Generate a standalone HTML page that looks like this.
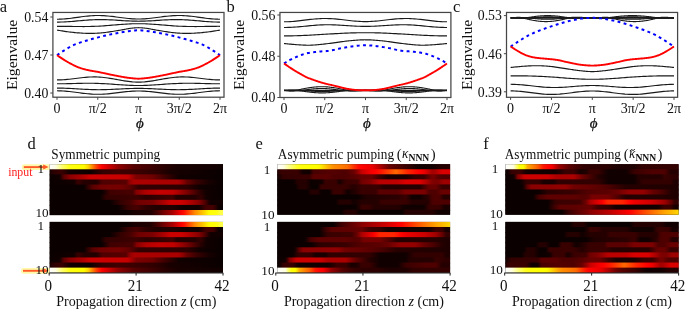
<!DOCTYPE html>
<html>
<head>
<meta charset="utf-8">
<title>Figure</title>
<style>
html,body{margin:0;padding:0;background:#ffffff;}
body{width:685px;height:309px;overflow:hidden;font-family:"Liberation Serif",serif;}
svg{display:block;will-change:transform;}
</style>
</head>
<body>
<svg width="685" height="309" viewBox="0 0 685 309" font-family="'Liberation Serif', serif" fill="#111">
<defs>
<linearGradient id="g1"><stop offset="0.0000" stop-color="#ffffff"/><stop offset="0.0116" stop-color="#fffff5"/><stop offset="0.0233" stop-color="#ffffeb"/><stop offset="0.0349" stop-color="#ffffe1"/><stop offset="0.0465" stop-color="#ffffbc"/><stop offset="0.0581" stop-color="#ffff97"/><stop offset="0.0698" stop-color="#ffff72"/><stop offset="0.0814" stop-color="#ffff5b"/><stop offset="0.0930" stop-color="#ffff43"/><stop offset="0.1047" stop-color="#ffff2b"/><stop offset="0.1163" stop-color="#ffff13"/><stop offset="0.1279" stop-color="#ffff0f"/><stop offset="0.1395" stop-color="#ffff0c"/><stop offset="0.1512" stop-color="#ffff08"/><stop offset="0.1628" stop-color="#ffff05"/><stop offset="0.1744" stop-color="#ffff01"/><stop offset="0.1860" stop-color="#fffd00"/><stop offset="0.1977" stop-color="#fffb00"/><stop offset="0.2093" stop-color="#ffe900"/><stop offset="0.2209" stop-color="#ffd600"/><stop offset="0.2326" stop-color="#ffb300"/><stop offset="0.2442" stop-color="#ff8b00"/><stop offset="0.2558" stop-color="#ff6800"/><stop offset="0.2674" stop-color="#ff4600"/><stop offset="0.2791" stop-color="#ff2900"/><stop offset="0.2907" stop-color="#ff1300"/><stop offset="0.3023" stop-color="#fc0000"/><stop offset="0.3140" stop-color="#ee0000"/><stop offset="0.3256" stop-color="#e10000"/><stop offset="0.3372" stop-color="#d30000"/><stop offset="0.3488" stop-color="#c60000"/><stop offset="0.3605" stop-color="#b90000"/><stop offset="0.3721" stop-color="#ab0000"/><stop offset="0.3837" stop-color="#9e0000"/><stop offset="0.3953" stop-color="#900000"/><stop offset="0.4070" stop-color="#890000"/><stop offset="0.4186" stop-color="#810000"/><stop offset="0.4302" stop-color="#7a0000"/><stop offset="0.4419" stop-color="#720000"/><stop offset="0.4535" stop-color="#6b0000"/><stop offset="0.4651" stop-color="#630000"/><stop offset="0.4767" stop-color="#5c0000"/><stop offset="0.4884" stop-color="#540000"/><stop offset="0.5000" stop-color="#520000"/><stop offset="0.5116" stop-color="#4f0000"/><stop offset="0.5233" stop-color="#4d0000"/><stop offset="0.5349" stop-color="#4a0000"/><stop offset="0.5465" stop-color="#480000"/><stop offset="0.5581" stop-color="#450000"/><stop offset="0.5698" stop-color="#430000"/><stop offset="0.5814" stop-color="#400000"/><stop offset="0.5930" stop-color="#3d0000"/><stop offset="0.6047" stop-color="#390000"/><stop offset="0.6163" stop-color="#360000"/><stop offset="0.6279" stop-color="#330000"/><stop offset="0.6395" stop-color="#2f0000"/><stop offset="0.6512" stop-color="#2c0000"/><stop offset="0.6628" stop-color="#290000"/><stop offset="0.6744" stop-color="#250000"/><stop offset="0.6860" stop-color="#230000"/><stop offset="0.6977" stop-color="#210000"/><stop offset="0.7093" stop-color="#1f0000"/><stop offset="0.7209" stop-color="#1c0000"/><stop offset="0.7326" stop-color="#1a0000"/><stop offset="0.7442" stop-color="#180000"/><stop offset="0.7558" stop-color="#180000"/><stop offset="0.7674" stop-color="#170000"/><stop offset="0.7907" stop-color="#170000"/><stop offset="0.8023" stop-color="#160000"/><stop offset="0.8256" stop-color="#160000"/><stop offset="0.8372" stop-color="#150000"/><stop offset="0.8605" stop-color="#150000"/><stop offset="0.8721" stop-color="#140000"/><stop offset="0.8953" stop-color="#140000"/><stop offset="0.9070" stop-color="#130000"/><stop offset="0.9302" stop-color="#130000"/><stop offset="0.9419" stop-color="#120000"/><stop offset="0.9651" stop-color="#120000"/><stop offset="0.9767" stop-color="#110000"/><stop offset="1.0000" stop-color="#110000"/></linearGradient>
<linearGradient id="g2"><stop offset="0.0000" stop-color="#180000"/><stop offset="0.0116" stop-color="#220000"/><stop offset="0.0233" stop-color="#2c0000"/><stop offset="0.0349" stop-color="#2f0000"/><stop offset="0.0465" stop-color="#330000"/><stop offset="0.0581" stop-color="#360000"/><stop offset="0.0698" stop-color="#390000"/><stop offset="0.0814" stop-color="#2f0000"/><stop offset="0.0930" stop-color="#250000"/><stop offset="0.1047" stop-color="#1b0000"/><stop offset="0.1163" stop-color="#110000"/><stop offset="0.1279" stop-color="#110000"/><stop offset="0.1395" stop-color="#100000"/><stop offset="0.1512" stop-color="#0f0000"/><stop offset="0.1628" stop-color="#0f0000"/><stop offset="0.1744" stop-color="#0e0000"/><stop offset="0.1860" stop-color="#0d0000"/><stop offset="0.1977" stop-color="#0d0000"/><stop offset="0.2093" stop-color="#0c0000"/><stop offset="0.2209" stop-color="#0b0000"/><stop offset="0.2326" stop-color="#0b0000"/><stop offset="0.2442" stop-color="#110000"/><stop offset="0.2558" stop-color="#180000"/><stop offset="0.2674" stop-color="#1f0000"/><stop offset="0.2791" stop-color="#250000"/><stop offset="0.2907" stop-color="#2c0000"/><stop offset="0.3023" stop-color="#330000"/><stop offset="0.3140" stop-color="#340000"/><stop offset="0.3256" stop-color="#360000"/><stop offset="0.3372" stop-color="#380000"/><stop offset="0.3488" stop-color="#390000"/><stop offset="0.3605" stop-color="#3b0000"/><stop offset="0.3721" stop-color="#3d0000"/><stop offset="0.3837" stop-color="#3e0000"/><stop offset="0.3953" stop-color="#400000"/><stop offset="0.4070" stop-color="#3f0000"/><stop offset="0.4186" stop-color="#3f0000"/><stop offset="0.4302" stop-color="#3e0000"/><stop offset="0.4419" stop-color="#3d0000"/><stop offset="0.4535" stop-color="#3d0000"/><stop offset="0.4651" stop-color="#3c0000"/><stop offset="0.4767" stop-color="#3b0000"/><stop offset="0.4884" stop-color="#3b0000"/><stop offset="0.5000" stop-color="#3a0000"/><stop offset="0.5116" stop-color="#390000"/><stop offset="0.5233" stop-color="#380000"/><stop offset="0.5349" stop-color="#370000"/><stop offset="0.5465" stop-color="#350000"/><stop offset="0.5581" stop-color="#340000"/><stop offset="0.5698" stop-color="#330000"/><stop offset="0.5814" stop-color="#310000"/><stop offset="0.5930" stop-color="#300000"/><stop offset="0.6047" stop-color="#2f0000"/><stop offset="0.6163" stop-color="#2d0000"/><stop offset="0.6279" stop-color="#2c0000"/><stop offset="0.6395" stop-color="#290000"/><stop offset="0.6512" stop-color="#250000"/><stop offset="0.6628" stop-color="#220000"/><stop offset="0.6744" stop-color="#1f0000"/><stop offset="0.6860" stop-color="#1b0000"/><stop offset="0.6977" stop-color="#180000"/><stop offset="0.7093" stop-color="#170000"/><stop offset="0.7209" stop-color="#170000"/><stop offset="0.7326" stop-color="#160000"/><stop offset="0.7442" stop-color="#160000"/><stop offset="0.7558" stop-color="#150000"/><stop offset="0.7674" stop-color="#150000"/><stop offset="0.7791" stop-color="#140000"/><stop offset="0.7907" stop-color="#140000"/><stop offset="0.8023" stop-color="#130000"/><stop offset="0.8140" stop-color="#120000"/><stop offset="0.8256" stop-color="#120000"/><stop offset="0.8372" stop-color="#110000"/><stop offset="0.8488" stop-color="#110000"/><stop offset="0.8605" stop-color="#100000"/><stop offset="0.8721" stop-color="#100000"/><stop offset="0.8837" stop-color="#0f0000"/><stop offset="0.8953" stop-color="#0f0000"/><stop offset="0.9070" stop-color="#0e0000"/><stop offset="0.9186" stop-color="#0d0000"/><stop offset="0.9302" stop-color="#0d0000"/><stop offset="0.9419" stop-color="#0c0000"/><stop offset="0.9535" stop-color="#0c0000"/><stop offset="0.9651" stop-color="#0b0000"/><stop offset="1.0000" stop-color="#0b0000"/></linearGradient>
<linearGradient id="g3"><stop offset="0.0000" stop-color="#0b0000"/><stop offset="0.0116" stop-color="#0c0000"/><stop offset="0.0233" stop-color="#0d0000"/><stop offset="0.0349" stop-color="#0f0000"/><stop offset="0.0465" stop-color="#100000"/><stop offset="0.0581" stop-color="#110000"/><stop offset="0.0698" stop-color="#360000"/><stop offset="0.0814" stop-color="#5b0000"/><stop offset="0.0930" stop-color="#6b0000"/><stop offset="0.1047" stop-color="#7a0000"/><stop offset="0.1163" stop-color="#8a0000"/><stop offset="0.1279" stop-color="#8f0000"/><stop offset="0.1395" stop-color="#950000"/><stop offset="0.1512" stop-color="#9b0000"/><stop offset="0.1628" stop-color="#a00000"/><stop offset="0.1744" stop-color="#a60000"/><stop offset="0.1860" stop-color="#ab0000"/><stop offset="0.1977" stop-color="#b30000"/><stop offset="0.2093" stop-color="#ba0000"/><stop offset="0.2209" stop-color="#c20000"/><stop offset="0.2326" stop-color="#ca0000"/><stop offset="0.2442" stop-color="#cd0000"/><stop offset="0.2558" stop-color="#cc0000"/><stop offset="0.2674" stop-color="#cc0000"/><stop offset="0.2791" stop-color="#cb0000"/><stop offset="0.3023" stop-color="#cb0000"/><stop offset="0.3140" stop-color="#ca0000"/><stop offset="0.3372" stop-color="#ca0000"/><stop offset="0.3488" stop-color="#c90000"/><stop offset="0.3721" stop-color="#c90000"/><stop offset="0.3837" stop-color="#c80000"/><stop offset="0.3953" stop-color="#c80000"/><stop offset="0.4070" stop-color="#c70000"/><stop offset="0.4302" stop-color="#c70000"/><stop offset="0.4419" stop-color="#c60000"/><stop offset="0.4535" stop-color="#c20000"/><stop offset="0.4651" stop-color="#b00000"/><stop offset="0.4767" stop-color="#9e0000"/><stop offset="0.4884" stop-color="#8d0000"/><stop offset="0.5000" stop-color="#7c0000"/><stop offset="0.5116" stop-color="#7b0000"/><stop offset="0.5233" stop-color="#790000"/><stop offset="0.5349" stop-color="#770000"/><stop offset="0.5465" stop-color="#760000"/><stop offset="0.5581" stop-color="#740000"/><stop offset="0.5698" stop-color="#720000"/><stop offset="0.5814" stop-color="#700000"/><stop offset="0.5930" stop-color="#6d0000"/><stop offset="0.6047" stop-color="#660000"/><stop offset="0.6163" stop-color="#5e0000"/><stop offset="0.6279" stop-color="#560000"/><stop offset="0.6395" stop-color="#4f0000"/><stop offset="0.6512" stop-color="#470000"/><stop offset="0.6628" stop-color="#400000"/><stop offset="0.6744" stop-color="#390000"/><stop offset="0.6860" stop-color="#330000"/><stop offset="0.6977" stop-color="#2c0000"/><stop offset="0.7093" stop-color="#250000"/><stop offset="0.7209" stop-color="#1f0000"/><stop offset="0.7326" stop-color="#180000"/><stop offset="0.7442" stop-color="#110000"/><stop offset="0.7674" stop-color="#110000"/><stop offset="0.7791" stop-color="#100000"/><stop offset="0.8023" stop-color="#100000"/><stop offset="0.8140" stop-color="#0f0000"/><stop offset="0.8372" stop-color="#0f0000"/><stop offset="0.8488" stop-color="#0e0000"/><stop offset="0.8721" stop-color="#0e0000"/><stop offset="0.8837" stop-color="#0d0000"/><stop offset="0.9070" stop-color="#0d0000"/><stop offset="0.9186" stop-color="#0c0000"/><stop offset="0.9419" stop-color="#0c0000"/><stop offset="0.9535" stop-color="#0b0000"/><stop offset="1.0000" stop-color="#0b0000"/></linearGradient>
<linearGradient id="g4"><stop offset="0.0000" stop-color="#0b0000"/><stop offset="0.0116" stop-color="#0b0000"/><stop offset="0.0233" stop-color="#0c0000"/><stop offset="0.0349" stop-color="#0c0000"/><stop offset="0.0465" stop-color="#0d0000"/><stop offset="0.0581" stop-color="#0d0000"/><stop offset="0.0698" stop-color="#0e0000"/><stop offset="0.0814" stop-color="#0f0000"/><stop offset="0.0930" stop-color="#0f0000"/><stop offset="0.1047" stop-color="#100000"/><stop offset="0.1163" stop-color="#100000"/><stop offset="0.1279" stop-color="#110000"/><stop offset="0.1395" stop-color="#110000"/><stop offset="0.1512" stop-color="#250000"/><stop offset="0.1628" stop-color="#390000"/><stop offset="0.1744" stop-color="#330000"/><stop offset="0.1860" stop-color="#2c0000"/><stop offset="0.1977" stop-color="#250000"/><stop offset="0.2093" stop-color="#250000"/><stop offset="0.2209" stop-color="#240000"/><stop offset="0.2326" stop-color="#240000"/><stop offset="0.2442" stop-color="#230000"/><stop offset="0.2558" stop-color="#230000"/><stop offset="0.2674" stop-color="#220000"/><stop offset="0.2791" stop-color="#2b0000"/><stop offset="0.2907" stop-color="#400000"/><stop offset="0.3023" stop-color="#4e0000"/><stop offset="0.3140" stop-color="#4f0000"/><stop offset="0.3256" stop-color="#4f0000"/><stop offset="0.3372" stop-color="#500000"/><stop offset="0.3488" stop-color="#510000"/><stop offset="0.3605" stop-color="#520000"/><stop offset="0.3721" stop-color="#530000"/><stop offset="0.3837" stop-color="#540000"/><stop offset="0.3953" stop-color="#540000"/><stop offset="0.4070" stop-color="#550000"/><stop offset="0.4186" stop-color="#560000"/><stop offset="0.4302" stop-color="#570000"/><stop offset="0.4419" stop-color="#580000"/><stop offset="0.4535" stop-color="#7b0000"/><stop offset="0.4651" stop-color="#950000"/><stop offset="0.4767" stop-color="#a00000"/><stop offset="0.4884" stop-color="#ab0000"/><stop offset="0.7326" stop-color="#ab0000"/><stop offset="0.7442" stop-color="#a70000"/><stop offset="0.7558" stop-color="#9c0000"/><stop offset="0.7674" stop-color="#900000"/><stop offset="0.7791" stop-color="#7c0000"/><stop offset="0.7907" stop-color="#680000"/><stop offset="0.8023" stop-color="#5f0000"/><stop offset="0.8140" stop-color="#560000"/><stop offset="0.8256" stop-color="#4c0000"/><stop offset="0.8372" stop-color="#430000"/><stop offset="0.8488" stop-color="#390000"/><stop offset="0.8605" stop-color="#340000"/><stop offset="0.8721" stop-color="#2e0000"/><stop offset="0.8837" stop-color="#290000"/><stop offset="0.8953" stop-color="#230000"/><stop offset="0.9070" stop-color="#1e0000"/><stop offset="0.9186" stop-color="#180000"/><stop offset="0.9302" stop-color="#150000"/><stop offset="0.9419" stop-color="#130000"/><stop offset="0.9535" stop-color="#100000"/><stop offset="0.9651" stop-color="#0d0000"/><stop offset="0.9767" stop-color="#0b0000"/><stop offset="1.0000" stop-color="#0b0000"/></linearGradient>
<linearGradient id="g5"><stop offset="0.0000" stop-color="#0b0000"/><stop offset="0.1977" stop-color="#0b0000"/><stop offset="0.2093" stop-color="#1d0000"/><stop offset="0.2209" stop-color="#2f0000"/><stop offset="0.2326" stop-color="#410000"/><stop offset="0.2442" stop-color="#540000"/><stop offset="0.2558" stop-color="#5e0000"/><stop offset="0.2674" stop-color="#640000"/><stop offset="0.2791" stop-color="#690000"/><stop offset="0.2907" stop-color="#6f0000"/><stop offset="0.3023" stop-color="#730000"/><stop offset="0.3256" stop-color="#730000"/><stop offset="0.3372" stop-color="#740000"/><stop offset="0.3605" stop-color="#740000"/><stop offset="0.3721" stop-color="#750000"/><stop offset="0.3837" stop-color="#750000"/><stop offset="0.3953" stop-color="#760000"/><stop offset="0.4070" stop-color="#730000"/><stop offset="0.4186" stop-color="#700000"/><stop offset="0.4302" stop-color="#6c0000"/><stop offset="0.4419" stop-color="#680000"/><stop offset="0.4535" stop-color="#630000"/><stop offset="0.4651" stop-color="#5a0000"/><stop offset="0.4767" stop-color="#500000"/><stop offset="0.4884" stop-color="#470000"/><stop offset="0.5000" stop-color="#3d0000"/><stop offset="0.5116" stop-color="#330000"/><stop offset="0.5581" stop-color="#330000"/><stop offset="0.5698" stop-color="#320000"/><stop offset="0.5930" stop-color="#320000"/><stop offset="0.6047" stop-color="#310000"/><stop offset="0.6279" stop-color="#310000"/><stop offset="0.6395" stop-color="#300000"/><stop offset="0.6628" stop-color="#300000"/><stop offset="0.6744" stop-color="#2f0000"/><stop offset="0.6977" stop-color="#2f0000"/><stop offset="0.7093" stop-color="#2e0000"/><stop offset="0.7326" stop-color="#2e0000"/><stop offset="0.7442" stop-color="#2d0000"/><stop offset="0.7674" stop-color="#2d0000"/><stop offset="0.7791" stop-color="#2c0000"/><stop offset="0.7907" stop-color="#2c0000"/><stop offset="0.8023" stop-color="#280000"/><stop offset="0.8140" stop-color="#230000"/><stop offset="0.8256" stop-color="#1f0000"/><stop offset="0.8372" stop-color="#1a0000"/><stop offset="0.8488" stop-color="#160000"/><stop offset="0.8605" stop-color="#110000"/><stop offset="0.8721" stop-color="#110000"/><stop offset="0.8837" stop-color="#100000"/><stop offset="0.8953" stop-color="#0f0000"/><stop offset="0.9070" stop-color="#0f0000"/><stop offset="0.9186" stop-color="#0e0000"/><stop offset="0.9302" stop-color="#0d0000"/><stop offset="0.9419" stop-color="#0d0000"/><stop offset="0.9535" stop-color="#0c0000"/><stop offset="0.9651" stop-color="#0b0000"/><stop offset="1.0000" stop-color="#0b0000"/></linearGradient>
<linearGradient id="g6"><stop offset="0.0000" stop-color="#0b0000"/><stop offset="0.3023" stop-color="#0b0000"/><stop offset="0.3140" stop-color="#180000"/><stop offset="0.3256" stop-color="#250000"/><stop offset="0.3372" stop-color="#330000"/><stop offset="0.3488" stop-color="#400000"/><stop offset="0.3605" stop-color="#410000"/><stop offset="0.3721" stop-color="#410000"/><stop offset="0.3837" stop-color="#420000"/><stop offset="0.3953" stop-color="#430000"/><stop offset="0.4070" stop-color="#430000"/><stop offset="0.4186" stop-color="#440000"/><stop offset="0.4302" stop-color="#440000"/><stop offset="0.4419" stop-color="#450000"/><stop offset="0.4535" stop-color="#450000"/><stop offset="0.4651" stop-color="#460000"/><stop offset="0.4767" stop-color="#470000"/><stop offset="0.4884" stop-color="#5d0000"/><stop offset="0.5000" stop-color="#830000"/><stop offset="0.5116" stop-color="#8c0000"/><stop offset="0.5233" stop-color="#960000"/><stop offset="0.5349" stop-color="#9f0000"/><stop offset="0.5465" stop-color="#a90000"/><stop offset="0.5581" stop-color="#b20000"/><stop offset="0.5698" stop-color="#b50000"/><stop offset="0.5814" stop-color="#b80000"/><stop offset="0.5930" stop-color="#bb0000"/><stop offset="0.6047" stop-color="#be0000"/><stop offset="0.6163" stop-color="#c10000"/><stop offset="0.6279" stop-color="#c40000"/><stop offset="0.6395" stop-color="#c60000"/><stop offset="0.6512" stop-color="#c50000"/><stop offset="0.6628" stop-color="#c40000"/><stop offset="0.6744" stop-color="#c30000"/><stop offset="0.6860" stop-color="#c20000"/><stop offset="0.6977" stop-color="#c10000"/><stop offset="0.7093" stop-color="#c00000"/><stop offset="0.7209" stop-color="#ba0000"/><stop offset="0.7326" stop-color="#b00000"/><stop offset="0.7442" stop-color="#a70000"/><stop offset="0.7558" stop-color="#9e0000"/><stop offset="0.7674" stop-color="#930000"/><stop offset="0.7791" stop-color="#880000"/><stop offset="0.7907" stop-color="#7d0000"/><stop offset="0.8023" stop-color="#710000"/><stop offset="0.8140" stop-color="#660000"/><stop offset="0.8256" stop-color="#590000"/><stop offset="0.8372" stop-color="#4d0000"/><stop offset="0.8488" stop-color="#400000"/><stop offset="0.8605" stop-color="#330000"/><stop offset="0.8721" stop-color="#290000"/><stop offset="0.8837" stop-color="#200000"/><stop offset="0.8953" stop-color="#170000"/><stop offset="0.9070" stop-color="#110000"/><stop offset="0.9186" stop-color="#100000"/><stop offset="0.9302" stop-color="#0f0000"/><stop offset="0.9419" stop-color="#0e0000"/><stop offset="0.9535" stop-color="#0d0000"/><stop offset="0.9651" stop-color="#0c0000"/><stop offset="0.9767" stop-color="#0b0000"/><stop offset="1.0000" stop-color="#0b0000"/></linearGradient>
<linearGradient id="g7"><stop offset="0.0000" stop-color="#0b0000"/><stop offset="0.2907" stop-color="#0b0000"/><stop offset="0.3023" stop-color="#180000"/><stop offset="0.3140" stop-color="#250000"/><stop offset="0.3256" stop-color="#330000"/><stop offset="0.3372" stop-color="#330000"/><stop offset="0.3488" stop-color="#340000"/><stop offset="0.3605" stop-color="#350000"/><stop offset="0.3721" stop-color="#350000"/><stop offset="0.3837" stop-color="#360000"/><stop offset="0.3953" stop-color="#370000"/><stop offset="0.4070" stop-color="#370000"/><stop offset="0.4186" stop-color="#380000"/><stop offset="0.4302" stop-color="#390000"/><stop offset="0.4419" stop-color="#390000"/><stop offset="0.4535" stop-color="#3a0000"/><stop offset="0.4651" stop-color="#3b0000"/><stop offset="0.4767" stop-color="#3b0000"/><stop offset="0.4884" stop-color="#3c0000"/><stop offset="0.5000" stop-color="#3d0000"/><stop offset="0.5116" stop-color="#390000"/><stop offset="0.5233" stop-color="#360000"/><stop offset="0.5349" stop-color="#330000"/><stop offset="0.5465" stop-color="#2f0000"/><stop offset="0.5581" stop-color="#2c0000"/><stop offset="0.5698" stop-color="#2e0000"/><stop offset="0.5814" stop-color="#2f0000"/><stop offset="0.5930" stop-color="#310000"/><stop offset="0.6047" stop-color="#320000"/><stop offset="0.6163" stop-color="#340000"/><stop offset="0.6279" stop-color="#350000"/><stop offset="0.6395" stop-color="#370000"/><stop offset="0.6512" stop-color="#380000"/><stop offset="0.6628" stop-color="#3a0000"/><stop offset="0.6744" stop-color="#3c0000"/><stop offset="0.6860" stop-color="#3d0000"/><stop offset="0.6977" stop-color="#3f0000"/><stop offset="0.7093" stop-color="#400000"/><stop offset="0.7209" stop-color="#310000"/><stop offset="0.7326" stop-color="#220000"/><stop offset="0.8372" stop-color="#220000"/><stop offset="0.8488" stop-color="#280000"/><stop offset="0.8605" stop-color="#2d0000"/><stop offset="0.8721" stop-color="#330000"/><stop offset="0.8837" stop-color="#280000"/><stop offset="0.8953" stop-color="#1c0000"/><stop offset="0.9070" stop-color="#110000"/><stop offset="0.9186" stop-color="#100000"/><stop offset="0.9302" stop-color="#0f0000"/><stop offset="0.9419" stop-color="#0e0000"/><stop offset="0.9535" stop-color="#0d0000"/><stop offset="0.9651" stop-color="#0c0000"/><stop offset="0.9767" stop-color="#0b0000"/><stop offset="1.0000" stop-color="#0b0000"/></linearGradient>
<linearGradient id="g8"><stop offset="0.0000" stop-color="#0b0000"/><stop offset="0.3488" stop-color="#0b0000"/><stop offset="0.3605" stop-color="#130000"/><stop offset="0.3721" stop-color="#1b0000"/><stop offset="0.3837" stop-color="#230000"/><stop offset="0.3953" stop-color="#2b0000"/><stop offset="0.4070" stop-color="#330000"/><stop offset="0.4186" stop-color="#370000"/><stop offset="0.4302" stop-color="#3b0000"/><stop offset="0.4419" stop-color="#3f0000"/><stop offset="0.4535" stop-color="#430000"/><stop offset="0.4651" stop-color="#470000"/><stop offset="0.4767" stop-color="#510000"/><stop offset="0.4884" stop-color="#5b0000"/><stop offset="0.5000" stop-color="#650000"/><stop offset="0.5116" stop-color="#6f0000"/><stop offset="0.5233" stop-color="#710000"/><stop offset="0.5349" stop-color="#730000"/><stop offset="0.5465" stop-color="#750000"/><stop offset="0.5581" stop-color="#770000"/><stop offset="0.5698" stop-color="#790000"/><stop offset="0.5814" stop-color="#7a0000"/><stop offset="0.5930" stop-color="#7c0000"/><stop offset="0.6047" stop-color="#840000"/><stop offset="0.6163" stop-color="#8d0000"/><stop offset="0.6279" stop-color="#950000"/><stop offset="0.6395" stop-color="#9d0000"/><stop offset="0.6512" stop-color="#a50000"/><stop offset="0.6628" stop-color="#ad0000"/><stop offset="0.6744" stop-color="#b80000"/><stop offset="0.6860" stop-color="#c20000"/><stop offset="0.6977" stop-color="#cd0000"/><stop offset="0.7558" stop-color="#cd0000"/><stop offset="0.7674" stop-color="#c80000"/><stop offset="0.7791" stop-color="#c10000"/><stop offset="0.7907" stop-color="#ba0000"/><stop offset="0.8023" stop-color="#b30000"/><stop offset="0.8140" stop-color="#ab0000"/><stop offset="0.8256" stop-color="#a20000"/><stop offset="0.8372" stop-color="#9a0000"/><stop offset="0.8488" stop-color="#910000"/><stop offset="0.8605" stop-color="#880000"/><stop offset="0.8721" stop-color="#750000"/><stop offset="0.8837" stop-color="#620000"/><stop offset="0.8953" stop-color="#4f0000"/><stop offset="0.9070" stop-color="#390000"/><stop offset="0.9186" stop-color="#1d0000"/><stop offset="0.9302" stop-color="#110000"/><stop offset="1.0000" stop-color="#110000"/></linearGradient>
<linearGradient id="g9"><stop offset="0.0000" stop-color="#0b0000"/><stop offset="0.3953" stop-color="#0b0000"/><stop offset="0.4070" stop-color="#140000"/><stop offset="0.4186" stop-color="#1d0000"/><stop offset="0.4302" stop-color="#270000"/><stop offset="0.4419" stop-color="#300000"/><stop offset="0.4535" stop-color="#390000"/><stop offset="0.4651" stop-color="#3d0000"/><stop offset="0.4767" stop-color="#400000"/><stop offset="0.4884" stop-color="#440000"/><stop offset="0.5000" stop-color="#470000"/><stop offset="0.5116" stop-color="#420000"/><stop offset="0.5233" stop-color="#3c0000"/><stop offset="0.5349" stop-color="#370000"/><stop offset="0.5465" stop-color="#310000"/><stop offset="0.5581" stop-color="#2c0000"/><stop offset="0.5698" stop-color="#2a0000"/><stop offset="0.5814" stop-color="#280000"/><stop offset="0.5930" stop-color="#250000"/><stop offset="0.6047" stop-color="#230000"/><stop offset="0.6163" stop-color="#210000"/><stop offset="0.6279" stop-color="#1f0000"/><stop offset="0.6395" stop-color="#1f0000"/><stop offset="0.6512" stop-color="#200000"/><stop offset="0.6628" stop-color="#200000"/><stop offset="0.6744" stop-color="#210000"/><stop offset="0.6977" stop-color="#210000"/><stop offset="0.7093" stop-color="#220000"/><stop offset="0.7209" stop-color="#1f0000"/><stop offset="0.7326" stop-color="#1c0000"/><stop offset="0.7442" stop-color="#180000"/><stop offset="0.7558" stop-color="#150000"/><stop offset="0.7674" stop-color="#110000"/><stop offset="0.8605" stop-color="#110000"/><stop offset="0.8721" stop-color="#1f0000"/><stop offset="0.8837" stop-color="#2e0000"/><stop offset="0.8953" stop-color="#3c0000"/><stop offset="0.9070" stop-color="#440000"/><stop offset="0.9419" stop-color="#440000"/><stop offset="0.9535" stop-color="#320000"/><stop offset="0.9651" stop-color="#1c0000"/><stop offset="0.9767" stop-color="#0b0000"/><stop offset="1.0000" stop-color="#0b0000"/></linearGradient>
<linearGradient id="g10"><stop offset="0.0000" stop-color="#0b0000"/><stop offset="0.4419" stop-color="#0b0000"/><stop offset="0.4535" stop-color="#0e0000"/><stop offset="0.4651" stop-color="#110000"/><stop offset="0.4767" stop-color="#150000"/><stop offset="0.4884" stop-color="#180000"/><stop offset="0.5000" stop-color="#190000"/><stop offset="0.5116" stop-color="#1a0000"/><stop offset="0.5233" stop-color="#1b0000"/><stop offset="0.5349" stop-color="#1b0000"/><stop offset="0.5465" stop-color="#1c0000"/><stop offset="0.5581" stop-color="#1d0000"/><stop offset="0.5698" stop-color="#1e0000"/><stop offset="0.5814" stop-color="#1f0000"/><stop offset="0.5930" stop-color="#2a0000"/><stop offset="0.6047" stop-color="#350000"/><stop offset="0.6163" stop-color="#400000"/><stop offset="0.6279" stop-color="#4e0000"/><stop offset="0.6395" stop-color="#5c0000"/><stop offset="0.6512" stop-color="#6a0000"/><stop offset="0.6628" stop-color="#780000"/><stop offset="0.6744" stop-color="#840000"/><stop offset="0.6860" stop-color="#900000"/><stop offset="0.6977" stop-color="#9d0000"/><stop offset="0.7093" stop-color="#a90000"/><stop offset="0.7209" stop-color="#bb0000"/><stop offset="0.7326" stop-color="#cf0000"/><stop offset="0.7442" stop-color="#e20000"/><stop offset="0.7558" stop-color="#f40000"/><stop offset="0.7674" stop-color="#ff0500"/><stop offset="0.7791" stop-color="#ff1500"/><stop offset="0.7907" stop-color="#ff2c00"/><stop offset="0.8023" stop-color="#ff4400"/><stop offset="0.8140" stop-color="#ff5b00"/><stop offset="0.8256" stop-color="#ff7200"/><stop offset="0.8372" stop-color="#ff8900"/><stop offset="0.8488" stop-color="#ff9800"/><stop offset="0.8605" stop-color="#ffa800"/><stop offset="0.8721" stop-color="#ffb700"/><stop offset="0.8837" stop-color="#ffc600"/><stop offset="0.8953" stop-color="#ffd700"/><stop offset="0.9070" stop-color="#ffe900"/><stop offset="0.9186" stop-color="#fffb00"/><stop offset="0.9302" stop-color="#ffff06"/><stop offset="0.9419" stop-color="#ffff09"/><stop offset="0.9535" stop-color="#ffff0c"/><stop offset="0.9651" stop-color="#ffff14"/><stop offset="0.9767" stop-color="#ffff2f"/><stop offset="0.9884" stop-color="#ffff4a"/><stop offset="1.0000" stop-color="#ffff4a"/></linearGradient>
<linearGradient id="g11"><stop offset="0.0000" stop-color="#0b0000"/><stop offset="0.4419" stop-color="#0b0000"/><stop offset="0.4535" stop-color="#0e0000"/><stop offset="0.4651" stop-color="#110000"/><stop offset="0.4767" stop-color="#150000"/><stop offset="0.4884" stop-color="#180000"/><stop offset="0.5000" stop-color="#190000"/><stop offset="0.5116" stop-color="#1a0000"/><stop offset="0.5233" stop-color="#1b0000"/><stop offset="0.5349" stop-color="#1b0000"/><stop offset="0.5465" stop-color="#1c0000"/><stop offset="0.5581" stop-color="#1d0000"/><stop offset="0.5698" stop-color="#1e0000"/><stop offset="0.5814" stop-color="#1f0000"/><stop offset="0.5930" stop-color="#2a0000"/><stop offset="0.6047" stop-color="#350000"/><stop offset="0.6163" stop-color="#400000"/><stop offset="0.6279" stop-color="#4e0000"/><stop offset="0.6395" stop-color="#5c0000"/><stop offset="0.6512" stop-color="#6a0000"/><stop offset="0.6628" stop-color="#780000"/><stop offset="0.6744" stop-color="#840000"/><stop offset="0.6860" stop-color="#900000"/><stop offset="0.6977" stop-color="#9d0000"/><stop offset="0.7093" stop-color="#a90000"/><stop offset="0.7209" stop-color="#bb0000"/><stop offset="0.7326" stop-color="#cf0000"/><stop offset="0.7442" stop-color="#e20000"/><stop offset="0.7558" stop-color="#f40000"/><stop offset="0.7674" stop-color="#ff0500"/><stop offset="0.7791" stop-color="#ff1500"/><stop offset="0.7907" stop-color="#ff2c00"/><stop offset="0.8023" stop-color="#ff4400"/><stop offset="0.8140" stop-color="#ff5b00"/><stop offset="0.8256" stop-color="#ff7200"/><stop offset="0.8372" stop-color="#ff8900"/><stop offset="0.8488" stop-color="#ff9800"/><stop offset="0.8605" stop-color="#ffa800"/><stop offset="0.8721" stop-color="#ffb700"/><stop offset="0.8837" stop-color="#ffc600"/><stop offset="0.8953" stop-color="#ffd700"/><stop offset="0.9070" stop-color="#ffe900"/><stop offset="0.9186" stop-color="#fffb00"/><stop offset="0.9302" stop-color="#ffff06"/><stop offset="0.9419" stop-color="#ffff09"/><stop offset="0.9535" stop-color="#ffff0c"/><stop offset="0.9651" stop-color="#ffff14"/><stop offset="0.9767" stop-color="#ffff2f"/><stop offset="0.9884" stop-color="#ffff4a"/><stop offset="1.0000" stop-color="#ffff4a"/></linearGradient>
<linearGradient id="g12"><stop offset="0.0000" stop-color="#0b0000"/><stop offset="0.3953" stop-color="#0b0000"/><stop offset="0.4070" stop-color="#140000"/><stop offset="0.4186" stop-color="#1d0000"/><stop offset="0.4302" stop-color="#270000"/><stop offset="0.4419" stop-color="#300000"/><stop offset="0.4535" stop-color="#390000"/><stop offset="0.4651" stop-color="#3d0000"/><stop offset="0.4767" stop-color="#400000"/><stop offset="0.4884" stop-color="#440000"/><stop offset="0.5000" stop-color="#470000"/><stop offset="0.5116" stop-color="#420000"/><stop offset="0.5233" stop-color="#3c0000"/><stop offset="0.5349" stop-color="#370000"/><stop offset="0.5465" stop-color="#310000"/><stop offset="0.5581" stop-color="#2c0000"/><stop offset="0.5698" stop-color="#2a0000"/><stop offset="0.5814" stop-color="#280000"/><stop offset="0.5930" stop-color="#250000"/><stop offset="0.6047" stop-color="#230000"/><stop offset="0.6163" stop-color="#210000"/><stop offset="0.6279" stop-color="#1f0000"/><stop offset="0.6395" stop-color="#1f0000"/><stop offset="0.6512" stop-color="#200000"/><stop offset="0.6628" stop-color="#200000"/><stop offset="0.6744" stop-color="#210000"/><stop offset="0.6977" stop-color="#210000"/><stop offset="0.7093" stop-color="#220000"/><stop offset="0.7209" stop-color="#1f0000"/><stop offset="0.7326" stop-color="#1c0000"/><stop offset="0.7442" stop-color="#180000"/><stop offset="0.7558" stop-color="#150000"/><stop offset="0.7674" stop-color="#110000"/><stop offset="0.8605" stop-color="#110000"/><stop offset="0.8721" stop-color="#1f0000"/><stop offset="0.8837" stop-color="#2e0000"/><stop offset="0.8953" stop-color="#3c0000"/><stop offset="0.9070" stop-color="#440000"/><stop offset="0.9419" stop-color="#440000"/><stop offset="0.9535" stop-color="#320000"/><stop offset="0.9651" stop-color="#1c0000"/><stop offset="0.9767" stop-color="#0b0000"/><stop offset="1.0000" stop-color="#0b0000"/></linearGradient>
<linearGradient id="g13"><stop offset="0.0000" stop-color="#0b0000"/><stop offset="0.3488" stop-color="#0b0000"/><stop offset="0.3605" stop-color="#130000"/><stop offset="0.3721" stop-color="#1b0000"/><stop offset="0.3837" stop-color="#230000"/><stop offset="0.3953" stop-color="#2b0000"/><stop offset="0.4070" stop-color="#330000"/><stop offset="0.4186" stop-color="#370000"/><stop offset="0.4302" stop-color="#3b0000"/><stop offset="0.4419" stop-color="#3f0000"/><stop offset="0.4535" stop-color="#430000"/><stop offset="0.4651" stop-color="#470000"/><stop offset="0.4767" stop-color="#510000"/><stop offset="0.4884" stop-color="#5b0000"/><stop offset="0.5000" stop-color="#650000"/><stop offset="0.5116" stop-color="#6f0000"/><stop offset="0.5233" stop-color="#710000"/><stop offset="0.5349" stop-color="#730000"/><stop offset="0.5465" stop-color="#750000"/><stop offset="0.5581" stop-color="#770000"/><stop offset="0.5698" stop-color="#790000"/><stop offset="0.5814" stop-color="#7a0000"/><stop offset="0.5930" stop-color="#7c0000"/><stop offset="0.6047" stop-color="#840000"/><stop offset="0.6163" stop-color="#8d0000"/><stop offset="0.6279" stop-color="#950000"/><stop offset="0.6395" stop-color="#9d0000"/><stop offset="0.6512" stop-color="#a50000"/><stop offset="0.6628" stop-color="#ad0000"/><stop offset="0.6744" stop-color="#b80000"/><stop offset="0.6860" stop-color="#c20000"/><stop offset="0.6977" stop-color="#cd0000"/><stop offset="0.7558" stop-color="#cd0000"/><stop offset="0.7674" stop-color="#c80000"/><stop offset="0.7791" stop-color="#c10000"/><stop offset="0.7907" stop-color="#ba0000"/><stop offset="0.8023" stop-color="#b30000"/><stop offset="0.8140" stop-color="#ab0000"/><stop offset="0.8256" stop-color="#a20000"/><stop offset="0.8372" stop-color="#9a0000"/><stop offset="0.8488" stop-color="#910000"/><stop offset="0.8605" stop-color="#880000"/><stop offset="0.8721" stop-color="#750000"/><stop offset="0.8837" stop-color="#620000"/><stop offset="0.8953" stop-color="#4f0000"/><stop offset="0.9070" stop-color="#390000"/><stop offset="0.9186" stop-color="#1d0000"/><stop offset="0.9302" stop-color="#110000"/><stop offset="1.0000" stop-color="#110000"/></linearGradient>
<linearGradient id="g14"><stop offset="0.0000" stop-color="#0b0000"/><stop offset="0.2907" stop-color="#0b0000"/><stop offset="0.3023" stop-color="#180000"/><stop offset="0.3140" stop-color="#250000"/><stop offset="0.3256" stop-color="#330000"/><stop offset="0.3372" stop-color="#330000"/><stop offset="0.3488" stop-color="#340000"/><stop offset="0.3605" stop-color="#350000"/><stop offset="0.3721" stop-color="#350000"/><stop offset="0.3837" stop-color="#360000"/><stop offset="0.3953" stop-color="#370000"/><stop offset="0.4070" stop-color="#370000"/><stop offset="0.4186" stop-color="#380000"/><stop offset="0.4302" stop-color="#390000"/><stop offset="0.4419" stop-color="#390000"/><stop offset="0.4535" stop-color="#3a0000"/><stop offset="0.4651" stop-color="#3b0000"/><stop offset="0.4767" stop-color="#3b0000"/><stop offset="0.4884" stop-color="#3c0000"/><stop offset="0.5000" stop-color="#3d0000"/><stop offset="0.5116" stop-color="#390000"/><stop offset="0.5233" stop-color="#360000"/><stop offset="0.5349" stop-color="#330000"/><stop offset="0.5465" stop-color="#2f0000"/><stop offset="0.5581" stop-color="#2c0000"/><stop offset="0.5698" stop-color="#2e0000"/><stop offset="0.5814" stop-color="#2f0000"/><stop offset="0.5930" stop-color="#310000"/><stop offset="0.6047" stop-color="#320000"/><stop offset="0.6163" stop-color="#340000"/><stop offset="0.6279" stop-color="#350000"/><stop offset="0.6395" stop-color="#370000"/><stop offset="0.6512" stop-color="#380000"/><stop offset="0.6628" stop-color="#3a0000"/><stop offset="0.6744" stop-color="#3c0000"/><stop offset="0.6860" stop-color="#3d0000"/><stop offset="0.6977" stop-color="#3f0000"/><stop offset="0.7093" stop-color="#400000"/><stop offset="0.7209" stop-color="#310000"/><stop offset="0.7326" stop-color="#220000"/><stop offset="0.8372" stop-color="#220000"/><stop offset="0.8488" stop-color="#280000"/><stop offset="0.8605" stop-color="#2d0000"/><stop offset="0.8721" stop-color="#330000"/><stop offset="0.8837" stop-color="#280000"/><stop offset="0.8953" stop-color="#1c0000"/><stop offset="0.9070" stop-color="#110000"/><stop offset="0.9186" stop-color="#100000"/><stop offset="0.9302" stop-color="#0f0000"/><stop offset="0.9419" stop-color="#0e0000"/><stop offset="0.9535" stop-color="#0d0000"/><stop offset="0.9651" stop-color="#0c0000"/><stop offset="0.9767" stop-color="#0b0000"/><stop offset="1.0000" stop-color="#0b0000"/></linearGradient>
<linearGradient id="g15"><stop offset="0.0000" stop-color="#0b0000"/><stop offset="0.3023" stop-color="#0b0000"/><stop offset="0.3140" stop-color="#180000"/><stop offset="0.3256" stop-color="#250000"/><stop offset="0.3372" stop-color="#330000"/><stop offset="0.3488" stop-color="#400000"/><stop offset="0.3605" stop-color="#410000"/><stop offset="0.3721" stop-color="#410000"/><stop offset="0.3837" stop-color="#420000"/><stop offset="0.3953" stop-color="#430000"/><stop offset="0.4070" stop-color="#430000"/><stop offset="0.4186" stop-color="#440000"/><stop offset="0.4302" stop-color="#440000"/><stop offset="0.4419" stop-color="#450000"/><stop offset="0.4535" stop-color="#450000"/><stop offset="0.4651" stop-color="#460000"/><stop offset="0.4767" stop-color="#470000"/><stop offset="0.4884" stop-color="#5d0000"/><stop offset="0.5000" stop-color="#830000"/><stop offset="0.5116" stop-color="#8c0000"/><stop offset="0.5233" stop-color="#960000"/><stop offset="0.5349" stop-color="#9f0000"/><stop offset="0.5465" stop-color="#a90000"/><stop offset="0.5581" stop-color="#b20000"/><stop offset="0.5698" stop-color="#b50000"/><stop offset="0.5814" stop-color="#b80000"/><stop offset="0.5930" stop-color="#bb0000"/><stop offset="0.6047" stop-color="#be0000"/><stop offset="0.6163" stop-color="#c10000"/><stop offset="0.6279" stop-color="#c40000"/><stop offset="0.6395" stop-color="#c60000"/><stop offset="0.6512" stop-color="#c50000"/><stop offset="0.6628" stop-color="#c40000"/><stop offset="0.6744" stop-color="#c30000"/><stop offset="0.6860" stop-color="#c20000"/><stop offset="0.6977" stop-color="#c10000"/><stop offset="0.7093" stop-color="#c00000"/><stop offset="0.7209" stop-color="#ba0000"/><stop offset="0.7326" stop-color="#b00000"/><stop offset="0.7442" stop-color="#a70000"/><stop offset="0.7558" stop-color="#9e0000"/><stop offset="0.7674" stop-color="#930000"/><stop offset="0.7791" stop-color="#880000"/><stop offset="0.7907" stop-color="#7d0000"/><stop offset="0.8023" stop-color="#710000"/><stop offset="0.8140" stop-color="#660000"/><stop offset="0.8256" stop-color="#590000"/><stop offset="0.8372" stop-color="#4d0000"/><stop offset="0.8488" stop-color="#400000"/><stop offset="0.8605" stop-color="#330000"/><stop offset="0.8721" stop-color="#290000"/><stop offset="0.8837" stop-color="#200000"/><stop offset="0.8953" stop-color="#170000"/><stop offset="0.9070" stop-color="#110000"/><stop offset="0.9186" stop-color="#100000"/><stop offset="0.9302" stop-color="#0f0000"/><stop offset="0.9419" stop-color="#0e0000"/><stop offset="0.9535" stop-color="#0d0000"/><stop offset="0.9651" stop-color="#0c0000"/><stop offset="0.9767" stop-color="#0b0000"/><stop offset="1.0000" stop-color="#0b0000"/></linearGradient>
<linearGradient id="g16"><stop offset="0.0000" stop-color="#0b0000"/><stop offset="0.1977" stop-color="#0b0000"/><stop offset="0.2093" stop-color="#1d0000"/><stop offset="0.2209" stop-color="#2f0000"/><stop offset="0.2326" stop-color="#410000"/><stop offset="0.2442" stop-color="#540000"/><stop offset="0.2558" stop-color="#5e0000"/><stop offset="0.2674" stop-color="#640000"/><stop offset="0.2791" stop-color="#690000"/><stop offset="0.2907" stop-color="#6f0000"/><stop offset="0.3023" stop-color="#730000"/><stop offset="0.3256" stop-color="#730000"/><stop offset="0.3372" stop-color="#740000"/><stop offset="0.3605" stop-color="#740000"/><stop offset="0.3721" stop-color="#750000"/><stop offset="0.3837" stop-color="#750000"/><stop offset="0.3953" stop-color="#760000"/><stop offset="0.4070" stop-color="#730000"/><stop offset="0.4186" stop-color="#700000"/><stop offset="0.4302" stop-color="#6c0000"/><stop offset="0.4419" stop-color="#680000"/><stop offset="0.4535" stop-color="#630000"/><stop offset="0.4651" stop-color="#5a0000"/><stop offset="0.4767" stop-color="#500000"/><stop offset="0.4884" stop-color="#470000"/><stop offset="0.5000" stop-color="#3d0000"/><stop offset="0.5116" stop-color="#330000"/><stop offset="0.5581" stop-color="#330000"/><stop offset="0.5698" stop-color="#320000"/><stop offset="0.5930" stop-color="#320000"/><stop offset="0.6047" stop-color="#310000"/><stop offset="0.6279" stop-color="#310000"/><stop offset="0.6395" stop-color="#300000"/><stop offset="0.6628" stop-color="#300000"/><stop offset="0.6744" stop-color="#2f0000"/><stop offset="0.6977" stop-color="#2f0000"/><stop offset="0.7093" stop-color="#2e0000"/><stop offset="0.7326" stop-color="#2e0000"/><stop offset="0.7442" stop-color="#2d0000"/><stop offset="0.7674" stop-color="#2d0000"/><stop offset="0.7791" stop-color="#2c0000"/><stop offset="0.7907" stop-color="#2c0000"/><stop offset="0.8023" stop-color="#280000"/><stop offset="0.8140" stop-color="#230000"/><stop offset="0.8256" stop-color="#1f0000"/><stop offset="0.8372" stop-color="#1a0000"/><stop offset="0.8488" stop-color="#160000"/><stop offset="0.8605" stop-color="#110000"/><stop offset="0.8721" stop-color="#110000"/><stop offset="0.8837" stop-color="#100000"/><stop offset="0.8953" stop-color="#0f0000"/><stop offset="0.9070" stop-color="#0f0000"/><stop offset="0.9186" stop-color="#0e0000"/><stop offset="0.9302" stop-color="#0d0000"/><stop offset="0.9419" stop-color="#0d0000"/><stop offset="0.9535" stop-color="#0c0000"/><stop offset="0.9651" stop-color="#0b0000"/><stop offset="1.0000" stop-color="#0b0000"/></linearGradient>
<linearGradient id="g17"><stop offset="0.0000" stop-color="#0b0000"/><stop offset="0.0116" stop-color="#0b0000"/><stop offset="0.0233" stop-color="#0c0000"/><stop offset="0.0349" stop-color="#0c0000"/><stop offset="0.0465" stop-color="#0d0000"/><stop offset="0.0581" stop-color="#0d0000"/><stop offset="0.0698" stop-color="#0e0000"/><stop offset="0.0814" stop-color="#0f0000"/><stop offset="0.0930" stop-color="#0f0000"/><stop offset="0.1047" stop-color="#100000"/><stop offset="0.1163" stop-color="#100000"/><stop offset="0.1279" stop-color="#110000"/><stop offset="0.1395" stop-color="#110000"/><stop offset="0.1512" stop-color="#250000"/><stop offset="0.1628" stop-color="#390000"/><stop offset="0.1744" stop-color="#330000"/><stop offset="0.1860" stop-color="#2c0000"/><stop offset="0.1977" stop-color="#250000"/><stop offset="0.2093" stop-color="#250000"/><stop offset="0.2209" stop-color="#240000"/><stop offset="0.2326" stop-color="#240000"/><stop offset="0.2442" stop-color="#230000"/><stop offset="0.2558" stop-color="#230000"/><stop offset="0.2674" stop-color="#220000"/><stop offset="0.2791" stop-color="#2b0000"/><stop offset="0.2907" stop-color="#400000"/><stop offset="0.3023" stop-color="#4e0000"/><stop offset="0.3140" stop-color="#4f0000"/><stop offset="0.3256" stop-color="#4f0000"/><stop offset="0.3372" stop-color="#500000"/><stop offset="0.3488" stop-color="#510000"/><stop offset="0.3605" stop-color="#520000"/><stop offset="0.3721" stop-color="#530000"/><stop offset="0.3837" stop-color="#540000"/><stop offset="0.3953" stop-color="#540000"/><stop offset="0.4070" stop-color="#550000"/><stop offset="0.4186" stop-color="#560000"/><stop offset="0.4302" stop-color="#570000"/><stop offset="0.4419" stop-color="#580000"/><stop offset="0.4535" stop-color="#7b0000"/><stop offset="0.4651" stop-color="#950000"/><stop offset="0.4767" stop-color="#a00000"/><stop offset="0.4884" stop-color="#ab0000"/><stop offset="0.7326" stop-color="#ab0000"/><stop offset="0.7442" stop-color="#a70000"/><stop offset="0.7558" stop-color="#9c0000"/><stop offset="0.7674" stop-color="#900000"/><stop offset="0.7791" stop-color="#7c0000"/><stop offset="0.7907" stop-color="#680000"/><stop offset="0.8023" stop-color="#5f0000"/><stop offset="0.8140" stop-color="#560000"/><stop offset="0.8256" stop-color="#4c0000"/><stop offset="0.8372" stop-color="#430000"/><stop offset="0.8488" stop-color="#390000"/><stop offset="0.8605" stop-color="#340000"/><stop offset="0.8721" stop-color="#2e0000"/><stop offset="0.8837" stop-color="#290000"/><stop offset="0.8953" stop-color="#230000"/><stop offset="0.9070" stop-color="#1e0000"/><stop offset="0.9186" stop-color="#180000"/><stop offset="0.9302" stop-color="#150000"/><stop offset="0.9419" stop-color="#130000"/><stop offset="0.9535" stop-color="#100000"/><stop offset="0.9651" stop-color="#0d0000"/><stop offset="0.9767" stop-color="#0b0000"/><stop offset="1.0000" stop-color="#0b0000"/></linearGradient>
<linearGradient id="g18"><stop offset="0.0000" stop-color="#0b0000"/><stop offset="0.0116" stop-color="#0c0000"/><stop offset="0.0233" stop-color="#0d0000"/><stop offset="0.0349" stop-color="#0f0000"/><stop offset="0.0465" stop-color="#100000"/><stop offset="0.0581" stop-color="#110000"/><stop offset="0.0698" stop-color="#360000"/><stop offset="0.0814" stop-color="#5b0000"/><stop offset="0.0930" stop-color="#6b0000"/><stop offset="0.1047" stop-color="#7a0000"/><stop offset="0.1163" stop-color="#8a0000"/><stop offset="0.1279" stop-color="#8f0000"/><stop offset="0.1395" stop-color="#950000"/><stop offset="0.1512" stop-color="#9b0000"/><stop offset="0.1628" stop-color="#a00000"/><stop offset="0.1744" stop-color="#a60000"/><stop offset="0.1860" stop-color="#ab0000"/><stop offset="0.1977" stop-color="#b30000"/><stop offset="0.2093" stop-color="#ba0000"/><stop offset="0.2209" stop-color="#c20000"/><stop offset="0.2326" stop-color="#ca0000"/><stop offset="0.2442" stop-color="#cd0000"/><stop offset="0.2558" stop-color="#cc0000"/><stop offset="0.2674" stop-color="#cc0000"/><stop offset="0.2791" stop-color="#cb0000"/><stop offset="0.3023" stop-color="#cb0000"/><stop offset="0.3140" stop-color="#ca0000"/><stop offset="0.3372" stop-color="#ca0000"/><stop offset="0.3488" stop-color="#c90000"/><stop offset="0.3721" stop-color="#c90000"/><stop offset="0.3837" stop-color="#c80000"/><stop offset="0.3953" stop-color="#c80000"/><stop offset="0.4070" stop-color="#c70000"/><stop offset="0.4302" stop-color="#c70000"/><stop offset="0.4419" stop-color="#c60000"/><stop offset="0.4535" stop-color="#c20000"/><stop offset="0.4651" stop-color="#b00000"/><stop offset="0.4767" stop-color="#9e0000"/><stop offset="0.4884" stop-color="#8d0000"/><stop offset="0.5000" stop-color="#7c0000"/><stop offset="0.5116" stop-color="#7b0000"/><stop offset="0.5233" stop-color="#790000"/><stop offset="0.5349" stop-color="#770000"/><stop offset="0.5465" stop-color="#760000"/><stop offset="0.5581" stop-color="#740000"/><stop offset="0.5698" stop-color="#720000"/><stop offset="0.5814" stop-color="#700000"/><stop offset="0.5930" stop-color="#6d0000"/><stop offset="0.6047" stop-color="#660000"/><stop offset="0.6163" stop-color="#5e0000"/><stop offset="0.6279" stop-color="#560000"/><stop offset="0.6395" stop-color="#4f0000"/><stop offset="0.6512" stop-color="#470000"/><stop offset="0.6628" stop-color="#400000"/><stop offset="0.6744" stop-color="#390000"/><stop offset="0.6860" stop-color="#330000"/><stop offset="0.6977" stop-color="#2c0000"/><stop offset="0.7093" stop-color="#250000"/><stop offset="0.7209" stop-color="#1f0000"/><stop offset="0.7326" stop-color="#180000"/><stop offset="0.7442" stop-color="#110000"/><stop offset="0.7674" stop-color="#110000"/><stop offset="0.7791" stop-color="#100000"/><stop offset="0.8023" stop-color="#100000"/><stop offset="0.8140" stop-color="#0f0000"/><stop offset="0.8372" stop-color="#0f0000"/><stop offset="0.8488" stop-color="#0e0000"/><stop offset="0.8721" stop-color="#0e0000"/><stop offset="0.8837" stop-color="#0d0000"/><stop offset="0.9070" stop-color="#0d0000"/><stop offset="0.9186" stop-color="#0c0000"/><stop offset="0.9419" stop-color="#0c0000"/><stop offset="0.9535" stop-color="#0b0000"/><stop offset="1.0000" stop-color="#0b0000"/></linearGradient>
<linearGradient id="g19"><stop offset="0.0000" stop-color="#180000"/><stop offset="0.0116" stop-color="#220000"/><stop offset="0.0233" stop-color="#2c0000"/><stop offset="0.0349" stop-color="#2f0000"/><stop offset="0.0465" stop-color="#330000"/><stop offset="0.0581" stop-color="#360000"/><stop offset="0.0698" stop-color="#390000"/><stop offset="0.0814" stop-color="#2f0000"/><stop offset="0.0930" stop-color="#250000"/><stop offset="0.1047" stop-color="#1b0000"/><stop offset="0.1163" stop-color="#110000"/><stop offset="0.1279" stop-color="#110000"/><stop offset="0.1395" stop-color="#100000"/><stop offset="0.1512" stop-color="#0f0000"/><stop offset="0.1628" stop-color="#0f0000"/><stop offset="0.1744" stop-color="#0e0000"/><stop offset="0.1860" stop-color="#0d0000"/><stop offset="0.1977" stop-color="#0d0000"/><stop offset="0.2093" stop-color="#0c0000"/><stop offset="0.2209" stop-color="#0b0000"/><stop offset="0.2326" stop-color="#0b0000"/><stop offset="0.2442" stop-color="#110000"/><stop offset="0.2558" stop-color="#180000"/><stop offset="0.2674" stop-color="#1f0000"/><stop offset="0.2791" stop-color="#250000"/><stop offset="0.2907" stop-color="#2c0000"/><stop offset="0.3023" stop-color="#330000"/><stop offset="0.3140" stop-color="#340000"/><stop offset="0.3256" stop-color="#360000"/><stop offset="0.3372" stop-color="#380000"/><stop offset="0.3488" stop-color="#390000"/><stop offset="0.3605" stop-color="#3b0000"/><stop offset="0.3721" stop-color="#3d0000"/><stop offset="0.3837" stop-color="#3e0000"/><stop offset="0.3953" stop-color="#400000"/><stop offset="0.4070" stop-color="#3f0000"/><stop offset="0.4186" stop-color="#3f0000"/><stop offset="0.4302" stop-color="#3e0000"/><stop offset="0.4419" stop-color="#3d0000"/><stop offset="0.4535" stop-color="#3d0000"/><stop offset="0.4651" stop-color="#3c0000"/><stop offset="0.4767" stop-color="#3b0000"/><stop offset="0.4884" stop-color="#3b0000"/><stop offset="0.5000" stop-color="#3a0000"/><stop offset="0.5116" stop-color="#390000"/><stop offset="0.5233" stop-color="#380000"/><stop offset="0.5349" stop-color="#370000"/><stop offset="0.5465" stop-color="#350000"/><stop offset="0.5581" stop-color="#340000"/><stop offset="0.5698" stop-color="#330000"/><stop offset="0.5814" stop-color="#310000"/><stop offset="0.5930" stop-color="#300000"/><stop offset="0.6047" stop-color="#2f0000"/><stop offset="0.6163" stop-color="#2d0000"/><stop offset="0.6279" stop-color="#2c0000"/><stop offset="0.6395" stop-color="#290000"/><stop offset="0.6512" stop-color="#250000"/><stop offset="0.6628" stop-color="#220000"/><stop offset="0.6744" stop-color="#1f0000"/><stop offset="0.6860" stop-color="#1b0000"/><stop offset="0.6977" stop-color="#180000"/><stop offset="0.7093" stop-color="#170000"/><stop offset="0.7209" stop-color="#170000"/><stop offset="0.7326" stop-color="#160000"/><stop offset="0.7442" stop-color="#160000"/><stop offset="0.7558" stop-color="#150000"/><stop offset="0.7674" stop-color="#150000"/><stop offset="0.7791" stop-color="#140000"/><stop offset="0.7907" stop-color="#140000"/><stop offset="0.8023" stop-color="#130000"/><stop offset="0.8140" stop-color="#120000"/><stop offset="0.8256" stop-color="#120000"/><stop offset="0.8372" stop-color="#110000"/><stop offset="0.8488" stop-color="#110000"/><stop offset="0.8605" stop-color="#100000"/><stop offset="0.8721" stop-color="#100000"/><stop offset="0.8837" stop-color="#0f0000"/><stop offset="0.8953" stop-color="#0f0000"/><stop offset="0.9070" stop-color="#0e0000"/><stop offset="0.9186" stop-color="#0d0000"/><stop offset="0.9302" stop-color="#0d0000"/><stop offset="0.9419" stop-color="#0c0000"/><stop offset="0.9535" stop-color="#0c0000"/><stop offset="0.9651" stop-color="#0b0000"/><stop offset="1.0000" stop-color="#0b0000"/></linearGradient>
<linearGradient id="g20"><stop offset="0.0000" stop-color="#ffffff"/><stop offset="0.0116" stop-color="#fffff5"/><stop offset="0.0233" stop-color="#ffffeb"/><stop offset="0.0349" stop-color="#ffffe1"/><stop offset="0.0465" stop-color="#ffffbc"/><stop offset="0.0581" stop-color="#ffff97"/><stop offset="0.0698" stop-color="#ffff72"/><stop offset="0.0814" stop-color="#ffff5b"/><stop offset="0.0930" stop-color="#ffff43"/><stop offset="0.1047" stop-color="#ffff2b"/><stop offset="0.1163" stop-color="#ffff13"/><stop offset="0.1279" stop-color="#ffff0f"/><stop offset="0.1395" stop-color="#ffff0c"/><stop offset="0.1512" stop-color="#ffff08"/><stop offset="0.1628" stop-color="#ffff05"/><stop offset="0.1744" stop-color="#ffff01"/><stop offset="0.1860" stop-color="#fffd00"/><stop offset="0.1977" stop-color="#fffb00"/><stop offset="0.2093" stop-color="#ffe900"/><stop offset="0.2209" stop-color="#ffd600"/><stop offset="0.2326" stop-color="#ffb300"/><stop offset="0.2442" stop-color="#ff8b00"/><stop offset="0.2558" stop-color="#ff6800"/><stop offset="0.2674" stop-color="#ff4600"/><stop offset="0.2791" stop-color="#ff2900"/><stop offset="0.2907" stop-color="#ff1300"/><stop offset="0.3023" stop-color="#fc0000"/><stop offset="0.3140" stop-color="#ee0000"/><stop offset="0.3256" stop-color="#e10000"/><stop offset="0.3372" stop-color="#d30000"/><stop offset="0.3488" stop-color="#c60000"/><stop offset="0.3605" stop-color="#b90000"/><stop offset="0.3721" stop-color="#ab0000"/><stop offset="0.3837" stop-color="#9e0000"/><stop offset="0.3953" stop-color="#900000"/><stop offset="0.4070" stop-color="#890000"/><stop offset="0.4186" stop-color="#810000"/><stop offset="0.4302" stop-color="#7a0000"/><stop offset="0.4419" stop-color="#720000"/><stop offset="0.4535" stop-color="#6b0000"/><stop offset="0.4651" stop-color="#630000"/><stop offset="0.4767" stop-color="#5c0000"/><stop offset="0.4884" stop-color="#540000"/><stop offset="0.5000" stop-color="#520000"/><stop offset="0.5116" stop-color="#4f0000"/><stop offset="0.5233" stop-color="#4d0000"/><stop offset="0.5349" stop-color="#4a0000"/><stop offset="0.5465" stop-color="#480000"/><stop offset="0.5581" stop-color="#450000"/><stop offset="0.5698" stop-color="#430000"/><stop offset="0.5814" stop-color="#400000"/><stop offset="0.5930" stop-color="#3d0000"/><stop offset="0.6047" stop-color="#390000"/><stop offset="0.6163" stop-color="#360000"/><stop offset="0.6279" stop-color="#330000"/><stop offset="0.6395" stop-color="#2f0000"/><stop offset="0.6512" stop-color="#2c0000"/><stop offset="0.6628" stop-color="#290000"/><stop offset="0.6744" stop-color="#250000"/><stop offset="0.6860" stop-color="#230000"/><stop offset="0.6977" stop-color="#210000"/><stop offset="0.7093" stop-color="#1f0000"/><stop offset="0.7209" stop-color="#1c0000"/><stop offset="0.7326" stop-color="#1a0000"/><stop offset="0.7442" stop-color="#180000"/><stop offset="0.7558" stop-color="#180000"/><stop offset="0.7674" stop-color="#170000"/><stop offset="0.7907" stop-color="#170000"/><stop offset="0.8023" stop-color="#160000"/><stop offset="0.8256" stop-color="#160000"/><stop offset="0.8372" stop-color="#150000"/><stop offset="0.8605" stop-color="#150000"/><stop offset="0.8721" stop-color="#140000"/><stop offset="0.8953" stop-color="#140000"/><stop offset="0.9070" stop-color="#130000"/><stop offset="0.9302" stop-color="#130000"/><stop offset="0.9419" stop-color="#120000"/><stop offset="0.9651" stop-color="#120000"/><stop offset="0.9767" stop-color="#110000"/><stop offset="1.0000" stop-color="#110000"/></linearGradient>
<linearGradient id="g21"><stop offset="0.0000" stop-color="#ffffff"/><stop offset="0.0116" stop-color="#fffff6"/><stop offset="0.0233" stop-color="#ffffec"/><stop offset="0.0349" stop-color="#ffffe3"/><stop offset="0.0465" stop-color="#ffffc7"/><stop offset="0.0581" stop-color="#ffffa7"/><stop offset="0.0698" stop-color="#ffff87"/><stop offset="0.0814" stop-color="#ffff6d"/><stop offset="0.0930" stop-color="#ffff54"/><stop offset="0.1047" stop-color="#ffff3b"/><stop offset="0.1163" stop-color="#ffff22"/><stop offset="0.1279" stop-color="#ffff18"/><stop offset="0.1395" stop-color="#ffff0e"/><stop offset="0.1512" stop-color="#ffff0c"/><stop offset="0.1628" stop-color="#ffff09"/><stop offset="0.1744" stop-color="#ffff07"/><stop offset="0.1860" stop-color="#ffff05"/><stop offset="0.1977" stop-color="#ffff02"/><stop offset="0.2093" stop-color="#ffff00"/><stop offset="0.2209" stop-color="#fffd00"/><stop offset="0.2326" stop-color="#fffc00"/><stop offset="0.2442" stop-color="#fff500"/><stop offset="0.2558" stop-color="#ffe500"/><stop offset="0.2674" stop-color="#ffd600"/><stop offset="0.2791" stop-color="#ffc700"/><stop offset="0.2907" stop-color="#ffb700"/><stop offset="0.3023" stop-color="#ffa800"/><stop offset="0.3140" stop-color="#ff9900"/><stop offset="0.3256" stop-color="#ff8e00"/><stop offset="0.3372" stop-color="#ff8900"/><stop offset="0.3488" stop-color="#ff8500"/><stop offset="0.3605" stop-color="#ff8000"/><stop offset="0.3721" stop-color="#ff7c00"/><stop offset="0.3837" stop-color="#ff7600"/><stop offset="0.3953" stop-color="#ff7000"/><stop offset="0.4070" stop-color="#ff6a00"/><stop offset="0.4186" stop-color="#ff5b00"/><stop offset="0.4302" stop-color="#ff4700"/><stop offset="0.4419" stop-color="#ff3200"/><stop offset="0.4535" stop-color="#ff2300"/><stop offset="0.4651" stop-color="#ff1300"/><stop offset="0.4767" stop-color="#ff0800"/><stop offset="0.4884" stop-color="#ff0300"/><stop offset="0.5000" stop-color="#fe0000"/><stop offset="0.5116" stop-color="#f90000"/><stop offset="0.5233" stop-color="#f40000"/><stop offset="0.5349" stop-color="#ef0000"/><stop offset="0.5465" stop-color="#ea0000"/><stop offset="0.5581" stop-color="#e10000"/><stop offset="0.5698" stop-color="#d10000"/><stop offset="0.5814" stop-color="#c20000"/><stop offset="0.5930" stop-color="#b20000"/><stop offset="0.6047" stop-color="#a10000"/><stop offset="0.6163" stop-color="#900000"/><stop offset="0.6279" stop-color="#800000"/><stop offset="0.6395" stop-color="#6f0000"/><stop offset="0.6512" stop-color="#650000"/><stop offset="0.6628" stop-color="#5f0000"/><stop offset="0.6744" stop-color="#590000"/><stop offset="0.6860" stop-color="#530000"/><stop offset="0.6977" stop-color="#4e0000"/><stop offset="0.7093" stop-color="#490000"/><stop offset="0.7209" stop-color="#440000"/><stop offset="0.7326" stop-color="#3e0000"/><stop offset="0.7442" stop-color="#390000"/><stop offset="0.7558" stop-color="#330000"/><stop offset="0.7674" stop-color="#2c0000"/><stop offset="0.7791" stop-color="#250000"/><stop offset="0.7907" stop-color="#1f0000"/><stop offset="0.8023" stop-color="#180000"/><stop offset="0.8140" stop-color="#110000"/><stop offset="0.8953" stop-color="#110000"/><stop offset="0.9070" stop-color="#150000"/><stop offset="0.9186" stop-color="#190000"/><stop offset="0.9302" stop-color="#1d0000"/><stop offset="0.9419" stop-color="#210000"/><stop offset="0.9535" stop-color="#250000"/><stop offset="1.0000" stop-color="#250000"/></linearGradient>
<linearGradient id="g22"><stop offset="0.0000" stop-color="#1f0000"/><stop offset="0.0116" stop-color="#2c0000"/><stop offset="0.0233" stop-color="#390000"/><stop offset="0.1163" stop-color="#390000"/><stop offset="0.1279" stop-color="#2c0000"/><stop offset="0.1395" stop-color="#1f0000"/><stop offset="0.1512" stop-color="#110000"/><stop offset="0.1860" stop-color="#110000"/><stop offset="0.1977" stop-color="#2c0000"/><stop offset="0.2093" stop-color="#470000"/><stop offset="0.2209" stop-color="#490000"/><stop offset="0.2326" stop-color="#4a0000"/><stop offset="0.2442" stop-color="#4c0000"/><stop offset="0.2558" stop-color="#4e0000"/><stop offset="0.2674" stop-color="#4f0000"/><stop offset="0.2791" stop-color="#510000"/><stop offset="0.2907" stop-color="#530000"/><stop offset="0.3023" stop-color="#540000"/><stop offset="0.3140" stop-color="#530000"/><stop offset="0.3256" stop-color="#530000"/><stop offset="0.3372" stop-color="#520000"/><stop offset="0.3488" stop-color="#510000"/><stop offset="0.3605" stop-color="#500000"/><stop offset="0.3721" stop-color="#4f0000"/><stop offset="0.3837" stop-color="#4e0000"/><stop offset="0.3953" stop-color="#4e0000"/><stop offset="0.4070" stop-color="#540000"/><stop offset="0.4186" stop-color="#5b0000"/><stop offset="0.4302" stop-color="#620000"/><stop offset="0.4419" stop-color="#680000"/><stop offset="0.4535" stop-color="#7c0000"/><stop offset="0.4651" stop-color="#900000"/><stop offset="0.4767" stop-color="#ab0000"/><stop offset="0.4884" stop-color="#c60000"/><stop offset="0.5000" stop-color="#d00000"/><stop offset="0.5116" stop-color="#da0000"/><stop offset="0.5233" stop-color="#e40000"/><stop offset="0.5349" stop-color="#ee0000"/><stop offset="0.5465" stop-color="#f50000"/><stop offset="0.5581" stop-color="#fc0000"/><stop offset="0.5698" stop-color="#ff0300"/><stop offset="0.5814" stop-color="#ff0a00"/><stop offset="0.5930" stop-color="#ff1100"/><stop offset="0.6047" stop-color="#ff1b00"/><stop offset="0.6163" stop-color="#ff2500"/><stop offset="0.6279" stop-color="#ff2f00"/><stop offset="0.6395" stop-color="#ff3900"/><stop offset="0.6512" stop-color="#ff4500"/><stop offset="0.6628" stop-color="#ff5000"/><stop offset="0.6744" stop-color="#ff5c00"/><stop offset="0.6860" stop-color="#ff6800"/><stop offset="0.6977" stop-color="#ff5d00"/><stop offset="0.7093" stop-color="#ff5100"/><stop offset="0.7209" stop-color="#ff4600"/><stop offset="0.7326" stop-color="#ff3b00"/><stop offset="0.7442" stop-color="#ff3000"/><stop offset="0.7558" stop-color="#ff2500"/><stop offset="0.7674" stop-color="#ff1e00"/><stop offset="0.7791" stop-color="#ff1700"/><stop offset="0.7907" stop-color="#ff1100"/><stop offset="0.8023" stop-color="#ff0a00"/><stop offset="0.8140" stop-color="#ff0300"/><stop offset="0.8256" stop-color="#fc0000"/><stop offset="0.8372" stop-color="#f50000"/><stop offset="0.8488" stop-color="#ee0000"/><stop offset="0.8605" stop-color="#dc0000"/><stop offset="0.8721" stop-color="#ca0000"/><stop offset="0.8837" stop-color="#b70000"/><stop offset="0.8953" stop-color="#a50000"/><stop offset="0.9070" stop-color="#a60000"/><stop offset="0.9186" stop-color="#b20000"/><stop offset="0.9302" stop-color="#bf0000"/><stop offset="0.9419" stop-color="#cd0000"/><stop offset="0.9535" stop-color="#da0000"/><stop offset="1.0000" stop-color="#da0000"/></linearGradient>
<linearGradient id="g23"><stop offset="0.0000" stop-color="#110000"/><stop offset="0.0116" stop-color="#1c0000"/><stop offset="0.0233" stop-color="#280000"/><stop offset="0.0349" stop-color="#330000"/><stop offset="0.0465" stop-color="#330000"/><stop offset="0.0581" stop-color="#340000"/><stop offset="0.0698" stop-color="#340000"/><stop offset="0.0814" stop-color="#350000"/><stop offset="0.0930" stop-color="#350000"/><stop offset="0.1047" stop-color="#360000"/><stop offset="0.1163" stop-color="#360000"/><stop offset="0.1279" stop-color="#370000"/><stop offset="0.1395" stop-color="#370000"/><stop offset="0.1512" stop-color="#380000"/><stop offset="0.1628" stop-color="#380000"/><stop offset="0.1744" stop-color="#390000"/><stop offset="0.1860" stop-color="#390000"/><stop offset="0.1977" stop-color="#4a0000"/><stop offset="0.2093" stop-color="#5b0000"/><stop offset="0.2907" stop-color="#5b0000"/><stop offset="0.3023" stop-color="#560000"/><stop offset="0.3140" stop-color="#520000"/><stop offset="0.3256" stop-color="#4e0000"/><stop offset="0.3953" stop-color="#4e0000"/><stop offset="0.4070" stop-color="#500000"/><stop offset="0.4186" stop-color="#530000"/><stop offset="0.4302" stop-color="#560000"/><stop offset="0.4419" stop-color="#580000"/><stop offset="0.4535" stop-color="#5b0000"/><stop offset="0.4651" stop-color="#5f0000"/><stop offset="0.4767" stop-color="#640000"/><stop offset="0.4884" stop-color="#680000"/><stop offset="0.5465" stop-color="#680000"/><stop offset="0.5581" stop-color="#5d0000"/><stop offset="0.5698" stop-color="#510000"/><stop offset="0.5814" stop-color="#450000"/><stop offset="0.5930" stop-color="#390000"/><stop offset="0.6047" stop-color="#310000"/><stop offset="0.6163" stop-color="#290000"/><stop offset="0.6279" stop-color="#200000"/><stop offset="0.6395" stop-color="#180000"/><stop offset="0.7442" stop-color="#180000"/><stop offset="0.7558" stop-color="#1f0000"/><stop offset="0.7674" stop-color="#250000"/><stop offset="0.7791" stop-color="#2c0000"/><stop offset="0.7907" stop-color="#330000"/><stop offset="0.8023" stop-color="#340000"/><stop offset="0.8140" stop-color="#350000"/><stop offset="0.8256" stop-color="#370000"/><stop offset="0.8372" stop-color="#380000"/><stop offset="0.8488" stop-color="#390000"/><stop offset="0.8605" stop-color="#490000"/><stop offset="0.8721" stop-color="#580000"/><stop offset="0.8837" stop-color="#670000"/><stop offset="0.8953" stop-color="#760000"/><stop offset="0.9070" stop-color="#750000"/><stop offset="0.9186" stop-color="#680000"/><stop offset="0.9302" stop-color="#5b0000"/><stop offset="0.9419" stop-color="#540000"/><stop offset="0.9535" stop-color="#4e0000"/><stop offset="1.0000" stop-color="#4e0000"/></linearGradient>
<linearGradient id="g24"><stop offset="0.0000" stop-color="#0b0000"/><stop offset="0.0930" stop-color="#0b0000"/><stop offset="0.1047" stop-color="#180000"/><stop offset="0.1163" stop-color="#250000"/><stop offset="0.1628" stop-color="#250000"/><stop offset="0.1744" stop-color="#1c0000"/><stop offset="0.1860" stop-color="#140000"/><stop offset="0.1977" stop-color="#0b0000"/><stop offset="0.2093" stop-color="#0c0000"/><stop offset="0.2209" stop-color="#0d0000"/><stop offset="0.2326" stop-color="#0f0000"/><stop offset="0.2442" stop-color="#100000"/><stop offset="0.2558" stop-color="#110000"/><stop offset="0.2674" stop-color="#250000"/><stop offset="0.2791" stop-color="#390000"/><stop offset="0.3372" stop-color="#390000"/><stop offset="0.3488" stop-color="#290000"/><stop offset="0.3605" stop-color="#180000"/><stop offset="0.3721" stop-color="#230000"/><stop offset="0.3837" stop-color="#2e0000"/><stop offset="0.3953" stop-color="#390000"/><stop offset="0.4070" stop-color="#3b0000"/><stop offset="0.4186" stop-color="#3c0000"/><stop offset="0.4302" stop-color="#3d0000"/><stop offset="0.4419" stop-color="#3e0000"/><stop offset="0.4535" stop-color="#3f0000"/><stop offset="0.4651" stop-color="#400000"/><stop offset="0.4767" stop-color="#580000"/><stop offset="0.4884" stop-color="#6f0000"/><stop offset="0.5000" stop-color="#740000"/><stop offset="0.5116" stop-color="#790000"/><stop offset="0.5233" stop-color="#7e0000"/><stop offset="0.5349" stop-color="#830000"/><stop offset="0.5465" stop-color="#8e0000"/><stop offset="0.5581" stop-color="#990000"/><stop offset="0.5698" stop-color="#a30000"/><stop offset="0.5814" stop-color="#ae0000"/><stop offset="0.5930" stop-color="#b90000"/><stop offset="0.6047" stop-color="#b90000"/><stop offset="0.6163" stop-color="#ba0000"/><stop offset="0.6279" stop-color="#bb0000"/><stop offset="0.6395" stop-color="#bc0000"/><stop offset="0.6512" stop-color="#bc0000"/><stop offset="0.6628" stop-color="#bd0000"/><stop offset="0.6744" stop-color="#be0000"/><stop offset="0.6860" stop-color="#bf0000"/><stop offset="0.6977" stop-color="#bf0000"/><stop offset="0.7093" stop-color="#c60000"/><stop offset="0.7209" stop-color="#cd0000"/><stop offset="0.7326" stop-color="#d30000"/><stop offset="0.7442" stop-color="#da0000"/><stop offset="0.8256" stop-color="#da0000"/><stop offset="0.8372" stop-color="#cd0000"/><stop offset="0.8488" stop-color="#c00000"/><stop offset="0.8605" stop-color="#b30000"/><stop offset="0.8721" stop-color="#a50000"/><stop offset="0.8837" stop-color="#940000"/><stop offset="0.8953" stop-color="#830000"/><stop offset="0.9070" stop-color="#7c0000"/><stop offset="0.9302" stop-color="#7c0000"/><stop offset="0.9419" stop-color="#890000"/><stop offset="0.9535" stop-color="#960000"/><stop offset="0.9651" stop-color="#9e0000"/><stop offset="1.0000" stop-color="#9e0000"/></linearGradient>
<linearGradient id="g25"><stop offset="0.0000" stop-color="#0b0000"/><stop offset="0.1047" stop-color="#0b0000"/><stop offset="0.1163" stop-color="#180000"/><stop offset="0.1279" stop-color="#250000"/><stop offset="0.1628" stop-color="#250000"/><stop offset="0.1744" stop-color="#1c0000"/><stop offset="0.1860" stop-color="#140000"/><stop offset="0.1977" stop-color="#0b0000"/><stop offset="0.2326" stop-color="#0b0000"/><stop offset="0.2442" stop-color="#220000"/><stop offset="0.2558" stop-color="#390000"/><stop offset="0.3953" stop-color="#390000"/><stop offset="0.4070" stop-color="#340000"/><stop offset="0.4186" stop-color="#2f0000"/><stop offset="0.4302" stop-color="#2a0000"/><stop offset="0.4419" stop-color="#250000"/><stop offset="0.4535" stop-color="#2a0000"/><stop offset="0.4651" stop-color="#2f0000"/><stop offset="0.4767" stop-color="#340000"/><stop offset="0.4884" stop-color="#390000"/><stop offset="0.5814" stop-color="#390000"/><stop offset="0.5930" stop-color="#330000"/><stop offset="0.6047" stop-color="#2c0000"/><stop offset="0.6163" stop-color="#250000"/><stop offset="0.8256" stop-color="#250000"/><stop offset="0.8372" stop-color="#340000"/><stop offset="0.8488" stop-color="#420000"/><stop offset="0.8605" stop-color="#510000"/><stop offset="0.8721" stop-color="#600000"/><stop offset="0.8837" stop-color="#680000"/><stop offset="0.9186" stop-color="#680000"/><stop offset="0.9302" stop-color="#590000"/><stop offset="0.9419" stop-color="#490000"/><stop offset="0.9535" stop-color="#390000"/><stop offset="1.0000" stop-color="#390000"/></linearGradient>
<linearGradient id="g26"><stop offset="0.0000" stop-color="#0b0000"/><stop offset="0.1744" stop-color="#0b0000"/><stop offset="0.1860" stop-color="#180000"/><stop offset="0.1977" stop-color="#250000"/><stop offset="0.2326" stop-color="#250000"/><stop offset="0.2442" stop-color="#180000"/><stop offset="0.2558" stop-color="#0b0000"/><stop offset="0.3023" stop-color="#0b0000"/><stop offset="0.3140" stop-color="#220000"/><stop offset="0.3256" stop-color="#390000"/><stop offset="0.3721" stop-color="#390000"/><stop offset="0.3837" stop-color="#2c0000"/><stop offset="0.3953" stop-color="#1f0000"/><stop offset="0.4070" stop-color="#110000"/><stop offset="0.4186" stop-color="#160000"/><stop offset="0.4302" stop-color="#1b0000"/><stop offset="0.4419" stop-color="#200000"/><stop offset="0.4535" stop-color="#250000"/><stop offset="0.4651" stop-color="#2c0000"/><stop offset="0.4767" stop-color="#330000"/><stop offset="0.4884" stop-color="#390000"/><stop offset="0.5698" stop-color="#390000"/><stop offset="0.5814" stop-color="#4a0000"/><stop offset="0.5930" stop-color="#5b0000"/><stop offset="0.6977" stop-color="#5b0000"/><stop offset="0.7093" stop-color="#630000"/><stop offset="0.7209" stop-color="#6c0000"/><stop offset="0.7326" stop-color="#740000"/><stop offset="0.7442" stop-color="#7c0000"/><stop offset="0.8488" stop-color="#7c0000"/><stop offset="0.8605" stop-color="#6d0000"/><stop offset="0.8721" stop-color="#5d0000"/><stop offset="0.8837" stop-color="#4e0000"/><stop offset="0.9186" stop-color="#4e0000"/><stop offset="0.9302" stop-color="#560000"/><stop offset="0.9419" stop-color="#5f0000"/><stop offset="0.9535" stop-color="#680000"/><stop offset="1.0000" stop-color="#680000"/></linearGradient>
<linearGradient id="g27"><stop offset="0.0000" stop-color="#0b0000"/><stop offset="0.4651" stop-color="#0b0000"/><stop offset="0.4767" stop-color="#100000"/><stop offset="0.4884" stop-color="#150000"/><stop offset="0.5000" stop-color="#1a0000"/><stop offset="0.5116" stop-color="#1f0000"/><stop offset="0.5233" stop-color="#200000"/><stop offset="0.5349" stop-color="#200000"/><stop offset="0.5465" stop-color="#210000"/><stop offset="0.5581" stop-color="#220000"/><stop offset="0.5698" stop-color="#230000"/><stop offset="0.5814" stop-color="#240000"/><stop offset="0.5930" stop-color="#250000"/><stop offset="0.6047" stop-color="#250000"/><stop offset="0.6163" stop-color="#260000"/><stop offset="0.6279" stop-color="#270000"/><stop offset="0.6395" stop-color="#280000"/><stop offset="0.6512" stop-color="#290000"/><stop offset="0.6628" stop-color="#2a0000"/><stop offset="0.6744" stop-color="#2a0000"/><stop offset="0.6860" stop-color="#2b0000"/><stop offset="0.6977" stop-color="#2c0000"/><stop offset="0.7093" stop-color="#2f0000"/><stop offset="0.7209" stop-color="#330000"/><stop offset="0.7326" stop-color="#360000"/><stop offset="0.7442" stop-color="#390000"/><stop offset="0.7558" stop-color="#2c0000"/><stop offset="0.7674" stop-color="#1f0000"/><stop offset="0.7791" stop-color="#110000"/><stop offset="0.8256" stop-color="#110000"/><stop offset="0.8372" stop-color="#180000"/><stop offset="0.8488" stop-color="#1f0000"/><stop offset="0.8605" stop-color="#250000"/><stop offset="0.8721" stop-color="#2c0000"/><stop offset="0.8837" stop-color="#3a0000"/><stop offset="0.8953" stop-color="#480000"/><stop offset="0.9070" stop-color="#4e0000"/><stop offset="0.9302" stop-color="#4e0000"/><stop offset="0.9419" stop-color="#490000"/><stop offset="0.9535" stop-color="#330000"/><stop offset="0.9651" stop-color="#250000"/><stop offset="1.0000" stop-color="#250000"/></linearGradient>
<linearGradient id="g28"><stop offset="0.0000" stop-color="#0b0000"/><stop offset="0.3372" stop-color="#0b0000"/><stop offset="0.3488" stop-color="#180000"/><stop offset="0.3605" stop-color="#250000"/><stop offset="0.4186" stop-color="#250000"/><stop offset="0.4302" stop-color="#1b0000"/><stop offset="0.4419" stop-color="#110000"/><stop offset="0.4535" stop-color="#160000"/><stop offset="0.4651" stop-color="#1b0000"/><stop offset="0.4767" stop-color="#200000"/><stop offset="0.4884" stop-color="#250000"/><stop offset="0.5814" stop-color="#250000"/><stop offset="0.5930" stop-color="#2f0000"/><stop offset="0.6047" stop-color="#390000"/><stop offset="0.7442" stop-color="#390000"/><stop offset="0.7558" stop-color="#330000"/><stop offset="0.7674" stop-color="#2c0000"/><stop offset="0.7791" stop-color="#250000"/><stop offset="0.8721" stop-color="#250000"/><stop offset="0.8837" stop-color="#360000"/><stop offset="0.8953" stop-color="#470000"/><stop offset="0.9070" stop-color="#4e0000"/><stop offset="1.0000" stop-color="#4e0000"/></linearGradient>
<linearGradient id="g29"><stop offset="0.0000" stop-color="#0b0000"/><stop offset="0.4535" stop-color="#0b0000"/><stop offset="0.4651" stop-color="#170000"/><stop offset="0.4767" stop-color="#230000"/><stop offset="0.4884" stop-color="#390000"/><stop offset="0.5233" stop-color="#390000"/><stop offset="0.5349" stop-color="#360000"/><stop offset="0.5465" stop-color="#2e0000"/><stop offset="0.5581" stop-color="#250000"/><stop offset="0.6977" stop-color="#250000"/><stop offset="0.7093" stop-color="#1f0000"/><stop offset="0.7209" stop-color="#180000"/><stop offset="0.7326" stop-color="#110000"/><stop offset="0.8488" stop-color="#110000"/><stop offset="0.8605" stop-color="#210000"/><stop offset="0.8721" stop-color="#300000"/><stop offset="0.8837" stop-color="#390000"/><stop offset="0.9302" stop-color="#390000"/><stop offset="0.9419" stop-color="#360000"/><stop offset="0.9535" stop-color="#270000"/><stop offset="0.9651" stop-color="#180000"/><stop offset="1.0000" stop-color="#180000"/></linearGradient>
<linearGradient id="g30"><stop offset="0.0000" stop-color="#0b0000"/><stop offset="0.3721" stop-color="#0b0000"/><stop offset="0.3837" stop-color="#180000"/><stop offset="0.3953" stop-color="#250000"/><stop offset="0.4419" stop-color="#250000"/><stop offset="0.4535" stop-color="#210000"/><stop offset="0.4651" stop-color="#160000"/><stop offset="0.4767" stop-color="#0b0000"/><stop offset="0.7209" stop-color="#0b0000"/><stop offset="0.7326" stop-color="#180000"/><stop offset="0.7442" stop-color="#250000"/><stop offset="0.8953" stop-color="#250000"/><stop offset="0.9070" stop-color="#210000"/><stop offset="0.9186" stop-color="#190000"/><stop offset="0.9302" stop-color="#110000"/><stop offset="1.0000" stop-color="#110000"/></linearGradient>
<linearGradient id="g31"><stop offset="0.0000" stop-color="#0b0000"/><stop offset="0.3256" stop-color="#0b0000"/><stop offset="0.3372" stop-color="#180000"/><stop offset="0.3488" stop-color="#250000"/><stop offset="0.3605" stop-color="#320000"/><stop offset="0.3721" stop-color="#3d0000"/><stop offset="0.3837" stop-color="#440000"/><stop offset="0.3953" stop-color="#4c0000"/><stop offset="0.4070" stop-color="#530000"/><stop offset="0.4186" stop-color="#5b0000"/><stop offset="0.4302" stop-color="#610000"/><stop offset="0.4419" stop-color="#680000"/><stop offset="0.4535" stop-color="#6e0000"/><stop offset="0.4651" stop-color="#750000"/><stop offset="0.4767" stop-color="#7b0000"/><stop offset="0.4884" stop-color="#8a0000"/><stop offset="0.5000" stop-color="#8f0000"/><stop offset="0.5116" stop-color="#940000"/><stop offset="0.5233" stop-color="#9a0000"/><stop offset="0.5349" stop-color="#9f0000"/><stop offset="0.5465" stop-color="#a40000"/><stop offset="0.5581" stop-color="#aa0000"/><stop offset="0.5698" stop-color="#af0000"/><stop offset="0.5814" stop-color="#b40000"/><stop offset="0.5930" stop-color="#ba0000"/><stop offset="0.6047" stop-color="#c00000"/><stop offset="0.6163" stop-color="#c70000"/><stop offset="0.6279" stop-color="#cd0000"/><stop offset="0.6395" stop-color="#d40000"/><stop offset="0.6512" stop-color="#db0000"/><stop offset="0.6628" stop-color="#e10000"/><stop offset="0.6744" stop-color="#e80000"/><stop offset="0.6860" stop-color="#ee0000"/><stop offset="0.6977" stop-color="#f50000"/><stop offset="0.7093" stop-color="#fc0000"/><stop offset="0.7209" stop-color="#ff0300"/><stop offset="0.7326" stop-color="#ff0d00"/><stop offset="0.7442" stop-color="#ff1700"/><stop offset="0.7558" stop-color="#ff2100"/><stop offset="0.7674" stop-color="#ff2b00"/><stop offset="0.7791" stop-color="#ff3500"/><stop offset="0.7907" stop-color="#ff3f00"/><stop offset="0.8023" stop-color="#ff4800"/><stop offset="0.8140" stop-color="#ff5200"/><stop offset="0.8256" stop-color="#ff5b00"/><stop offset="0.8372" stop-color="#ff6500"/><stop offset="0.8488" stop-color="#ff6e00"/><stop offset="0.8605" stop-color="#ff7700"/><stop offset="0.8721" stop-color="#ff8000"/><stop offset="0.8837" stop-color="#ff8900"/><stop offset="0.8953" stop-color="#ff9200"/><stop offset="0.9070" stop-color="#ff9b00"/><stop offset="0.9186" stop-color="#ffa400"/><stop offset="0.9302" stop-color="#ffab00"/><stop offset="0.9419" stop-color="#ffb100"/><stop offset="0.9535" stop-color="#ffb800"/><stop offset="0.9651" stop-color="#ffbf00"/><stop offset="0.9767" stop-color="#ffc500"/><stop offset="0.9884" stop-color="#ffcf00"/><stop offset="1.0000" stop-color="#ffd900"/></linearGradient>
<linearGradient id="g32"><stop offset="0.0000" stop-color="#0b0000"/><stop offset="0.2442" stop-color="#0b0000"/><stop offset="0.2558" stop-color="#1a0000"/><stop offset="0.2674" stop-color="#2a0000"/><stop offset="0.2791" stop-color="#390000"/><stop offset="0.2907" stop-color="#450000"/><stop offset="0.3023" stop-color="#500000"/><stop offset="0.3140" stop-color="#5b0000"/><stop offset="0.3256" stop-color="#5c0000"/><stop offset="0.3372" stop-color="#5c0000"/><stop offset="0.3488" stop-color="#5d0000"/><stop offset="0.3605" stop-color="#5d0000"/><stop offset="0.3721" stop-color="#5e0000"/><stop offset="0.3837" stop-color="#5e0000"/><stop offset="0.3953" stop-color="#5f0000"/><stop offset="0.4070" stop-color="#5f0000"/><stop offset="0.4186" stop-color="#600000"/><stop offset="0.4302" stop-color="#610000"/><stop offset="0.4419" stop-color="#610000"/><stop offset="0.4535" stop-color="#620000"/><stop offset="0.4651" stop-color="#640000"/><stop offset="0.4767" stop-color="#660000"/><stop offset="0.4884" stop-color="#680000"/><stop offset="0.5000" stop-color="#5e0000"/><stop offset="0.5116" stop-color="#530000"/><stop offset="0.5233" stop-color="#480000"/><stop offset="0.5349" stop-color="#3e0000"/><stop offset="0.5465" stop-color="#390000"/><stop offset="0.5581" stop-color="#370000"/><stop offset="0.5698" stop-color="#360000"/><stop offset="0.5814" stop-color="#340000"/><stop offset="0.5930" stop-color="#310000"/><stop offset="0.6047" stop-color="#2a0000"/><stop offset="0.6163" stop-color="#220000"/><stop offset="0.6279" stop-color="#1a0000"/><stop offset="0.6395" stop-color="#130000"/><stop offset="0.6512" stop-color="#110000"/><stop offset="0.8721" stop-color="#110000"/><stop offset="0.8837" stop-color="#160000"/><stop offset="0.8953" stop-color="#220000"/><stop offset="0.9070" stop-color="#2e0000"/><stop offset="0.9186" stop-color="#390000"/><stop offset="0.9535" stop-color="#390000"/><stop offset="0.9651" stop-color="#290000"/><stop offset="0.9767" stop-color="#180000"/><stop offset="1.0000" stop-color="#180000"/></linearGradient>
<linearGradient id="g33"><stop offset="0.0000" stop-color="#0b0000"/><stop offset="0.2442" stop-color="#0b0000"/><stop offset="0.2558" stop-color="#150000"/><stop offset="0.2674" stop-color="#200000"/><stop offset="0.2791" stop-color="#2b0000"/><stop offset="0.2907" stop-color="#350000"/><stop offset="0.3023" stop-color="#3a0000"/><stop offset="0.3140" stop-color="#3a0000"/><stop offset="0.3256" stop-color="#3b0000"/><stop offset="0.3372" stop-color="#3c0000"/><stop offset="0.3488" stop-color="#3c0000"/><stop offset="0.3605" stop-color="#3d0000"/><stop offset="0.3721" stop-color="#3d0000"/><stop offset="0.3837" stop-color="#3e0000"/><stop offset="0.3953" stop-color="#3e0000"/><stop offset="0.4070" stop-color="#3f0000"/><stop offset="0.4186" stop-color="#400000"/><stop offset="0.4302" stop-color="#400000"/><stop offset="0.4419" stop-color="#500000"/><stop offset="0.4535" stop-color="#5f0000"/><stop offset="0.4651" stop-color="#6f0000"/><stop offset="0.4767" stop-color="#8d0000"/><stop offset="0.4884" stop-color="#ab0000"/><stop offset="0.5000" stop-color="#b80000"/><stop offset="0.5116" stop-color="#c50000"/><stop offset="0.5233" stop-color="#d20000"/><stop offset="0.5349" stop-color="#df0000"/><stop offset="0.5465" stop-color="#ec0000"/><stop offset="0.5581" stop-color="#fa0000"/><stop offset="0.5698" stop-color="#ff0a00"/><stop offset="0.5814" stop-color="#ff1900"/><stop offset="0.5930" stop-color="#ff2500"/><stop offset="0.6744" stop-color="#ff2500"/><stop offset="0.6860" stop-color="#ff1c00"/><stop offset="0.6977" stop-color="#ff1300"/><stop offset="0.7093" stop-color="#ff0a00"/><stop offset="0.7209" stop-color="#ff0100"/><stop offset="0.7326" stop-color="#f70000"/><stop offset="0.7442" stop-color="#ee0000"/><stop offset="0.7558" stop-color="#ea0000"/><stop offset="0.7674" stop-color="#e70000"/><stop offset="0.7791" stop-color="#e30000"/><stop offset="0.7907" stop-color="#df0000"/><stop offset="0.8023" stop-color="#dc0000"/><stop offset="0.8140" stop-color="#d80000"/><stop offset="0.8256" stop-color="#d40000"/><stop offset="0.8372" stop-color="#d00000"/><stop offset="0.8488" stop-color="#cd0000"/><stop offset="0.8605" stop-color="#c50000"/><stop offset="0.8721" stop-color="#bd0000"/><stop offset="0.8837" stop-color="#b50000"/><stop offset="0.8953" stop-color="#ae0000"/><stop offset="0.9070" stop-color="#a60000"/><stop offset="0.9186" stop-color="#9e0000"/><stop offset="0.9302" stop-color="#8b0000"/><stop offset="0.9419" stop-color="#790000"/><stop offset="0.9535" stop-color="#660000"/><stop offset="0.9651" stop-color="#4f0000"/><stop offset="0.9767" stop-color="#330000"/><stop offset="1.0000" stop-color="#330000"/></linearGradient>
<linearGradient id="g34"><stop offset="0.0000" stop-color="#0b0000"/><stop offset="0.1512" stop-color="#0b0000"/><stop offset="0.1628" stop-color="#0f0000"/><stop offset="0.1744" stop-color="#240000"/><stop offset="0.1860" stop-color="#3a0000"/><stop offset="0.1977" stop-color="#490000"/><stop offset="0.2093" stop-color="#4e0000"/><stop offset="0.2209" stop-color="#540000"/><stop offset="0.2326" stop-color="#590000"/><stop offset="0.2442" stop-color="#5e0000"/><stop offset="0.3953" stop-color="#5e0000"/><stop offset="0.4070" stop-color="#5c0000"/><stop offset="0.4186" stop-color="#5a0000"/><stop offset="0.4302" stop-color="#580000"/><stop offset="0.4419" stop-color="#560000"/><stop offset="0.4535" stop-color="#550000"/><stop offset="0.4651" stop-color="#580000"/><stop offset="0.4767" stop-color="#5b0000"/><stop offset="0.4884" stop-color="#680000"/><stop offset="0.5000" stop-color="#760000"/><stop offset="0.5814" stop-color="#760000"/><stop offset="0.5930" stop-color="#740000"/><stop offset="0.6047" stop-color="#6d0000"/><stop offset="0.6163" stop-color="#650000"/><stop offset="0.6279" stop-color="#5d0000"/><stop offset="0.6395" stop-color="#560000"/><stop offset="0.6512" stop-color="#4c0000"/><stop offset="0.6628" stop-color="#410000"/><stop offset="0.6744" stop-color="#360000"/><stop offset="0.6860" stop-color="#2c0000"/><stop offset="0.6977" stop-color="#250000"/><stop offset="0.9070" stop-color="#250000"/><stop offset="0.9186" stop-color="#240000"/><stop offset="0.9302" stop-color="#230000"/><stop offset="0.9419" stop-color="#220000"/><stop offset="0.9535" stop-color="#210000"/><stop offset="0.9651" stop-color="#200000"/><stop offset="0.9767" stop-color="#1f0000"/><stop offset="1.0000" stop-color="#1f0000"/></linearGradient>
<linearGradient id="g35"><stop offset="0.0000" stop-color="#0b0000"/><stop offset="0.1860" stop-color="#0b0000"/><stop offset="0.1977" stop-color="#0e0000"/><stop offset="0.2093" stop-color="#150000"/><stop offset="0.2209" stop-color="#1d0000"/><stop offset="0.2326" stop-color="#240000"/><stop offset="0.2442" stop-color="#2c0000"/><stop offset="0.2558" stop-color="#2d0000"/><stop offset="0.2674" stop-color="#2e0000"/><stop offset="0.2791" stop-color="#2f0000"/><stop offset="0.2907" stop-color="#300000"/><stop offset="0.3023" stop-color="#310000"/><stop offset="0.3140" stop-color="#320000"/><stop offset="0.3256" stop-color="#330000"/><stop offset="0.3372" stop-color="#340000"/><stop offset="0.3488" stop-color="#350000"/><stop offset="0.3605" stop-color="#360000"/><stop offset="0.3721" stop-color="#370000"/><stop offset="0.3837" stop-color="#380000"/><stop offset="0.3953" stop-color="#390000"/><stop offset="0.4070" stop-color="#3d0000"/><stop offset="0.4186" stop-color="#400000"/><stop offset="0.4302" stop-color="#440000"/><stop offset="0.4419" stop-color="#470000"/><stop offset="0.4535" stop-color="#4a0000"/><stop offset="0.4651" stop-color="#4e0000"/><stop offset="0.4767" stop-color="#510000"/><stop offset="0.4884" stop-color="#540000"/><stop offset="0.5000" stop-color="#550000"/><stop offset="0.5116" stop-color="#560000"/><stop offset="0.5233" stop-color="#570000"/><stop offset="0.5349" stop-color="#570000"/><stop offset="0.5465" stop-color="#580000"/><stop offset="0.5581" stop-color="#590000"/><stop offset="0.5698" stop-color="#5a0000"/><stop offset="0.5814" stop-color="#5a0000"/><stop offset="0.5930" stop-color="#5c0000"/><stop offset="0.6047" stop-color="#5f0000"/><stop offset="0.6163" stop-color="#620000"/><stop offset="0.6279" stop-color="#650000"/><stop offset="0.6395" stop-color="#680000"/><stop offset="0.6512" stop-color="#6e0000"/><stop offset="0.6628" stop-color="#750000"/><stop offset="0.6744" stop-color="#7c0000"/><stop offset="0.6860" stop-color="#830000"/><stop offset="0.6977" stop-color="#8a0000"/><stop offset="0.7093" stop-color="#910000"/><stop offset="0.7209" stop-color="#940000"/><stop offset="0.7907" stop-color="#940000"/><stop offset="0.8023" stop-color="#8e0000"/><stop offset="0.8140" stop-color="#850000"/><stop offset="0.8256" stop-color="#7b0000"/><stop offset="0.8372" stop-color="#720000"/><stop offset="0.8488" stop-color="#680000"/><stop offset="0.8605" stop-color="#620000"/><stop offset="0.8721" stop-color="#5c0000"/><stop offset="0.8837" stop-color="#560000"/><stop offset="0.8953" stop-color="#500000"/><stop offset="0.9070" stop-color="#480000"/><stop offset="0.9186" stop-color="#400000"/><stop offset="0.9302" stop-color="#370000"/><stop offset="0.9419" stop-color="#2e0000"/><stop offset="0.9535" stop-color="#250000"/><stop offset="0.9651" stop-color="#220000"/><stop offset="0.9767" stop-color="#1f0000"/><stop offset="1.0000" stop-color="#1f0000"/></linearGradient>
<linearGradient id="g36"><stop offset="0.0000" stop-color="#0b0000"/><stop offset="0.0930" stop-color="#0b0000"/><stop offset="0.1047" stop-color="#190000"/><stop offset="0.1163" stop-color="#3d0000"/><stop offset="0.1279" stop-color="#610000"/><stop offset="0.1395" stop-color="#770000"/><stop offset="0.1512" stop-color="#8a0000"/><stop offset="0.1628" stop-color="#8a0000"/><stop offset="0.1744" stop-color="#8b0000"/><stop offset="0.1977" stop-color="#8b0000"/><stop offset="0.2093" stop-color="#8c0000"/><stop offset="0.2209" stop-color="#8c0000"/><stop offset="0.2326" stop-color="#8d0000"/><stop offset="0.2558" stop-color="#8d0000"/><stop offset="0.2674" stop-color="#8e0000"/><stop offset="0.2791" stop-color="#8e0000"/><stop offset="0.2907" stop-color="#8f0000"/><stop offset="0.3140" stop-color="#8f0000"/><stop offset="0.3256" stop-color="#900000"/><stop offset="0.3488" stop-color="#900000"/><stop offset="0.3605" stop-color="#880000"/><stop offset="0.3721" stop-color="#800000"/><stop offset="0.3837" stop-color="#770000"/><stop offset="0.3953" stop-color="#6f0000"/><stop offset="0.4070" stop-color="#6e0000"/><stop offset="0.4186" stop-color="#6c0000"/><stop offset="0.4302" stop-color="#6b0000"/><stop offset="0.4419" stop-color="#690000"/><stop offset="0.4535" stop-color="#680000"/><stop offset="0.4651" stop-color="#660000"/><stop offset="0.4767" stop-color="#650000"/><stop offset="0.4884" stop-color="#630000"/><stop offset="0.5000" stop-color="#620000"/><stop offset="0.5116" stop-color="#5f0000"/><stop offset="0.5233" stop-color="#5c0000"/><stop offset="0.5349" stop-color="#5a0000"/><stop offset="0.5465" stop-color="#570000"/><stop offset="0.5581" stop-color="#550000"/><stop offset="0.5698" stop-color="#520000"/><stop offset="0.5814" stop-color="#500000"/><stop offset="0.5930" stop-color="#4d0000"/><stop offset="0.6047" stop-color="#480000"/><stop offset="0.6163" stop-color="#440000"/><stop offset="0.6279" stop-color="#3f0000"/><stop offset="0.6395" stop-color="#3a0000"/><stop offset="0.6512" stop-color="#360000"/><stop offset="0.6628" stop-color="#310000"/><stop offset="0.6744" stop-color="#2d0000"/><stop offset="0.6860" stop-color="#280000"/><stop offset="0.6977" stop-color="#250000"/><stop offset="0.7209" stop-color="#250000"/><stop offset="0.7326" stop-color="#240000"/><stop offset="0.7674" stop-color="#240000"/><stop offset="0.7791" stop-color="#230000"/><stop offset="0.8140" stop-color="#230000"/><stop offset="0.8256" stop-color="#220000"/><stop offset="0.8488" stop-color="#220000"/><stop offset="0.8605" stop-color="#210000"/><stop offset="0.8953" stop-color="#210000"/><stop offset="0.9070" stop-color="#200000"/><stop offset="0.9419" stop-color="#200000"/><stop offset="0.9535" stop-color="#1f0000"/><stop offset="1.0000" stop-color="#1f0000"/></linearGradient>
<linearGradient id="g37"><stop offset="0.0000" stop-color="#0b0000"/><stop offset="0.0814" stop-color="#0b0000"/><stop offset="0.0930" stop-color="#100000"/><stop offset="0.1047" stop-color="#1f0000"/><stop offset="0.1163" stop-color="#2d0000"/><stop offset="0.1279" stop-color="#330000"/><stop offset="0.1860" stop-color="#330000"/><stop offset="0.1977" stop-color="#2e0000"/><stop offset="0.2093" stop-color="#230000"/><stop offset="0.2209" stop-color="#180000"/><stop offset="0.2791" stop-color="#180000"/><stop offset="0.2907" stop-color="#240000"/><stop offset="0.3023" stop-color="#2f0000"/><stop offset="0.3140" stop-color="#300000"/><stop offset="0.3721" stop-color="#300000"/><stop offset="0.3837" stop-color="#310000"/><stop offset="0.4419" stop-color="#310000"/><stop offset="0.4535" stop-color="#320000"/><stop offset="0.5116" stop-color="#320000"/><stop offset="0.5233" stop-color="#330000"/><stop offset="0.5349" stop-color="#330000"/><stop offset="0.5465" stop-color="#2c0000"/><stop offset="0.5581" stop-color="#250000"/><stop offset="0.5698" stop-color="#1e0000"/><stop offset="0.5814" stop-color="#170000"/><stop offset="0.5930" stop-color="#110000"/><stop offset="0.7442" stop-color="#110000"/><stop offset="0.7558" stop-color="#190000"/><stop offset="0.7674" stop-color="#210000"/><stop offset="0.7791" stop-color="#280000"/><stop offset="0.7907" stop-color="#300000"/><stop offset="0.8023" stop-color="#330000"/><stop offset="0.9535" stop-color="#330000"/><stop offset="0.9651" stop-color="#290000"/><stop offset="0.9767" stop-color="#1f0000"/><stop offset="1.0000" stop-color="#1f0000"/></linearGradient>
<linearGradient id="g38"><stop offset="0.0000" stop-color="#0b0000"/><stop offset="0.0116" stop-color="#0c0000"/><stop offset="0.0233" stop-color="#0e0000"/><stop offset="0.0349" stop-color="#0f0000"/><stop offset="0.0465" stop-color="#110000"/><stop offset="0.0581" stop-color="#390000"/><stop offset="0.0698" stop-color="#7c0000"/><stop offset="0.0814" stop-color="#940000"/><stop offset="0.0930" stop-color="#ac0000"/><stop offset="0.1047" stop-color="#c30000"/><stop offset="0.1163" stop-color="#cd0000"/><stop offset="0.2442" stop-color="#cd0000"/><stop offset="0.2558" stop-color="#c50000"/><stop offset="0.2674" stop-color="#be0000"/><stop offset="0.2791" stop-color="#b60000"/><stop offset="0.2907" stop-color="#ae0000"/><stop offset="0.3023" stop-color="#ab0000"/><stop offset="0.3953" stop-color="#ab0000"/><stop offset="0.4070" stop-color="#9d0000"/><stop offset="0.4186" stop-color="#8e0000"/><stop offset="0.4302" stop-color="#800000"/><stop offset="0.4419" stop-color="#710000"/><stop offset="0.4535" stop-color="#650000"/><stop offset="0.4651" stop-color="#5c0000"/><stop offset="0.4767" stop-color="#520000"/><stop offset="0.4884" stop-color="#490000"/><stop offset="0.5000" stop-color="#400000"/><stop offset="0.5116" stop-color="#370000"/><stop offset="0.5233" stop-color="#2e0000"/><stop offset="0.5349" stop-color="#250000"/><stop offset="0.5465" stop-color="#210000"/><stop offset="0.5581" stop-color="#1d0000"/><stop offset="0.5698" stop-color="#190000"/><stop offset="0.5814" stop-color="#150000"/><stop offset="0.5930" stop-color="#110000"/><stop offset="0.7442" stop-color="#110000"/><stop offset="0.7558" stop-color="#1b0000"/><stop offset="0.7674" stop-color="#250000"/><stop offset="0.8953" stop-color="#250000"/><stop offset="0.9070" stop-color="#2d0000"/><stop offset="0.9186" stop-color="#390000"/><stop offset="0.9302" stop-color="#370000"/><stop offset="0.9419" stop-color="#340000"/><stop offset="0.9535" stop-color="#310000"/><stop offset="0.9651" stop-color="#2f0000"/><stop offset="0.9767" stop-color="#2c0000"/><stop offset="1.0000" stop-color="#2c0000"/></linearGradient>
<linearGradient id="g39"><stop offset="0.0000" stop-color="#0b0000"/><stop offset="0.0116" stop-color="#0f0000"/><stop offset="0.0233" stop-color="#1f0000"/><stop offset="0.0349" stop-color="#350000"/><stop offset="0.0465" stop-color="#390000"/><stop offset="0.0814" stop-color="#390000"/><stop offset="0.0930" stop-color="#340000"/><stop offset="0.1047" stop-color="#250000"/><stop offset="0.1163" stop-color="#170000"/><stop offset="0.1279" stop-color="#110000"/><stop offset="0.2907" stop-color="#110000"/><stop offset="0.3023" stop-color="#170000"/><stop offset="0.3140" stop-color="#200000"/><stop offset="0.3256" stop-color="#290000"/><stop offset="0.3372" stop-color="#320000"/><stop offset="0.3488" stop-color="#390000"/><stop offset="0.3953" stop-color="#390000"/><stop offset="0.4070" stop-color="#2e0000"/><stop offset="0.4186" stop-color="#230000"/><stop offset="0.4302" stop-color="#180000"/><stop offset="0.4419" stop-color="#1a0000"/><stop offset="0.4535" stop-color="#1c0000"/><stop offset="0.4651" stop-color="#1f0000"/><stop offset="0.4767" stop-color="#2c0000"/><stop offset="0.4884" stop-color="#390000"/><stop offset="0.5349" stop-color="#390000"/><stop offset="0.5465" stop-color="#310000"/><stop offset="0.5581" stop-color="#290000"/><stop offset="0.5698" stop-color="#200000"/><stop offset="0.5814" stop-color="#180000"/><stop offset="0.5930" stop-color="#110000"/><stop offset="0.6977" stop-color="#110000"/><stop offset="0.7093" stop-color="#1b0000"/><stop offset="0.7209" stop-color="#250000"/><stop offset="0.7326" stop-color="#2f0000"/><stop offset="0.7442" stop-color="#390000"/><stop offset="0.7558" stop-color="#3c0000"/><stop offset="0.7674" stop-color="#3e0000"/><stop offset="0.7791" stop-color="#400000"/><stop offset="0.7907" stop-color="#420000"/><stop offset="0.8023" stop-color="#450000"/><stop offset="0.8140" stop-color="#470000"/><stop offset="0.8256" stop-color="#490000"/><stop offset="0.8372" stop-color="#4b0000"/><stop offset="0.8488" stop-color="#4e0000"/><stop offset="0.9186" stop-color="#4e0000"/><stop offset="0.9302" stop-color="#400000"/><stop offset="0.9419" stop-color="#330000"/><stop offset="0.9535" stop-color="#250000"/><stop offset="1.0000" stop-color="#250000"/></linearGradient>
<linearGradient id="g40"><stop offset="0.0000" stop-color="#ffffff"/><stop offset="0.0116" stop-color="#fffff7"/><stop offset="0.0233" stop-color="#fffff0"/><stop offset="0.0349" stop-color="#ffffe8"/><stop offset="0.0465" stop-color="#ffffe1"/><stop offset="0.0581" stop-color="#ffff96"/><stop offset="0.0698" stop-color="#ffff4f"/><stop offset="0.0814" stop-color="#ffff0e"/><stop offset="0.0930" stop-color="#ffff05"/><stop offset="0.1047" stop-color="#fffc00"/><stop offset="0.1163" stop-color="#ffd700"/><stop offset="0.1279" stop-color="#ffab00"/><stop offset="0.1395" stop-color="#ff9b00"/><stop offset="0.1512" stop-color="#ff8c00"/><stop offset="0.1628" stop-color="#ff7c00"/><stop offset="0.1744" stop-color="#ff6d00"/><stop offset="0.1860" stop-color="#ff5d00"/><stop offset="0.1977" stop-color="#ff4600"/><stop offset="0.2093" stop-color="#ff2c00"/><stop offset="0.2209" stop-color="#ff1600"/><stop offset="0.2326" stop-color="#ff0e00"/><stop offset="0.2442" stop-color="#ff0700"/><stop offset="0.2558" stop-color="#fe0000"/><stop offset="0.2674" stop-color="#f60000"/><stop offset="0.2791" stop-color="#e00000"/><stop offset="0.2907" stop-color="#c60000"/><stop offset="0.3023" stop-color="#ac0000"/><stop offset="0.3140" stop-color="#950000"/><stop offset="0.3256" stop-color="#890000"/><stop offset="0.3372" stop-color="#7d0000"/><stop offset="0.3488" stop-color="#710000"/><stop offset="0.3605" stop-color="#650000"/><stop offset="0.3721" stop-color="#590000"/><stop offset="0.3837" stop-color="#510000"/><stop offset="0.3953" stop-color="#4b0000"/><stop offset="0.4070" stop-color="#460000"/><stop offset="0.4186" stop-color="#400000"/><stop offset="0.4302" stop-color="#3b0000"/><stop offset="0.4419" stop-color="#350000"/><stop offset="0.4535" stop-color="#320000"/><stop offset="0.4651" stop-color="#300000"/><stop offset="0.4767" stop-color="#2f0000"/><stop offset="0.4884" stop-color="#2e0000"/><stop offset="0.5000" stop-color="#2c0000"/><stop offset="0.5814" stop-color="#2c0000"/><stop offset="0.5930" stop-color="#290000"/><stop offset="0.6047" stop-color="#270000"/><stop offset="0.6163" stop-color="#240000"/><stop offset="0.6279" stop-color="#210000"/><stop offset="0.6395" stop-color="#1f0000"/><stop offset="0.7442" stop-color="#1f0000"/><stop offset="0.7558" stop-color="#240000"/><stop offset="0.7674" stop-color="#290000"/><stop offset="0.7791" stop-color="#2e0000"/><stop offset="0.7907" stop-color="#330000"/><stop offset="1.0000" stop-color="#330000"/></linearGradient>
<linearGradient id="g41"><stop offset="0.0000" stop-color="#ffffff"/><stop offset="0.0116" stop-color="#fffff7"/><stop offset="0.0233" stop-color="#fffff0"/><stop offset="0.0349" stop-color="#ffffe8"/><stop offset="0.0465" stop-color="#ffffe1"/><stop offset="0.0581" stop-color="#ffff96"/><stop offset="0.0698" stop-color="#ffff4f"/><stop offset="0.0814" stop-color="#ffff0e"/><stop offset="0.0930" stop-color="#ffff05"/><stop offset="0.1047" stop-color="#fffc00"/><stop offset="0.1163" stop-color="#ffd700"/><stop offset="0.1279" stop-color="#ffab00"/><stop offset="0.1395" stop-color="#ff9b00"/><stop offset="0.1512" stop-color="#ff8c00"/><stop offset="0.1628" stop-color="#ff7c00"/><stop offset="0.1744" stop-color="#ff6d00"/><stop offset="0.1860" stop-color="#ff5d00"/><stop offset="0.1977" stop-color="#ff4600"/><stop offset="0.2093" stop-color="#ff2c00"/><stop offset="0.2209" stop-color="#ff1600"/><stop offset="0.2326" stop-color="#ff0e00"/><stop offset="0.2442" stop-color="#ff0700"/><stop offset="0.2558" stop-color="#fe0000"/><stop offset="0.2674" stop-color="#f60000"/><stop offset="0.2791" stop-color="#e00000"/><stop offset="0.2907" stop-color="#c60000"/><stop offset="0.3023" stop-color="#ac0000"/><stop offset="0.3140" stop-color="#950000"/><stop offset="0.3256" stop-color="#890000"/><stop offset="0.3372" stop-color="#7d0000"/><stop offset="0.3488" stop-color="#710000"/><stop offset="0.3605" stop-color="#650000"/><stop offset="0.3721" stop-color="#590000"/><stop offset="0.3837" stop-color="#510000"/><stop offset="0.3953" stop-color="#4b0000"/><stop offset="0.4070" stop-color="#460000"/><stop offset="0.4186" stop-color="#400000"/><stop offset="0.4302" stop-color="#3b0000"/><stop offset="0.4419" stop-color="#350000"/><stop offset="0.4535" stop-color="#320000"/><stop offset="0.4651" stop-color="#300000"/><stop offset="0.4767" stop-color="#2f0000"/><stop offset="0.4884" stop-color="#2e0000"/><stop offset="0.5000" stop-color="#2c0000"/><stop offset="0.5814" stop-color="#2c0000"/><stop offset="0.5930" stop-color="#290000"/><stop offset="0.6047" stop-color="#270000"/><stop offset="0.6163" stop-color="#240000"/><stop offset="0.6279" stop-color="#210000"/><stop offset="0.6395" stop-color="#1f0000"/><stop offset="0.7442" stop-color="#1f0000"/><stop offset="0.7558" stop-color="#240000"/><stop offset="0.7674" stop-color="#290000"/><stop offset="0.7791" stop-color="#2e0000"/><stop offset="0.7907" stop-color="#330000"/><stop offset="1.0000" stop-color="#330000"/></linearGradient>
<linearGradient id="g42"><stop offset="0.0000" stop-color="#0b0000"/><stop offset="0.0116" stop-color="#0f0000"/><stop offset="0.0233" stop-color="#1f0000"/><stop offset="0.0349" stop-color="#350000"/><stop offset="0.0465" stop-color="#390000"/><stop offset="0.0814" stop-color="#390000"/><stop offset="0.0930" stop-color="#340000"/><stop offset="0.1047" stop-color="#250000"/><stop offset="0.1163" stop-color="#170000"/><stop offset="0.1279" stop-color="#110000"/><stop offset="0.2907" stop-color="#110000"/><stop offset="0.3023" stop-color="#170000"/><stop offset="0.3140" stop-color="#200000"/><stop offset="0.3256" stop-color="#290000"/><stop offset="0.3372" stop-color="#320000"/><stop offset="0.3488" stop-color="#390000"/><stop offset="0.3953" stop-color="#390000"/><stop offset="0.4070" stop-color="#2e0000"/><stop offset="0.4186" stop-color="#230000"/><stop offset="0.4302" stop-color="#180000"/><stop offset="0.4419" stop-color="#1a0000"/><stop offset="0.4535" stop-color="#1c0000"/><stop offset="0.4651" stop-color="#1f0000"/><stop offset="0.4767" stop-color="#2c0000"/><stop offset="0.4884" stop-color="#390000"/><stop offset="0.5349" stop-color="#390000"/><stop offset="0.5465" stop-color="#310000"/><stop offset="0.5581" stop-color="#290000"/><stop offset="0.5698" stop-color="#200000"/><stop offset="0.5814" stop-color="#180000"/><stop offset="0.5930" stop-color="#110000"/><stop offset="0.6977" stop-color="#110000"/><stop offset="0.7093" stop-color="#1b0000"/><stop offset="0.7209" stop-color="#250000"/><stop offset="0.7326" stop-color="#2f0000"/><stop offset="0.7442" stop-color="#390000"/><stop offset="0.7558" stop-color="#3c0000"/><stop offset="0.7674" stop-color="#3e0000"/><stop offset="0.7791" stop-color="#400000"/><stop offset="0.7907" stop-color="#420000"/><stop offset="0.8023" stop-color="#450000"/><stop offset="0.8140" stop-color="#470000"/><stop offset="0.8256" stop-color="#490000"/><stop offset="0.8372" stop-color="#4b0000"/><stop offset="0.8488" stop-color="#4e0000"/><stop offset="0.9186" stop-color="#4e0000"/><stop offset="0.9302" stop-color="#400000"/><stop offset="0.9419" stop-color="#330000"/><stop offset="0.9535" stop-color="#250000"/><stop offset="1.0000" stop-color="#250000"/></linearGradient>
<linearGradient id="g43"><stop offset="0.0000" stop-color="#0b0000"/><stop offset="0.0116" stop-color="#0c0000"/><stop offset="0.0233" stop-color="#0e0000"/><stop offset="0.0349" stop-color="#0f0000"/><stop offset="0.0465" stop-color="#110000"/><stop offset="0.0581" stop-color="#390000"/><stop offset="0.0698" stop-color="#7c0000"/><stop offset="0.0814" stop-color="#940000"/><stop offset="0.0930" stop-color="#ac0000"/><stop offset="0.1047" stop-color="#c30000"/><stop offset="0.1163" stop-color="#cd0000"/><stop offset="0.2442" stop-color="#cd0000"/><stop offset="0.2558" stop-color="#c50000"/><stop offset="0.2674" stop-color="#be0000"/><stop offset="0.2791" stop-color="#b60000"/><stop offset="0.2907" stop-color="#ae0000"/><stop offset="0.3023" stop-color="#ab0000"/><stop offset="0.3953" stop-color="#ab0000"/><stop offset="0.4070" stop-color="#9d0000"/><stop offset="0.4186" stop-color="#8e0000"/><stop offset="0.4302" stop-color="#800000"/><stop offset="0.4419" stop-color="#710000"/><stop offset="0.4535" stop-color="#650000"/><stop offset="0.4651" stop-color="#5c0000"/><stop offset="0.4767" stop-color="#520000"/><stop offset="0.4884" stop-color="#490000"/><stop offset="0.5000" stop-color="#400000"/><stop offset="0.5116" stop-color="#370000"/><stop offset="0.5233" stop-color="#2e0000"/><stop offset="0.5349" stop-color="#250000"/><stop offset="0.5465" stop-color="#210000"/><stop offset="0.5581" stop-color="#1d0000"/><stop offset="0.5698" stop-color="#190000"/><stop offset="0.5814" stop-color="#150000"/><stop offset="0.5930" stop-color="#110000"/><stop offset="0.7442" stop-color="#110000"/><stop offset="0.7558" stop-color="#1b0000"/><stop offset="0.7674" stop-color="#250000"/><stop offset="0.8953" stop-color="#250000"/><stop offset="0.9070" stop-color="#2d0000"/><stop offset="0.9186" stop-color="#390000"/><stop offset="0.9302" stop-color="#370000"/><stop offset="0.9419" stop-color="#340000"/><stop offset="0.9535" stop-color="#310000"/><stop offset="0.9651" stop-color="#2f0000"/><stop offset="0.9767" stop-color="#2c0000"/><stop offset="1.0000" stop-color="#2c0000"/></linearGradient>
<linearGradient id="g44"><stop offset="0.0000" stop-color="#0b0000"/><stop offset="0.0814" stop-color="#0b0000"/><stop offset="0.0930" stop-color="#100000"/><stop offset="0.1047" stop-color="#1f0000"/><stop offset="0.1163" stop-color="#2d0000"/><stop offset="0.1279" stop-color="#330000"/><stop offset="0.1860" stop-color="#330000"/><stop offset="0.1977" stop-color="#2e0000"/><stop offset="0.2093" stop-color="#230000"/><stop offset="0.2209" stop-color="#180000"/><stop offset="0.2791" stop-color="#180000"/><stop offset="0.2907" stop-color="#240000"/><stop offset="0.3023" stop-color="#2f0000"/><stop offset="0.3140" stop-color="#300000"/><stop offset="0.3721" stop-color="#300000"/><stop offset="0.3837" stop-color="#310000"/><stop offset="0.4419" stop-color="#310000"/><stop offset="0.4535" stop-color="#320000"/><stop offset="0.5116" stop-color="#320000"/><stop offset="0.5233" stop-color="#330000"/><stop offset="0.5349" stop-color="#330000"/><stop offset="0.5465" stop-color="#2c0000"/><stop offset="0.5581" stop-color="#250000"/><stop offset="0.5698" stop-color="#1e0000"/><stop offset="0.5814" stop-color="#170000"/><stop offset="0.5930" stop-color="#110000"/><stop offset="0.7442" stop-color="#110000"/><stop offset="0.7558" stop-color="#190000"/><stop offset="0.7674" stop-color="#210000"/><stop offset="0.7791" stop-color="#280000"/><stop offset="0.7907" stop-color="#300000"/><stop offset="0.8023" stop-color="#330000"/><stop offset="0.9535" stop-color="#330000"/><stop offset="0.9651" stop-color="#290000"/><stop offset="0.9767" stop-color="#1f0000"/><stop offset="1.0000" stop-color="#1f0000"/></linearGradient>
<linearGradient id="g45"><stop offset="0.0000" stop-color="#0b0000"/><stop offset="0.0930" stop-color="#0b0000"/><stop offset="0.1047" stop-color="#190000"/><stop offset="0.1163" stop-color="#3d0000"/><stop offset="0.1279" stop-color="#610000"/><stop offset="0.1395" stop-color="#770000"/><stop offset="0.1512" stop-color="#8a0000"/><stop offset="0.1628" stop-color="#8a0000"/><stop offset="0.1744" stop-color="#8b0000"/><stop offset="0.1977" stop-color="#8b0000"/><stop offset="0.2093" stop-color="#8c0000"/><stop offset="0.2209" stop-color="#8c0000"/><stop offset="0.2326" stop-color="#8d0000"/><stop offset="0.2558" stop-color="#8d0000"/><stop offset="0.2674" stop-color="#8e0000"/><stop offset="0.2791" stop-color="#8e0000"/><stop offset="0.2907" stop-color="#8f0000"/><stop offset="0.3140" stop-color="#8f0000"/><stop offset="0.3256" stop-color="#900000"/><stop offset="0.3488" stop-color="#900000"/><stop offset="0.3605" stop-color="#880000"/><stop offset="0.3721" stop-color="#800000"/><stop offset="0.3837" stop-color="#770000"/><stop offset="0.3953" stop-color="#6f0000"/><stop offset="0.4070" stop-color="#6e0000"/><stop offset="0.4186" stop-color="#6c0000"/><stop offset="0.4302" stop-color="#6b0000"/><stop offset="0.4419" stop-color="#690000"/><stop offset="0.4535" stop-color="#680000"/><stop offset="0.4651" stop-color="#660000"/><stop offset="0.4767" stop-color="#650000"/><stop offset="0.4884" stop-color="#630000"/><stop offset="0.5000" stop-color="#620000"/><stop offset="0.5116" stop-color="#5f0000"/><stop offset="0.5233" stop-color="#5c0000"/><stop offset="0.5349" stop-color="#5a0000"/><stop offset="0.5465" stop-color="#570000"/><stop offset="0.5581" stop-color="#550000"/><stop offset="0.5698" stop-color="#520000"/><stop offset="0.5814" stop-color="#500000"/><stop offset="0.5930" stop-color="#4d0000"/><stop offset="0.6047" stop-color="#480000"/><stop offset="0.6163" stop-color="#440000"/><stop offset="0.6279" stop-color="#3f0000"/><stop offset="0.6395" stop-color="#3a0000"/><stop offset="0.6512" stop-color="#360000"/><stop offset="0.6628" stop-color="#310000"/><stop offset="0.6744" stop-color="#2d0000"/><stop offset="0.6860" stop-color="#280000"/><stop offset="0.6977" stop-color="#250000"/><stop offset="0.7209" stop-color="#250000"/><stop offset="0.7326" stop-color="#240000"/><stop offset="0.7674" stop-color="#240000"/><stop offset="0.7791" stop-color="#230000"/><stop offset="0.8140" stop-color="#230000"/><stop offset="0.8256" stop-color="#220000"/><stop offset="0.8488" stop-color="#220000"/><stop offset="0.8605" stop-color="#210000"/><stop offset="0.8953" stop-color="#210000"/><stop offset="0.9070" stop-color="#200000"/><stop offset="0.9419" stop-color="#200000"/><stop offset="0.9535" stop-color="#1f0000"/><stop offset="1.0000" stop-color="#1f0000"/></linearGradient>
<linearGradient id="g46"><stop offset="0.0000" stop-color="#0b0000"/><stop offset="0.1860" stop-color="#0b0000"/><stop offset="0.1977" stop-color="#0e0000"/><stop offset="0.2093" stop-color="#150000"/><stop offset="0.2209" stop-color="#1d0000"/><stop offset="0.2326" stop-color="#240000"/><stop offset="0.2442" stop-color="#2c0000"/><stop offset="0.2558" stop-color="#2d0000"/><stop offset="0.2674" stop-color="#2e0000"/><stop offset="0.2791" stop-color="#2f0000"/><stop offset="0.2907" stop-color="#300000"/><stop offset="0.3023" stop-color="#310000"/><stop offset="0.3140" stop-color="#320000"/><stop offset="0.3256" stop-color="#330000"/><stop offset="0.3372" stop-color="#340000"/><stop offset="0.3488" stop-color="#350000"/><stop offset="0.3605" stop-color="#360000"/><stop offset="0.3721" stop-color="#370000"/><stop offset="0.3837" stop-color="#380000"/><stop offset="0.3953" stop-color="#390000"/><stop offset="0.4070" stop-color="#3d0000"/><stop offset="0.4186" stop-color="#400000"/><stop offset="0.4302" stop-color="#440000"/><stop offset="0.4419" stop-color="#470000"/><stop offset="0.4535" stop-color="#4a0000"/><stop offset="0.4651" stop-color="#4e0000"/><stop offset="0.4767" stop-color="#510000"/><stop offset="0.4884" stop-color="#540000"/><stop offset="0.5000" stop-color="#550000"/><stop offset="0.5116" stop-color="#560000"/><stop offset="0.5233" stop-color="#570000"/><stop offset="0.5349" stop-color="#570000"/><stop offset="0.5465" stop-color="#580000"/><stop offset="0.5581" stop-color="#590000"/><stop offset="0.5698" stop-color="#5a0000"/><stop offset="0.5814" stop-color="#5a0000"/><stop offset="0.5930" stop-color="#5c0000"/><stop offset="0.6047" stop-color="#5f0000"/><stop offset="0.6163" stop-color="#620000"/><stop offset="0.6279" stop-color="#650000"/><stop offset="0.6395" stop-color="#680000"/><stop offset="0.6512" stop-color="#6e0000"/><stop offset="0.6628" stop-color="#750000"/><stop offset="0.6744" stop-color="#7c0000"/><stop offset="0.6860" stop-color="#830000"/><stop offset="0.6977" stop-color="#8a0000"/><stop offset="0.7093" stop-color="#910000"/><stop offset="0.7209" stop-color="#940000"/><stop offset="0.7907" stop-color="#940000"/><stop offset="0.8023" stop-color="#8e0000"/><stop offset="0.8140" stop-color="#850000"/><stop offset="0.8256" stop-color="#7b0000"/><stop offset="0.8372" stop-color="#720000"/><stop offset="0.8488" stop-color="#680000"/><stop offset="0.8605" stop-color="#620000"/><stop offset="0.8721" stop-color="#5c0000"/><stop offset="0.8837" stop-color="#560000"/><stop offset="0.8953" stop-color="#500000"/><stop offset="0.9070" stop-color="#480000"/><stop offset="0.9186" stop-color="#400000"/><stop offset="0.9302" stop-color="#370000"/><stop offset="0.9419" stop-color="#2e0000"/><stop offset="0.9535" stop-color="#250000"/><stop offset="0.9651" stop-color="#220000"/><stop offset="0.9767" stop-color="#1f0000"/><stop offset="1.0000" stop-color="#1f0000"/></linearGradient>
<linearGradient id="g47"><stop offset="0.0000" stop-color="#0b0000"/><stop offset="0.1512" stop-color="#0b0000"/><stop offset="0.1628" stop-color="#0f0000"/><stop offset="0.1744" stop-color="#240000"/><stop offset="0.1860" stop-color="#3a0000"/><stop offset="0.1977" stop-color="#490000"/><stop offset="0.2093" stop-color="#4e0000"/><stop offset="0.2209" stop-color="#540000"/><stop offset="0.2326" stop-color="#590000"/><stop offset="0.2442" stop-color="#5e0000"/><stop offset="0.3953" stop-color="#5e0000"/><stop offset="0.4070" stop-color="#5c0000"/><stop offset="0.4186" stop-color="#5a0000"/><stop offset="0.4302" stop-color="#580000"/><stop offset="0.4419" stop-color="#560000"/><stop offset="0.4535" stop-color="#550000"/><stop offset="0.4651" stop-color="#580000"/><stop offset="0.4767" stop-color="#5b0000"/><stop offset="0.4884" stop-color="#680000"/><stop offset="0.5000" stop-color="#760000"/><stop offset="0.5814" stop-color="#760000"/><stop offset="0.5930" stop-color="#740000"/><stop offset="0.6047" stop-color="#6d0000"/><stop offset="0.6163" stop-color="#650000"/><stop offset="0.6279" stop-color="#5d0000"/><stop offset="0.6395" stop-color="#560000"/><stop offset="0.6512" stop-color="#4c0000"/><stop offset="0.6628" stop-color="#410000"/><stop offset="0.6744" stop-color="#360000"/><stop offset="0.6860" stop-color="#2c0000"/><stop offset="0.6977" stop-color="#250000"/><stop offset="0.9070" stop-color="#250000"/><stop offset="0.9186" stop-color="#240000"/><stop offset="0.9302" stop-color="#230000"/><stop offset="0.9419" stop-color="#220000"/><stop offset="0.9535" stop-color="#210000"/><stop offset="0.9651" stop-color="#200000"/><stop offset="0.9767" stop-color="#1f0000"/><stop offset="1.0000" stop-color="#1f0000"/></linearGradient>
<linearGradient id="g48"><stop offset="0.0000" stop-color="#0b0000"/><stop offset="0.2442" stop-color="#0b0000"/><stop offset="0.2558" stop-color="#150000"/><stop offset="0.2674" stop-color="#200000"/><stop offset="0.2791" stop-color="#2b0000"/><stop offset="0.2907" stop-color="#350000"/><stop offset="0.3023" stop-color="#3a0000"/><stop offset="0.3140" stop-color="#3a0000"/><stop offset="0.3256" stop-color="#3b0000"/><stop offset="0.3372" stop-color="#3c0000"/><stop offset="0.3488" stop-color="#3c0000"/><stop offset="0.3605" stop-color="#3d0000"/><stop offset="0.3721" stop-color="#3d0000"/><stop offset="0.3837" stop-color="#3e0000"/><stop offset="0.3953" stop-color="#3e0000"/><stop offset="0.4070" stop-color="#3f0000"/><stop offset="0.4186" stop-color="#400000"/><stop offset="0.4302" stop-color="#400000"/><stop offset="0.4419" stop-color="#500000"/><stop offset="0.4535" stop-color="#5f0000"/><stop offset="0.4651" stop-color="#6f0000"/><stop offset="0.4767" stop-color="#8d0000"/><stop offset="0.4884" stop-color="#ab0000"/><stop offset="0.5000" stop-color="#b80000"/><stop offset="0.5116" stop-color="#c50000"/><stop offset="0.5233" stop-color="#d20000"/><stop offset="0.5349" stop-color="#df0000"/><stop offset="0.5465" stop-color="#ec0000"/><stop offset="0.5581" stop-color="#fa0000"/><stop offset="0.5698" stop-color="#ff0a00"/><stop offset="0.5814" stop-color="#ff1900"/><stop offset="0.5930" stop-color="#ff2500"/><stop offset="0.6744" stop-color="#ff2500"/><stop offset="0.6860" stop-color="#ff1c00"/><stop offset="0.6977" stop-color="#ff1300"/><stop offset="0.7093" stop-color="#ff0a00"/><stop offset="0.7209" stop-color="#ff0100"/><stop offset="0.7326" stop-color="#f70000"/><stop offset="0.7442" stop-color="#ee0000"/><stop offset="0.7558" stop-color="#ea0000"/><stop offset="0.7674" stop-color="#e70000"/><stop offset="0.7791" stop-color="#e30000"/><stop offset="0.7907" stop-color="#df0000"/><stop offset="0.8023" stop-color="#dc0000"/><stop offset="0.8140" stop-color="#d80000"/><stop offset="0.8256" stop-color="#d40000"/><stop offset="0.8372" stop-color="#d00000"/><stop offset="0.8488" stop-color="#cd0000"/><stop offset="0.8605" stop-color="#c50000"/><stop offset="0.8721" stop-color="#bd0000"/><stop offset="0.8837" stop-color="#b50000"/><stop offset="0.8953" stop-color="#ae0000"/><stop offset="0.9070" stop-color="#a60000"/><stop offset="0.9186" stop-color="#9e0000"/><stop offset="0.9302" stop-color="#8b0000"/><stop offset="0.9419" stop-color="#790000"/><stop offset="0.9535" stop-color="#660000"/><stop offset="0.9651" stop-color="#4f0000"/><stop offset="0.9767" stop-color="#330000"/><stop offset="1.0000" stop-color="#330000"/></linearGradient>
<linearGradient id="g49"><stop offset="0.0000" stop-color="#0b0000"/><stop offset="0.2442" stop-color="#0b0000"/><stop offset="0.2558" stop-color="#1a0000"/><stop offset="0.2674" stop-color="#2a0000"/><stop offset="0.2791" stop-color="#390000"/><stop offset="0.2907" stop-color="#450000"/><stop offset="0.3023" stop-color="#500000"/><stop offset="0.3140" stop-color="#5b0000"/><stop offset="0.3256" stop-color="#5c0000"/><stop offset="0.3372" stop-color="#5c0000"/><stop offset="0.3488" stop-color="#5d0000"/><stop offset="0.3605" stop-color="#5d0000"/><stop offset="0.3721" stop-color="#5e0000"/><stop offset="0.3837" stop-color="#5e0000"/><stop offset="0.3953" stop-color="#5f0000"/><stop offset="0.4070" stop-color="#5f0000"/><stop offset="0.4186" stop-color="#600000"/><stop offset="0.4302" stop-color="#610000"/><stop offset="0.4419" stop-color="#610000"/><stop offset="0.4535" stop-color="#620000"/><stop offset="0.4651" stop-color="#640000"/><stop offset="0.4767" stop-color="#660000"/><stop offset="0.4884" stop-color="#680000"/><stop offset="0.5000" stop-color="#5e0000"/><stop offset="0.5116" stop-color="#530000"/><stop offset="0.5233" stop-color="#480000"/><stop offset="0.5349" stop-color="#3e0000"/><stop offset="0.5465" stop-color="#390000"/><stop offset="0.5581" stop-color="#370000"/><stop offset="0.5698" stop-color="#360000"/><stop offset="0.5814" stop-color="#340000"/><stop offset="0.5930" stop-color="#310000"/><stop offset="0.6047" stop-color="#2a0000"/><stop offset="0.6163" stop-color="#220000"/><stop offset="0.6279" stop-color="#1a0000"/><stop offset="0.6395" stop-color="#130000"/><stop offset="0.6512" stop-color="#110000"/><stop offset="0.8721" stop-color="#110000"/><stop offset="0.8837" stop-color="#160000"/><stop offset="0.8953" stop-color="#220000"/><stop offset="0.9070" stop-color="#2e0000"/><stop offset="0.9186" stop-color="#390000"/><stop offset="0.9535" stop-color="#390000"/><stop offset="0.9651" stop-color="#290000"/><stop offset="0.9767" stop-color="#180000"/><stop offset="1.0000" stop-color="#180000"/></linearGradient>
<linearGradient id="g50"><stop offset="0.0000" stop-color="#0b0000"/><stop offset="0.3256" stop-color="#0b0000"/><stop offset="0.3372" stop-color="#180000"/><stop offset="0.3488" stop-color="#250000"/><stop offset="0.3605" stop-color="#320000"/><stop offset="0.3721" stop-color="#3d0000"/><stop offset="0.3837" stop-color="#440000"/><stop offset="0.3953" stop-color="#4c0000"/><stop offset="0.4070" stop-color="#530000"/><stop offset="0.4186" stop-color="#5b0000"/><stop offset="0.4302" stop-color="#610000"/><stop offset="0.4419" stop-color="#680000"/><stop offset="0.4535" stop-color="#6e0000"/><stop offset="0.4651" stop-color="#750000"/><stop offset="0.4767" stop-color="#7b0000"/><stop offset="0.4884" stop-color="#8a0000"/><stop offset="0.5000" stop-color="#8f0000"/><stop offset="0.5116" stop-color="#940000"/><stop offset="0.5233" stop-color="#9a0000"/><stop offset="0.5349" stop-color="#9f0000"/><stop offset="0.5465" stop-color="#a40000"/><stop offset="0.5581" stop-color="#aa0000"/><stop offset="0.5698" stop-color="#af0000"/><stop offset="0.5814" stop-color="#b40000"/><stop offset="0.5930" stop-color="#ba0000"/><stop offset="0.6047" stop-color="#c00000"/><stop offset="0.6163" stop-color="#c70000"/><stop offset="0.6279" stop-color="#cd0000"/><stop offset="0.6395" stop-color="#d40000"/><stop offset="0.6512" stop-color="#db0000"/><stop offset="0.6628" stop-color="#e10000"/><stop offset="0.6744" stop-color="#e80000"/><stop offset="0.6860" stop-color="#ee0000"/><stop offset="0.6977" stop-color="#f50000"/><stop offset="0.7093" stop-color="#fc0000"/><stop offset="0.7209" stop-color="#ff0300"/><stop offset="0.7326" stop-color="#ff0d00"/><stop offset="0.7442" stop-color="#ff1700"/><stop offset="0.7558" stop-color="#ff2100"/><stop offset="0.7674" stop-color="#ff2b00"/><stop offset="0.7791" stop-color="#ff3500"/><stop offset="0.7907" stop-color="#ff3f00"/><stop offset="0.8023" stop-color="#ff4800"/><stop offset="0.8140" stop-color="#ff5200"/><stop offset="0.8256" stop-color="#ff5b00"/><stop offset="0.8372" stop-color="#ff6500"/><stop offset="0.8488" stop-color="#ff6e00"/><stop offset="0.8605" stop-color="#ff7700"/><stop offset="0.8721" stop-color="#ff8000"/><stop offset="0.8837" stop-color="#ff8900"/><stop offset="0.8953" stop-color="#ff9200"/><stop offset="0.9070" stop-color="#ff9b00"/><stop offset="0.9186" stop-color="#ffa400"/><stop offset="0.9302" stop-color="#ffab00"/><stop offset="0.9419" stop-color="#ffb100"/><stop offset="0.9535" stop-color="#ffb800"/><stop offset="0.9651" stop-color="#ffbf00"/><stop offset="0.9767" stop-color="#ffc500"/><stop offset="0.9884" stop-color="#ffcf00"/><stop offset="1.0000" stop-color="#ffd900"/></linearGradient>
<linearGradient id="g51"><stop offset="0.0000" stop-color="#0b0000"/><stop offset="0.3721" stop-color="#0b0000"/><stop offset="0.3837" stop-color="#180000"/><stop offset="0.3953" stop-color="#250000"/><stop offset="0.4419" stop-color="#250000"/><stop offset="0.4535" stop-color="#210000"/><stop offset="0.4651" stop-color="#160000"/><stop offset="0.4767" stop-color="#0b0000"/><stop offset="0.7209" stop-color="#0b0000"/><stop offset="0.7326" stop-color="#180000"/><stop offset="0.7442" stop-color="#250000"/><stop offset="0.8953" stop-color="#250000"/><stop offset="0.9070" stop-color="#210000"/><stop offset="0.9186" stop-color="#190000"/><stop offset="0.9302" stop-color="#110000"/><stop offset="1.0000" stop-color="#110000"/></linearGradient>
<linearGradient id="g52"><stop offset="0.0000" stop-color="#0b0000"/><stop offset="0.4535" stop-color="#0b0000"/><stop offset="0.4651" stop-color="#170000"/><stop offset="0.4767" stop-color="#230000"/><stop offset="0.4884" stop-color="#390000"/><stop offset="0.5233" stop-color="#390000"/><stop offset="0.5349" stop-color="#360000"/><stop offset="0.5465" stop-color="#2e0000"/><stop offset="0.5581" stop-color="#250000"/><stop offset="0.6977" stop-color="#250000"/><stop offset="0.7093" stop-color="#1f0000"/><stop offset="0.7209" stop-color="#180000"/><stop offset="0.7326" stop-color="#110000"/><stop offset="0.8488" stop-color="#110000"/><stop offset="0.8605" stop-color="#210000"/><stop offset="0.8721" stop-color="#300000"/><stop offset="0.8837" stop-color="#390000"/><stop offset="0.9302" stop-color="#390000"/><stop offset="0.9419" stop-color="#360000"/><stop offset="0.9535" stop-color="#270000"/><stop offset="0.9651" stop-color="#180000"/><stop offset="1.0000" stop-color="#180000"/></linearGradient>
<linearGradient id="g53"><stop offset="0.0000" stop-color="#0b0000"/><stop offset="0.3372" stop-color="#0b0000"/><stop offset="0.3488" stop-color="#180000"/><stop offset="0.3605" stop-color="#250000"/><stop offset="0.4186" stop-color="#250000"/><stop offset="0.4302" stop-color="#1b0000"/><stop offset="0.4419" stop-color="#110000"/><stop offset="0.4535" stop-color="#160000"/><stop offset="0.4651" stop-color="#1b0000"/><stop offset="0.4767" stop-color="#200000"/><stop offset="0.4884" stop-color="#250000"/><stop offset="0.5814" stop-color="#250000"/><stop offset="0.5930" stop-color="#2f0000"/><stop offset="0.6047" stop-color="#390000"/><stop offset="0.7442" stop-color="#390000"/><stop offset="0.7558" stop-color="#330000"/><stop offset="0.7674" stop-color="#2c0000"/><stop offset="0.7791" stop-color="#250000"/><stop offset="0.8721" stop-color="#250000"/><stop offset="0.8837" stop-color="#360000"/><stop offset="0.8953" stop-color="#470000"/><stop offset="0.9070" stop-color="#4e0000"/><stop offset="1.0000" stop-color="#4e0000"/></linearGradient>
<linearGradient id="g54"><stop offset="0.0000" stop-color="#0b0000"/><stop offset="0.4651" stop-color="#0b0000"/><stop offset="0.4767" stop-color="#100000"/><stop offset="0.4884" stop-color="#150000"/><stop offset="0.5000" stop-color="#1a0000"/><stop offset="0.5116" stop-color="#1f0000"/><stop offset="0.5233" stop-color="#200000"/><stop offset="0.5349" stop-color="#200000"/><stop offset="0.5465" stop-color="#210000"/><stop offset="0.5581" stop-color="#220000"/><stop offset="0.5698" stop-color="#230000"/><stop offset="0.5814" stop-color="#240000"/><stop offset="0.5930" stop-color="#250000"/><stop offset="0.6047" stop-color="#250000"/><stop offset="0.6163" stop-color="#260000"/><stop offset="0.6279" stop-color="#270000"/><stop offset="0.6395" stop-color="#280000"/><stop offset="0.6512" stop-color="#290000"/><stop offset="0.6628" stop-color="#2a0000"/><stop offset="0.6744" stop-color="#2a0000"/><stop offset="0.6860" stop-color="#2b0000"/><stop offset="0.6977" stop-color="#2c0000"/><stop offset="0.7093" stop-color="#2f0000"/><stop offset="0.7209" stop-color="#330000"/><stop offset="0.7326" stop-color="#360000"/><stop offset="0.7442" stop-color="#390000"/><stop offset="0.7558" stop-color="#2c0000"/><stop offset="0.7674" stop-color="#1f0000"/><stop offset="0.7791" stop-color="#110000"/><stop offset="0.8256" stop-color="#110000"/><stop offset="0.8372" stop-color="#180000"/><stop offset="0.8488" stop-color="#1f0000"/><stop offset="0.8605" stop-color="#250000"/><stop offset="0.8721" stop-color="#2c0000"/><stop offset="0.8837" stop-color="#3a0000"/><stop offset="0.8953" stop-color="#480000"/><stop offset="0.9070" stop-color="#4e0000"/><stop offset="0.9302" stop-color="#4e0000"/><stop offset="0.9419" stop-color="#490000"/><stop offset="0.9535" stop-color="#330000"/><stop offset="0.9651" stop-color="#250000"/><stop offset="1.0000" stop-color="#250000"/></linearGradient>
<linearGradient id="g55"><stop offset="0.0000" stop-color="#0b0000"/><stop offset="0.1744" stop-color="#0b0000"/><stop offset="0.1860" stop-color="#180000"/><stop offset="0.1977" stop-color="#250000"/><stop offset="0.2326" stop-color="#250000"/><stop offset="0.2442" stop-color="#180000"/><stop offset="0.2558" stop-color="#0b0000"/><stop offset="0.3023" stop-color="#0b0000"/><stop offset="0.3140" stop-color="#220000"/><stop offset="0.3256" stop-color="#390000"/><stop offset="0.3721" stop-color="#390000"/><stop offset="0.3837" stop-color="#2c0000"/><stop offset="0.3953" stop-color="#1f0000"/><stop offset="0.4070" stop-color="#110000"/><stop offset="0.4186" stop-color="#160000"/><stop offset="0.4302" stop-color="#1b0000"/><stop offset="0.4419" stop-color="#200000"/><stop offset="0.4535" stop-color="#250000"/><stop offset="0.4651" stop-color="#2c0000"/><stop offset="0.4767" stop-color="#330000"/><stop offset="0.4884" stop-color="#390000"/><stop offset="0.5698" stop-color="#390000"/><stop offset="0.5814" stop-color="#4a0000"/><stop offset="0.5930" stop-color="#5b0000"/><stop offset="0.6977" stop-color="#5b0000"/><stop offset="0.7093" stop-color="#630000"/><stop offset="0.7209" stop-color="#6c0000"/><stop offset="0.7326" stop-color="#740000"/><stop offset="0.7442" stop-color="#7c0000"/><stop offset="0.8488" stop-color="#7c0000"/><stop offset="0.8605" stop-color="#6d0000"/><stop offset="0.8721" stop-color="#5d0000"/><stop offset="0.8837" stop-color="#4e0000"/><stop offset="0.9186" stop-color="#4e0000"/><stop offset="0.9302" stop-color="#560000"/><stop offset="0.9419" stop-color="#5f0000"/><stop offset="0.9535" stop-color="#680000"/><stop offset="1.0000" stop-color="#680000"/></linearGradient>
<linearGradient id="g56"><stop offset="0.0000" stop-color="#0b0000"/><stop offset="0.1047" stop-color="#0b0000"/><stop offset="0.1163" stop-color="#180000"/><stop offset="0.1279" stop-color="#250000"/><stop offset="0.1628" stop-color="#250000"/><stop offset="0.1744" stop-color="#1c0000"/><stop offset="0.1860" stop-color="#140000"/><stop offset="0.1977" stop-color="#0b0000"/><stop offset="0.2326" stop-color="#0b0000"/><stop offset="0.2442" stop-color="#220000"/><stop offset="0.2558" stop-color="#390000"/><stop offset="0.3953" stop-color="#390000"/><stop offset="0.4070" stop-color="#340000"/><stop offset="0.4186" stop-color="#2f0000"/><stop offset="0.4302" stop-color="#2a0000"/><stop offset="0.4419" stop-color="#250000"/><stop offset="0.4535" stop-color="#2a0000"/><stop offset="0.4651" stop-color="#2f0000"/><stop offset="0.4767" stop-color="#340000"/><stop offset="0.4884" stop-color="#390000"/><stop offset="0.5814" stop-color="#390000"/><stop offset="0.5930" stop-color="#330000"/><stop offset="0.6047" stop-color="#2c0000"/><stop offset="0.6163" stop-color="#250000"/><stop offset="0.8256" stop-color="#250000"/><stop offset="0.8372" stop-color="#340000"/><stop offset="0.8488" stop-color="#420000"/><stop offset="0.8605" stop-color="#510000"/><stop offset="0.8721" stop-color="#600000"/><stop offset="0.8837" stop-color="#680000"/><stop offset="0.9186" stop-color="#680000"/><stop offset="0.9302" stop-color="#590000"/><stop offset="0.9419" stop-color="#490000"/><stop offset="0.9535" stop-color="#390000"/><stop offset="1.0000" stop-color="#390000"/></linearGradient>
<linearGradient id="g57"><stop offset="0.0000" stop-color="#0b0000"/><stop offset="0.0930" stop-color="#0b0000"/><stop offset="0.1047" stop-color="#180000"/><stop offset="0.1163" stop-color="#250000"/><stop offset="0.1628" stop-color="#250000"/><stop offset="0.1744" stop-color="#1c0000"/><stop offset="0.1860" stop-color="#140000"/><stop offset="0.1977" stop-color="#0b0000"/><stop offset="0.2093" stop-color="#0c0000"/><stop offset="0.2209" stop-color="#0d0000"/><stop offset="0.2326" stop-color="#0f0000"/><stop offset="0.2442" stop-color="#100000"/><stop offset="0.2558" stop-color="#110000"/><stop offset="0.2674" stop-color="#250000"/><stop offset="0.2791" stop-color="#390000"/><stop offset="0.3372" stop-color="#390000"/><stop offset="0.3488" stop-color="#290000"/><stop offset="0.3605" stop-color="#180000"/><stop offset="0.3721" stop-color="#230000"/><stop offset="0.3837" stop-color="#2e0000"/><stop offset="0.3953" stop-color="#390000"/><stop offset="0.4070" stop-color="#3b0000"/><stop offset="0.4186" stop-color="#3c0000"/><stop offset="0.4302" stop-color="#3d0000"/><stop offset="0.4419" stop-color="#3e0000"/><stop offset="0.4535" stop-color="#3f0000"/><stop offset="0.4651" stop-color="#400000"/><stop offset="0.4767" stop-color="#580000"/><stop offset="0.4884" stop-color="#6f0000"/><stop offset="0.5000" stop-color="#740000"/><stop offset="0.5116" stop-color="#790000"/><stop offset="0.5233" stop-color="#7e0000"/><stop offset="0.5349" stop-color="#830000"/><stop offset="0.5465" stop-color="#8e0000"/><stop offset="0.5581" stop-color="#990000"/><stop offset="0.5698" stop-color="#a30000"/><stop offset="0.5814" stop-color="#ae0000"/><stop offset="0.5930" stop-color="#b90000"/><stop offset="0.6047" stop-color="#b90000"/><stop offset="0.6163" stop-color="#ba0000"/><stop offset="0.6279" stop-color="#bb0000"/><stop offset="0.6395" stop-color="#bc0000"/><stop offset="0.6512" stop-color="#bc0000"/><stop offset="0.6628" stop-color="#bd0000"/><stop offset="0.6744" stop-color="#be0000"/><stop offset="0.6860" stop-color="#bf0000"/><stop offset="0.6977" stop-color="#bf0000"/><stop offset="0.7093" stop-color="#c60000"/><stop offset="0.7209" stop-color="#cd0000"/><stop offset="0.7326" stop-color="#d30000"/><stop offset="0.7442" stop-color="#da0000"/><stop offset="0.8256" stop-color="#da0000"/><stop offset="0.8372" stop-color="#cd0000"/><stop offset="0.8488" stop-color="#c00000"/><stop offset="0.8605" stop-color="#b30000"/><stop offset="0.8721" stop-color="#a50000"/><stop offset="0.8837" stop-color="#940000"/><stop offset="0.8953" stop-color="#830000"/><stop offset="0.9070" stop-color="#7c0000"/><stop offset="0.9302" stop-color="#7c0000"/><stop offset="0.9419" stop-color="#890000"/><stop offset="0.9535" stop-color="#960000"/><stop offset="0.9651" stop-color="#9e0000"/><stop offset="1.0000" stop-color="#9e0000"/></linearGradient>
<linearGradient id="g58"><stop offset="0.0000" stop-color="#110000"/><stop offset="0.0116" stop-color="#1c0000"/><stop offset="0.0233" stop-color="#280000"/><stop offset="0.0349" stop-color="#330000"/><stop offset="0.0465" stop-color="#330000"/><stop offset="0.0581" stop-color="#340000"/><stop offset="0.0698" stop-color="#340000"/><stop offset="0.0814" stop-color="#350000"/><stop offset="0.0930" stop-color="#350000"/><stop offset="0.1047" stop-color="#360000"/><stop offset="0.1163" stop-color="#360000"/><stop offset="0.1279" stop-color="#370000"/><stop offset="0.1395" stop-color="#370000"/><stop offset="0.1512" stop-color="#380000"/><stop offset="0.1628" stop-color="#380000"/><stop offset="0.1744" stop-color="#390000"/><stop offset="0.1860" stop-color="#390000"/><stop offset="0.1977" stop-color="#4a0000"/><stop offset="0.2093" stop-color="#5b0000"/><stop offset="0.2907" stop-color="#5b0000"/><stop offset="0.3023" stop-color="#560000"/><stop offset="0.3140" stop-color="#520000"/><stop offset="0.3256" stop-color="#4e0000"/><stop offset="0.3953" stop-color="#4e0000"/><stop offset="0.4070" stop-color="#500000"/><stop offset="0.4186" stop-color="#530000"/><stop offset="0.4302" stop-color="#560000"/><stop offset="0.4419" stop-color="#580000"/><stop offset="0.4535" stop-color="#5b0000"/><stop offset="0.4651" stop-color="#5f0000"/><stop offset="0.4767" stop-color="#640000"/><stop offset="0.4884" stop-color="#680000"/><stop offset="0.5465" stop-color="#680000"/><stop offset="0.5581" stop-color="#5d0000"/><stop offset="0.5698" stop-color="#510000"/><stop offset="0.5814" stop-color="#450000"/><stop offset="0.5930" stop-color="#390000"/><stop offset="0.6047" stop-color="#310000"/><stop offset="0.6163" stop-color="#290000"/><stop offset="0.6279" stop-color="#200000"/><stop offset="0.6395" stop-color="#180000"/><stop offset="0.7442" stop-color="#180000"/><stop offset="0.7558" stop-color="#1f0000"/><stop offset="0.7674" stop-color="#250000"/><stop offset="0.7791" stop-color="#2c0000"/><stop offset="0.7907" stop-color="#330000"/><stop offset="0.8023" stop-color="#340000"/><stop offset="0.8140" stop-color="#350000"/><stop offset="0.8256" stop-color="#370000"/><stop offset="0.8372" stop-color="#380000"/><stop offset="0.8488" stop-color="#390000"/><stop offset="0.8605" stop-color="#490000"/><stop offset="0.8721" stop-color="#580000"/><stop offset="0.8837" stop-color="#670000"/><stop offset="0.8953" stop-color="#760000"/><stop offset="0.9070" stop-color="#750000"/><stop offset="0.9186" stop-color="#680000"/><stop offset="0.9302" stop-color="#5b0000"/><stop offset="0.9419" stop-color="#540000"/><stop offset="0.9535" stop-color="#4e0000"/><stop offset="1.0000" stop-color="#4e0000"/></linearGradient>
<linearGradient id="g59"><stop offset="0.0000" stop-color="#1f0000"/><stop offset="0.0116" stop-color="#2c0000"/><stop offset="0.0233" stop-color="#390000"/><stop offset="0.1163" stop-color="#390000"/><stop offset="0.1279" stop-color="#2c0000"/><stop offset="0.1395" stop-color="#1f0000"/><stop offset="0.1512" stop-color="#110000"/><stop offset="0.1860" stop-color="#110000"/><stop offset="0.1977" stop-color="#2c0000"/><stop offset="0.2093" stop-color="#470000"/><stop offset="0.2209" stop-color="#490000"/><stop offset="0.2326" stop-color="#4a0000"/><stop offset="0.2442" stop-color="#4c0000"/><stop offset="0.2558" stop-color="#4e0000"/><stop offset="0.2674" stop-color="#4f0000"/><stop offset="0.2791" stop-color="#510000"/><stop offset="0.2907" stop-color="#530000"/><stop offset="0.3023" stop-color="#540000"/><stop offset="0.3140" stop-color="#530000"/><stop offset="0.3256" stop-color="#530000"/><stop offset="0.3372" stop-color="#520000"/><stop offset="0.3488" stop-color="#510000"/><stop offset="0.3605" stop-color="#500000"/><stop offset="0.3721" stop-color="#4f0000"/><stop offset="0.3837" stop-color="#4e0000"/><stop offset="0.3953" stop-color="#4e0000"/><stop offset="0.4070" stop-color="#540000"/><stop offset="0.4186" stop-color="#5b0000"/><stop offset="0.4302" stop-color="#620000"/><stop offset="0.4419" stop-color="#680000"/><stop offset="0.4535" stop-color="#7c0000"/><stop offset="0.4651" stop-color="#900000"/><stop offset="0.4767" stop-color="#ab0000"/><stop offset="0.4884" stop-color="#c60000"/><stop offset="0.5000" stop-color="#d00000"/><stop offset="0.5116" stop-color="#da0000"/><stop offset="0.5233" stop-color="#e40000"/><stop offset="0.5349" stop-color="#ee0000"/><stop offset="0.5465" stop-color="#f50000"/><stop offset="0.5581" stop-color="#fc0000"/><stop offset="0.5698" stop-color="#ff0300"/><stop offset="0.5814" stop-color="#ff0a00"/><stop offset="0.5930" stop-color="#ff1100"/><stop offset="0.6047" stop-color="#ff1b00"/><stop offset="0.6163" stop-color="#ff2500"/><stop offset="0.6279" stop-color="#ff2f00"/><stop offset="0.6395" stop-color="#ff3900"/><stop offset="0.6512" stop-color="#ff4500"/><stop offset="0.6628" stop-color="#ff5000"/><stop offset="0.6744" stop-color="#ff5c00"/><stop offset="0.6860" stop-color="#ff6800"/><stop offset="0.6977" stop-color="#ff5d00"/><stop offset="0.7093" stop-color="#ff5100"/><stop offset="0.7209" stop-color="#ff4600"/><stop offset="0.7326" stop-color="#ff3b00"/><stop offset="0.7442" stop-color="#ff3000"/><stop offset="0.7558" stop-color="#ff2500"/><stop offset="0.7674" stop-color="#ff1e00"/><stop offset="0.7791" stop-color="#ff1700"/><stop offset="0.7907" stop-color="#ff1100"/><stop offset="0.8023" stop-color="#ff0a00"/><stop offset="0.8140" stop-color="#ff0300"/><stop offset="0.8256" stop-color="#fc0000"/><stop offset="0.8372" stop-color="#f50000"/><stop offset="0.8488" stop-color="#ee0000"/><stop offset="0.8605" stop-color="#dc0000"/><stop offset="0.8721" stop-color="#ca0000"/><stop offset="0.8837" stop-color="#b70000"/><stop offset="0.8953" stop-color="#a50000"/><stop offset="0.9070" stop-color="#a60000"/><stop offset="0.9186" stop-color="#b20000"/><stop offset="0.9302" stop-color="#bf0000"/><stop offset="0.9419" stop-color="#cd0000"/><stop offset="0.9535" stop-color="#da0000"/><stop offset="1.0000" stop-color="#da0000"/></linearGradient>
<linearGradient id="g60"><stop offset="0.0000" stop-color="#ffffff"/><stop offset="0.0116" stop-color="#fffff6"/><stop offset="0.0233" stop-color="#ffffec"/><stop offset="0.0349" stop-color="#ffffe3"/><stop offset="0.0465" stop-color="#ffffc7"/><stop offset="0.0581" stop-color="#ffffa7"/><stop offset="0.0698" stop-color="#ffff87"/><stop offset="0.0814" stop-color="#ffff6d"/><stop offset="0.0930" stop-color="#ffff54"/><stop offset="0.1047" stop-color="#ffff3b"/><stop offset="0.1163" stop-color="#ffff22"/><stop offset="0.1279" stop-color="#ffff18"/><stop offset="0.1395" stop-color="#ffff0e"/><stop offset="0.1512" stop-color="#ffff0c"/><stop offset="0.1628" stop-color="#ffff09"/><stop offset="0.1744" stop-color="#ffff07"/><stop offset="0.1860" stop-color="#ffff05"/><stop offset="0.1977" stop-color="#ffff02"/><stop offset="0.2093" stop-color="#ffff00"/><stop offset="0.2209" stop-color="#fffd00"/><stop offset="0.2326" stop-color="#fffc00"/><stop offset="0.2442" stop-color="#fff500"/><stop offset="0.2558" stop-color="#ffe500"/><stop offset="0.2674" stop-color="#ffd600"/><stop offset="0.2791" stop-color="#ffc700"/><stop offset="0.2907" stop-color="#ffb700"/><stop offset="0.3023" stop-color="#ffa800"/><stop offset="0.3140" stop-color="#ff9900"/><stop offset="0.3256" stop-color="#ff8e00"/><stop offset="0.3372" stop-color="#ff8900"/><stop offset="0.3488" stop-color="#ff8500"/><stop offset="0.3605" stop-color="#ff8000"/><stop offset="0.3721" stop-color="#ff7c00"/><stop offset="0.3837" stop-color="#ff7600"/><stop offset="0.3953" stop-color="#ff7000"/><stop offset="0.4070" stop-color="#ff6a00"/><stop offset="0.4186" stop-color="#ff5b00"/><stop offset="0.4302" stop-color="#ff4700"/><stop offset="0.4419" stop-color="#ff3200"/><stop offset="0.4535" stop-color="#ff2300"/><stop offset="0.4651" stop-color="#ff1300"/><stop offset="0.4767" stop-color="#ff0800"/><stop offset="0.4884" stop-color="#ff0300"/><stop offset="0.5000" stop-color="#fe0000"/><stop offset="0.5116" stop-color="#f90000"/><stop offset="0.5233" stop-color="#f40000"/><stop offset="0.5349" stop-color="#ef0000"/><stop offset="0.5465" stop-color="#ea0000"/><stop offset="0.5581" stop-color="#e10000"/><stop offset="0.5698" stop-color="#d10000"/><stop offset="0.5814" stop-color="#c20000"/><stop offset="0.5930" stop-color="#b20000"/><stop offset="0.6047" stop-color="#a10000"/><stop offset="0.6163" stop-color="#900000"/><stop offset="0.6279" stop-color="#800000"/><stop offset="0.6395" stop-color="#6f0000"/><stop offset="0.6512" stop-color="#650000"/><stop offset="0.6628" stop-color="#5f0000"/><stop offset="0.6744" stop-color="#590000"/><stop offset="0.6860" stop-color="#530000"/><stop offset="0.6977" stop-color="#4e0000"/><stop offset="0.7093" stop-color="#490000"/><stop offset="0.7209" stop-color="#440000"/><stop offset="0.7326" stop-color="#3e0000"/><stop offset="0.7442" stop-color="#390000"/><stop offset="0.7558" stop-color="#330000"/><stop offset="0.7674" stop-color="#2c0000"/><stop offset="0.7791" stop-color="#250000"/><stop offset="0.7907" stop-color="#1f0000"/><stop offset="0.8023" stop-color="#180000"/><stop offset="0.8140" stop-color="#110000"/><stop offset="0.8953" stop-color="#110000"/><stop offset="0.9070" stop-color="#150000"/><stop offset="0.9186" stop-color="#190000"/><stop offset="0.9302" stop-color="#1d0000"/><stop offset="0.9419" stop-color="#210000"/><stop offset="0.9535" stop-color="#250000"/><stop offset="1.0000" stop-color="#250000"/></linearGradient>
</defs>
<rect width="685" height="309" fill="#ffffff"/>
<rect x="21.80" y="164.20" width="29.30" height="5.8" rx="2.6" fill="#fff7a0" opacity="0.9"/>
<line x1="23.80" y1="167.10" x2="44.60" y2="167.10" stroke="#ff5a28" stroke-width="1.9"/>
<path d="M48.60 167.10 L43.20 164.60 L43.20 169.60 Z" fill="#ff5a28"/>
<rect x="21.00" y="267.90" width="30.10" height="5.8" rx="2.6" fill="#fff7a0" opacity="0.9"/>
<line x1="23.00" y1="270.80" x2="44.60" y2="270.80" stroke="#ff5a28" stroke-width="1.9"/>
<path d="M48.60 270.80 L43.20 268.30 L43.20 273.30 Z" fill="#ff5a28"/>
<path d="M57.00 19.20 L59.04 19.18 L61.08 19.11 L63.11 19.00 L65.15 18.85 L67.19 18.67 L69.22 18.45 L71.26 18.20 L73.30 17.94 L75.34 17.66 L77.38 17.37 L79.41 17.08 L81.45 16.80 L83.49 16.54 L85.53 16.29 L87.56 16.07 L89.60 15.87 L91.64 15.72 L93.67 15.60 L95.71 15.53 L97.75 15.50 L99.79 15.51 L101.83 15.57 L103.86 15.67 L105.90 15.81 L107.94 15.99 L109.97 16.20 L112.01 16.43 L114.05 16.68 L116.09 16.95 L118.12 17.23 L120.16 17.51 L122.20 17.78 L124.24 18.03 L126.28 18.27 L128.31 18.48 L130.35 18.66 L132.39 18.81 L134.43 18.91 L136.46 18.98 L138.50 19.00 L140.54 18.98 L142.57 18.91 L144.61 18.81 L146.65 18.66 L148.69 18.48 L150.72 18.27 L152.76 18.03 L154.80 17.78 L156.84 17.51 L158.88 17.23 L160.91 16.95 L162.95 16.68 L164.99 16.43 L167.03 16.20 L169.06 15.99 L171.10 15.81 L173.14 15.67 L175.18 15.57 L177.21 15.51 L179.25 15.50 L181.29 15.53 L183.32 15.60 L185.36 15.72 L187.40 15.87 L189.44 16.07 L191.47 16.29 L193.51 16.54 L195.55 16.80 L197.59 17.08 L199.62 17.37 L201.66 17.66 L203.70 17.94 L205.74 18.20 L207.78 18.45 L209.81 18.67 L211.85 18.85 L213.89 19.00 L215.93 19.11 L217.96 19.18 L220.00 19.20" fill="none" stroke="#1a1a1a" stroke-width="1.15"/>
<path d="M57.00 22.10 L59.04 22.09 L61.08 22.04 L63.11 21.98 L65.15 21.88 L67.19 21.77 L69.22 21.63 L71.26 21.47 L73.30 21.31 L75.34 21.13 L77.38 20.94 L79.41 20.76 L81.45 20.57 L83.49 20.39 L85.53 20.23 L87.56 20.07 L89.60 19.93 L91.64 19.82 L93.67 19.72 L95.71 19.65 L97.75 19.60 L99.79 19.58 L101.83 19.58 L103.86 19.61 L105.90 19.66 L107.94 19.73 L109.97 19.82 L112.01 19.92 L114.05 20.04 L116.09 20.17 L118.12 20.31 L120.16 20.44 L122.20 20.58 L124.24 20.71 L126.28 20.83 L128.31 20.93 L130.35 21.03 L132.39 21.10 L134.43 21.16 L136.46 21.19 L138.50 21.20 L140.54 21.19 L142.57 21.16 L144.61 21.10 L146.65 21.03 L148.69 20.93 L150.72 20.83 L152.76 20.71 L154.80 20.58 L156.84 20.44 L158.88 20.31 L160.91 20.17 L162.95 20.04 L164.99 19.92 L167.03 19.82 L169.06 19.73 L171.10 19.66 L173.14 19.61 L175.18 19.58 L177.21 19.58 L179.25 19.60 L181.29 19.65 L183.32 19.72 L185.36 19.82 L187.40 19.93 L189.44 20.07 L191.47 20.23 L193.51 20.39 L195.55 20.57 L197.59 20.76 L199.62 20.94 L201.66 21.13 L203.70 21.31 L205.74 21.47 L207.78 21.63 L209.81 21.77 L211.85 21.88 L213.89 21.98 L215.93 22.04 L217.96 22.09 L220.00 22.10" fill="none" stroke="#1a1a1a" stroke-width="1.15"/>
<path d="M57.00 26.30 L59.04 26.30 L61.08 26.31 L63.11 26.33 L65.15 26.35 L67.19 26.38 L69.22 26.41 L71.26 26.44 L73.30 26.47 L75.34 26.49 L77.38 26.52 L79.41 26.54 L81.45 26.55 L83.49 26.55 L85.53 26.54 L87.56 26.52 L89.60 26.49 L91.64 26.44 L93.67 26.37 L95.71 26.29 L97.75 26.20 L99.79 26.09 L101.83 25.97 L103.86 25.83 L105.90 25.68 L107.94 25.53 L109.97 25.36 L112.01 25.19 L114.05 25.02 L116.09 24.85 L118.12 24.68 L120.16 24.52 L122.20 24.36 L124.24 24.22 L126.28 24.09 L128.31 23.97 L130.35 23.88 L132.39 23.80 L134.43 23.75 L136.46 23.71 L138.50 23.70 L140.54 23.71 L142.57 23.75 L144.61 23.80 L146.65 23.88 L148.69 23.97 L150.72 24.09 L152.76 24.22 L154.80 24.36 L156.84 24.52 L158.88 24.68 L160.91 24.85 L162.95 25.02 L164.99 25.19 L167.03 25.36 L169.06 25.53 L171.10 25.68 L173.14 25.83 L175.18 25.97 L177.21 26.09 L179.25 26.20 L181.29 26.29 L183.32 26.37 L185.36 26.44 L187.40 26.49 L189.44 26.52 L191.47 26.54 L193.51 26.55 L195.55 26.55 L197.59 26.54 L199.62 26.52 L201.66 26.49 L203.70 26.47 L205.74 26.44 L207.78 26.41 L209.81 26.38 L211.85 26.35 L213.89 26.33 L215.93 26.31 L217.96 26.30 L220.00 26.30" fill="none" stroke="#1a1a1a" stroke-width="1.15"/>
<path d="M57.00 30.10 L57.72 30.21 L58.61 30.35 L59.65 30.52 L60.81 30.71 L62.09 30.92 L63.44 31.13 L64.85 31.35 L66.30 31.57 L67.76 31.78 L69.21 31.97 L70.63 32.15 L72.00 32.30 L73.35 32.44 L74.74 32.57 L76.16 32.70 L77.59 32.82 L79.04 32.93 L80.50 33.04 L81.96 33.13 L83.41 33.21 L84.84 33.28 L86.26 33.34 L87.65 33.38 L89.00 33.40 L90.32 33.40 L91.60 33.40 L92.87 33.37 L94.11 33.33 L95.34 33.28 L96.56 33.22 L97.78 33.14 L99.00 33.06 L100.23 32.96 L101.47 32.85 L102.72 32.73 L104.00 32.60 L105.32 32.45 L106.68 32.29 L108.07 32.10 L109.48 31.90 L110.90 31.68 L112.31 31.46 L113.71 31.24 L115.07 31.01 L116.40 30.80 L117.67 30.58 L118.87 30.38 L120.00 30.20 L121.05 30.03 L122.03 29.85 L122.96 29.68 L123.83 29.51 L124.67 29.35 L125.47 29.19 L126.24 29.04 L127.00 28.90 L127.75 28.76 L128.49 28.63 L129.24 28.51 L130.00 28.40 L130.76 28.30 L131.50 28.20 L132.23 28.11 L132.94 28.03 L133.65 27.96 L134.34 27.89 L135.03 27.84 L135.72 27.79 L136.41 27.75 L137.10 27.72 L137.80 27.71 L138.50 27.70 L139.20 27.71 L139.90 27.72 L140.59 27.75 L141.28 27.79 L141.97 27.84 L142.66 27.89 L143.35 27.96 L144.06 28.03 L144.77 28.11 L145.50 28.20 L146.24 28.30 L147.00 28.40 L147.76 28.51 L148.51 28.63 L149.25 28.76 L150.00 28.90 L150.76 29.04 L151.53 29.19 L152.33 29.35 L153.17 29.51 L154.04 29.68 L154.97 29.85 L155.95 30.03 L157.00 30.20 L158.13 30.38 L159.33 30.58 L160.60 30.80 L161.93 31.01 L163.29 31.24 L164.69 31.46 L166.10 31.68 L167.52 31.90 L168.93 32.10 L170.32 32.29 L171.68 32.45 L173.00 32.60 L174.28 32.73 L175.53 32.85 L176.77 32.96 L178.00 33.06 L179.22 33.14 L180.44 33.22 L181.66 33.28 L182.89 33.33 L184.13 33.37 L185.40 33.40 L186.68 33.40 L188.00 33.40 L189.35 33.38 L190.74 33.34 L192.16 33.28 L193.59 33.21 L195.04 33.13 L196.50 33.04 L197.96 32.93 L199.41 32.82 L200.84 32.70 L202.26 32.57 L203.65 32.44 L205.00 32.30 L206.37 32.15 L207.79 31.97 L209.24 31.78 L210.70 31.57 L212.15 31.35 L213.56 31.13 L214.91 30.92 L216.19 30.71 L217.35 30.52 L218.39 30.35 L219.28 30.21 L220.00 30.10" fill="none" stroke="#1a1a1a" stroke-width="1.15"/>
<path d="M57.00 79.90 L59.04 79.88 L61.08 79.82 L63.11 79.71 L65.15 79.57 L67.19 79.40 L69.22 79.20 L71.26 78.97 L73.30 78.73 L75.34 78.48 L77.38 78.22 L79.41 77.97 L81.45 77.74 L83.49 77.52 L85.53 77.33 L87.56 77.16 L89.60 77.04 L91.64 76.96 L93.67 76.93 L95.71 76.94 L97.75 77.00 L99.79 77.11 L101.83 77.27 L103.86 77.47 L105.90 77.72 L107.94 78.01 L109.97 78.32 L112.01 78.67 L114.05 79.03 L116.09 79.40 L118.12 79.78 L120.16 80.15 L122.20 80.51 L124.24 80.85 L126.28 81.16 L128.31 81.43 L130.35 81.66 L132.39 81.85 L134.43 81.99 L136.46 82.07 L138.50 82.10 L140.54 82.07 L142.57 81.99 L144.61 81.85 L146.65 81.66 L148.69 81.43 L150.72 81.16 L152.76 80.85 L154.80 80.51 L156.84 80.15 L158.88 79.78 L160.91 79.40 L162.95 79.03 L164.99 78.67 L167.03 78.32 L169.06 78.01 L171.10 77.72 L173.14 77.47 L175.18 77.27 L177.21 77.11 L179.25 77.00 L181.29 76.94 L183.32 76.93 L185.36 76.96 L187.40 77.04 L189.44 77.16 L191.47 77.33 L193.51 77.52 L195.55 77.74 L197.59 77.97 L199.62 78.22 L201.66 78.48 L203.70 78.73 L205.74 78.97 L207.78 79.20 L209.81 79.40 L211.85 79.57 L213.89 79.71 L215.93 79.82 L217.96 79.88 L220.00 79.90" fill="none" stroke="#1a1a1a" stroke-width="1.15"/>
<path d="M57.00 83.80 L59.04 83.79 L61.08 83.78 L63.11 83.76 L65.15 83.72 L67.19 83.68 L69.22 83.64 L71.26 83.58 L73.30 83.53 L75.34 83.48 L77.38 83.42 L79.41 83.38 L81.45 83.33 L83.49 83.30 L85.53 83.27 L87.56 83.26 L89.60 83.26 L91.64 83.27 L93.67 83.30 L95.71 83.34 L97.75 83.40 L99.79 83.47 L101.83 83.56 L103.86 83.67 L105.90 83.78 L107.94 83.91 L109.97 84.04 L112.01 84.19 L114.05 84.33 L116.09 84.48 L118.12 84.63 L120.16 84.77 L122.20 84.91 L124.24 85.03 L126.28 85.15 L128.31 85.25 L130.35 85.34 L132.39 85.41 L134.43 85.46 L136.46 85.49 L138.50 85.50 L140.54 85.49 L142.57 85.46 L144.61 85.41 L146.65 85.34 L148.69 85.25 L150.72 85.15 L152.76 85.03 L154.80 84.91 L156.84 84.77 L158.88 84.63 L160.91 84.48 L162.95 84.33 L164.99 84.19 L167.03 84.04 L169.06 83.91 L171.10 83.78 L173.14 83.67 L175.18 83.56 L177.21 83.47 L179.25 83.40 L181.29 83.34 L183.32 83.30 L185.36 83.27 L187.40 83.26 L189.44 83.26 L191.47 83.27 L193.51 83.30 L195.55 83.33 L197.59 83.38 L199.62 83.42 L201.66 83.48 L203.70 83.53 L205.74 83.58 L207.78 83.64 L209.81 83.68 L211.85 83.72 L213.89 83.76 L215.93 83.78 L217.96 83.79 L220.00 83.80" fill="none" stroke="#1a1a1a" stroke-width="1.15"/>
<path d="M57.00 88.10 L59.04 88.11 L61.08 88.14 L63.11 88.18 L65.15 88.25 L67.19 88.32 L69.22 88.42 L71.26 88.52 L73.30 88.63 L75.34 88.75 L77.38 88.87 L79.41 88.99 L81.45 89.11 L83.49 89.23 L85.53 89.33 L87.56 89.43 L89.60 89.52 L91.64 89.59 L93.67 89.64 L95.71 89.68 L97.75 89.70 L99.79 89.70 L101.83 89.69 L103.86 89.66 L105.90 89.61 L107.94 89.55 L109.97 89.47 L112.01 89.38 L114.05 89.29 L116.09 89.19 L118.12 89.08 L120.16 88.98 L122.20 88.87 L124.24 88.77 L126.28 88.68 L128.31 88.60 L130.35 88.53 L132.39 88.47 L134.43 88.43 L136.46 88.41 L138.50 88.40 L140.54 88.41 L142.57 88.43 L144.61 88.47 L146.65 88.53 L148.69 88.60 L150.72 88.68 L152.76 88.77 L154.80 88.87 L156.84 88.98 L158.88 89.08 L160.91 89.19 L162.95 89.29 L164.99 89.38 L167.03 89.47 L169.06 89.55 L171.10 89.61 L173.14 89.66 L175.18 89.69 L177.21 89.70 L179.25 89.70 L181.29 89.68 L183.32 89.64 L185.36 89.59 L187.40 89.52 L189.44 89.43 L191.47 89.33 L193.51 89.23 L195.55 89.11 L197.59 88.99 L199.62 88.87 L201.66 88.75 L203.70 88.63 L205.74 88.52 L207.78 88.42 L209.81 88.32 L211.85 88.25 L213.89 88.18 L215.93 88.14 L217.96 88.11 L220.00 88.10" fill="none" stroke="#1a1a1a" stroke-width="1.15"/>
<path d="M57.00 90.80 L59.04 90.82 L61.08 90.88 L63.11 90.99 L65.15 91.13 L67.19 91.31 L69.22 91.51 L71.26 91.74 L73.30 91.99 L75.34 92.26 L77.38 92.53 L79.41 92.80 L81.45 93.07 L83.49 93.32 L85.53 93.55 L87.56 93.76 L89.60 93.94 L91.64 94.09 L93.67 94.20 L95.71 94.27 L97.75 94.30 L99.79 94.29 L101.83 94.23 L103.86 94.14 L105.90 94.01 L107.94 93.84 L109.97 93.64 L112.01 93.42 L114.05 93.18 L116.09 92.93 L118.12 92.67 L120.16 92.41 L122.20 92.16 L124.24 91.91 L126.28 91.69 L128.31 91.49 L130.35 91.32 L132.39 91.18 L134.43 91.08 L136.46 91.02 L138.50 91.00 L140.54 91.02 L142.57 91.08 L144.61 91.18 L146.65 91.32 L148.69 91.49 L150.72 91.69 L152.76 91.91 L154.80 92.16 L156.84 92.41 L158.88 92.67 L160.91 92.93 L162.95 93.18 L164.99 93.42 L167.03 93.64 L169.06 93.84 L171.10 94.01 L173.14 94.14 L175.18 94.23 L177.21 94.29 L179.25 94.30 L181.29 94.27 L183.32 94.20 L185.36 94.09 L187.40 93.94 L189.44 93.76 L191.47 93.55 L193.51 93.32 L195.55 93.07 L197.59 92.80 L199.62 92.53 L201.66 92.26 L203.70 91.99 L205.74 91.74 L207.78 91.51 L209.81 91.31 L211.85 91.13 L213.89 90.99 L215.93 90.88 L217.96 90.82 L220.00 90.80" fill="none" stroke="#1a1a1a" stroke-width="1.15"/>
<path d="M57.00 55.20 L57.43 54.91 L57.96 54.55 L58.59 54.13 L59.29 53.65 L60.05 53.13 L60.86 52.59 L61.70 52.02 L62.57 51.45 L63.45 50.88 L64.32 50.32 L65.18 49.79 L66.00 49.30 L66.78 48.84 L67.52 48.38 L68.23 47.94 L68.94 47.50 L69.66 47.06 L70.40 46.62 L71.18 46.19 L72.03 45.75 L72.94 45.30 L73.95 44.85 L75.06 44.38 L76.30 43.90 L77.68 43.40 L79.18 42.88 L80.80 42.35 L82.51 41.81 L84.29 41.26 L86.13 40.71 L88.01 40.16 L89.90 39.61 L91.80 39.08 L93.68 38.57 L95.52 38.07 L97.30 37.60 L99.05 37.15 L100.81 36.70 L102.57 36.26 L104.33 35.84 L106.09 35.42 L107.85 35.02 L109.61 34.63 L111.36 34.25 L113.11 33.89 L114.85 33.54 L116.58 33.21 L118.30 32.90 L120.01 32.59 L121.71 32.28 L123.41 31.98 L125.09 31.69 L126.77 31.40 L128.45 31.14 L130.12 30.91 L131.80 30.70 L133.47 30.54 L135.14 30.41 L136.82 30.33 L138.50 30.30 L140.18 30.33 L141.86 30.41 L143.53 30.54 L145.20 30.70 L146.88 30.91 L148.55 31.14 L150.23 31.40 L151.91 31.69 L153.59 31.98 L155.29 32.28 L156.99 32.59 L158.70 32.90 L160.42 33.21 L162.15 33.54 L163.89 33.89 L165.64 34.25 L167.39 34.63 L169.15 35.02 L170.91 35.42 L172.67 35.84 L174.43 36.26 L176.19 36.70 L177.95 37.15 L179.70 37.60 L181.48 38.07 L183.32 38.57 L185.20 39.08 L187.10 39.61 L188.99 40.16 L190.87 40.71 L192.71 41.26 L194.49 41.81 L196.20 42.35 L197.82 42.88 L199.32 43.40 L200.70 43.90 L201.94 44.38 L203.05 44.85 L204.06 45.30 L204.97 45.75 L205.82 46.19 L206.60 46.62 L207.34 47.06 L208.06 47.50 L208.77 47.94 L209.48 48.38 L210.22 48.84 L211.00 49.30 L211.82 49.79 L212.68 50.32 L213.55 50.88 L214.43 51.45 L215.30 52.02 L216.14 52.59 L216.95 53.13 L217.71 53.65 L218.41 54.13 L219.04 54.55 L219.57 54.91 L220.00 55.20" fill="none" stroke="#0000ff" stroke-width="2" stroke-dasharray="2.9 3.4"/>
<path d="M57.00 55.20 L57.40 55.46 L57.90 55.80 L58.49 56.19 L59.16 56.63 L59.88 57.11 L60.64 57.62 L61.42 58.14 L62.21 58.66 L62.99 59.16 L63.74 59.65 L64.45 60.10 L65.10 60.50 L65.70 60.87 L66.29 61.22 L66.86 61.55 L67.41 61.87 L67.96 62.19 L68.49 62.49 L69.03 62.78 L69.56 63.07 L70.09 63.35 L70.62 63.64 L71.15 63.92 L71.70 64.20 L72.25 64.48 L72.80 64.76 L73.35 65.04 L73.90 65.31 L74.45 65.58 L75.00 65.85 L75.55 66.11 L76.10 66.36 L76.65 66.61 L77.20 66.85 L77.75 67.08 L78.30 67.30 L78.85 67.51 L79.40 67.72 L79.95 67.91 L80.50 68.10 L81.06 68.28 L81.61 68.46 L82.16 68.63 L82.71 68.79 L83.26 68.95 L83.81 69.10 L84.35 69.25 L84.90 69.40 L85.44 69.54 L85.99 69.68 L86.53 69.81 L87.07 69.93 L87.61 70.05 L88.15 70.16 L88.69 70.27 L89.23 70.38 L89.77 70.49 L90.31 70.59 L90.86 70.70 L91.40 70.80 L91.95 70.90 L92.49 71.00 L93.04 71.09 L93.59 71.18 L94.14 71.26 L94.69 71.35 L95.24 71.44 L95.80 71.52 L96.35 71.61 L96.90 71.70 L97.45 71.80 L98.00 71.90 L98.55 72.01 L99.10 72.12 L99.65 72.23 L100.20 72.34 L100.76 72.46 L101.31 72.58 L101.86 72.70 L102.41 72.82 L102.96 72.94 L103.51 73.06 L104.05 73.18 L104.60 73.30 L105.14 73.42 L105.69 73.53 L106.23 73.65 L106.77 73.77 L107.31 73.89 L107.85 74.01 L108.39 74.12 L108.93 74.24 L109.47 74.36 L110.01 74.47 L110.56 74.59 L111.10 74.70 L111.65 74.81 L112.19 74.92 L112.74 75.03 L113.29 75.14 L113.84 75.25 L114.39 75.36 L114.94 75.47 L115.50 75.58 L116.05 75.68 L116.60 75.79 L117.15 75.90 L117.70 76.00 L118.25 76.10 L118.80 76.21 L119.35 76.31 L119.90 76.42 L120.46 76.52 L121.01 76.62 L121.56 76.73 L122.11 76.83 L122.66 76.92 L123.21 77.02 L123.75 77.11 L124.30 77.20 L124.84 77.29 L125.38 77.37 L125.90 77.45 L126.43 77.53 L126.95 77.61 L127.48 77.69 L128.01 77.76 L128.55 77.83 L129.09 77.90 L129.65 77.97 L130.22 78.04 L130.80 78.10 L131.40 78.16 L132.01 78.23 L132.64 78.30 L133.28 78.37 L133.92 78.43 L134.58 78.49 L135.23 78.55 L135.89 78.60 L136.55 78.64 L137.20 78.67 L137.85 78.69 L138.50 78.70 L139.15 78.69 L139.80 78.67 L140.45 78.64 L141.11 78.60 L141.77 78.55 L142.43 78.49 L143.08 78.43 L143.72 78.37 L144.36 78.30 L144.99 78.23 L145.60 78.16 L146.20 78.10 L146.78 78.04 L147.35 77.97 L147.91 77.90 L148.45 77.83 L148.99 77.76 L149.52 77.69 L150.05 77.61 L150.57 77.53 L151.10 77.45 L151.62 77.37 L152.16 77.29 L152.70 77.20 L153.25 77.11 L153.79 77.02 L154.34 76.92 L154.89 76.83 L155.44 76.73 L155.99 76.63 L156.54 76.52 L157.10 76.42 L157.65 76.31 L158.20 76.21 L158.75 76.10 L159.30 76.00 L159.85 75.90 L160.40 75.79 L160.95 75.68 L161.50 75.58 L162.06 75.47 L162.61 75.36 L163.16 75.25 L163.71 75.14 L164.26 75.03 L164.81 74.92 L165.35 74.81 L165.90 74.70 L166.44 74.59 L166.99 74.47 L167.53 74.36 L168.07 74.24 L168.61 74.12 L169.15 74.01 L169.69 73.89 L170.23 73.77 L170.77 73.65 L171.31 73.53 L171.86 73.42 L172.40 73.30 L172.95 73.18 L173.49 73.06 L174.04 72.94 L174.59 72.82 L175.14 72.70 L175.69 72.58 L176.24 72.46 L176.80 72.34 L177.35 72.23 L177.90 72.12 L178.45 72.01 L179.00 71.90 L179.55 71.80 L180.10 71.70 L180.65 71.61 L181.20 71.52 L181.76 71.44 L182.31 71.35 L182.86 71.26 L183.41 71.18 L183.96 71.09 L184.51 71.00 L185.05 70.90 L185.60 70.80 L186.14 70.70 L186.69 70.59 L187.23 70.49 L187.77 70.38 L188.31 70.27 L188.85 70.16 L189.39 70.05 L189.93 69.93 L190.47 69.81 L191.01 69.68 L191.56 69.54 L192.10 69.40 L192.65 69.25 L193.19 69.10 L193.74 68.95 L194.29 68.79 L194.84 68.63 L195.39 68.46 L195.94 68.28 L196.50 68.10 L197.05 67.91 L197.60 67.72 L198.15 67.51 L198.70 67.30 L199.25 67.08 L199.80 66.85 L200.35 66.61 L200.90 66.36 L201.45 66.11 L202.00 65.85 L202.55 65.58 L203.10 65.31 L203.65 65.04 L204.20 64.76 L204.75 64.48 L205.30 64.20 L205.85 63.92 L206.38 63.64 L206.91 63.35 L207.44 63.07 L207.97 62.78 L208.51 62.49 L209.04 62.19 L209.59 61.87 L210.14 61.55 L210.71 61.22 L211.30 60.87 L211.90 60.50 L212.55 60.10 L213.26 59.65 L214.01 59.16 L214.79 58.66 L215.58 58.14 L216.36 57.62 L217.12 57.11 L217.84 56.63 L218.51 56.19 L219.10 55.80 L219.60 55.46 L220.00 55.20" fill="none" stroke="#ff0000" stroke-width="1.9" stroke-linejoin="round"/>
<rect x="52.90" y="12.45" width="171.10" height="84.75" fill="none" stroke="#464646" stroke-width="1.25"/>
<line x1="57.00" y1="97.20" x2="57.00" y2="99.80" stroke="#464646" stroke-width="1"/>
<line x1="97.75" y1="97.20" x2="97.75" y2="99.80" stroke="#464646" stroke-width="1"/>
<line x1="138.50" y1="97.20" x2="138.50" y2="99.80" stroke="#464646" stroke-width="1"/>
<line x1="179.25" y1="97.20" x2="179.25" y2="99.80" stroke="#464646" stroke-width="1"/>
<line x1="220.00" y1="97.20" x2="220.00" y2="99.80" stroke="#464646" stroke-width="1"/>
<line x1="50.30" y1="17.00" x2="52.90" y2="17.00" stroke="#464646" stroke-width="1"/>
<line x1="50.30" y1="55.00" x2="52.90" y2="55.00" stroke="#464646" stroke-width="1"/>
<line x1="50.30" y1="93.00" x2="52.90" y2="93.00" stroke="#464646" stroke-width="1"/>
<text transform="translate(57.00 113.20) scale(1.000 1)" font-size="14" text-anchor="middle">0</text>
<text transform="translate(97.75 113.20) scale(1.000 1)" font-size="14" text-anchor="middle">π/2</text>
<text transform="translate(138.50 113.20) scale(1.000 1)" font-size="14" text-anchor="middle">π</text>
<text transform="translate(179.25 113.20) scale(1.000 1)" font-size="14" text-anchor="middle">3π/2</text>
<text transform="translate(220.00 113.20) scale(1.000 1)" font-size="14" text-anchor="middle">2π</text>
<text transform="translate(48.30 21.80) scale(0.965 1)" font-size="14.3" text-anchor="end">0.54</text>
<text transform="translate(48.30 59.80) scale(0.965 1)" font-size="14.3" text-anchor="end">0.47</text>
<text transform="translate(48.30 97.80) scale(0.965 1)" font-size="14.3" text-anchor="end">0.40</text>
<text transform="translate(139.80 128.00) scale(1.000 1)" font-size="15" text-anchor="middle" font-style="italic" stroke="#111" stroke-width="0.25">ϕ</text>
<text transform="translate(16.80 54.9) rotate(-90) scale(1 0.9)" font-size="15.65" text-anchor="middle">Eigenvalue</text>
<path d="M284.00 21.80 L286.04 21.78 L288.07 21.72 L290.11 21.62 L292.15 21.49 L294.19 21.32 L296.23 21.13 L298.26 20.91 L300.30 20.68 L302.34 20.43 L304.38 20.17 L306.41 19.91 L308.45 19.66 L310.49 19.43 L312.52 19.20 L314.56 19.01 L316.60 18.84 L318.64 18.70 L320.68 18.59 L322.71 18.53 L324.75 18.50 L326.79 18.51 L328.82 18.56 L330.86 18.65 L332.90 18.77 L334.94 18.93 L336.98 19.11 L339.01 19.32 L341.05 19.55 L343.09 19.78 L345.12 20.03 L347.16 20.27 L349.20 20.51 L351.24 20.74 L353.27 20.95 L355.31 21.14 L357.35 21.30 L359.39 21.43 L361.43 21.52 L363.46 21.58 L365.50 21.60 L367.54 21.58 L369.57 21.52 L371.61 21.43 L373.65 21.30 L375.69 21.14 L377.73 20.95 L379.76 20.74 L381.80 20.51 L383.84 20.27 L385.88 20.03 L387.91 19.78 L389.95 19.55 L391.99 19.32 L394.02 19.11 L396.06 18.93 L398.10 18.77 L400.14 18.65 L402.18 18.56 L404.21 18.51 L406.25 18.50 L408.29 18.53 L410.32 18.59 L412.36 18.70 L414.40 18.84 L416.44 19.01 L418.48 19.20 L420.51 19.43 L422.55 19.66 L424.59 19.91 L426.62 20.17 L428.66 20.43 L430.70 20.68 L432.74 20.91 L434.77 21.13 L436.81 21.32 L438.85 21.49 L440.89 21.62 L442.93 21.72 L444.96 21.78 L447.00 21.80" fill="none" stroke="#1a1a1a" stroke-width="1.15"/>
<path d="M284.00 27.50 L286.04 27.49 L288.07 27.44 L290.11 27.37 L292.15 27.27 L294.19 27.14 L296.23 27.00 L298.26 26.83 L300.30 26.65 L302.34 26.46 L304.38 26.26 L306.41 26.06 L308.45 25.87 L310.49 25.67 L312.52 25.49 L314.56 25.33 L316.60 25.18 L318.64 25.05 L320.68 24.94 L322.71 24.86 L324.75 24.80 L326.79 24.77 L328.82 24.77 L330.86 24.79 L332.90 24.84 L334.94 24.90 L336.98 24.99 L339.01 25.10 L341.05 25.22 L343.09 25.35 L345.12 25.49 L347.16 25.62 L349.20 25.76 L351.24 25.89 L353.27 26.02 L355.31 26.13 L357.35 26.22 L359.39 26.30 L361.43 26.35 L363.46 26.39 L365.50 26.40 L367.54 26.39 L369.57 26.35 L371.61 26.30 L373.65 26.22 L375.69 26.13 L377.73 26.02 L379.76 25.89 L381.80 25.76 L383.84 25.62 L385.88 25.49 L387.91 25.35 L389.95 25.22 L391.99 25.10 L394.02 24.99 L396.06 24.90 L398.10 24.84 L400.14 24.79 L402.18 24.77 L404.21 24.77 L406.25 24.80 L408.29 24.86 L410.32 24.94 L412.36 25.05 L414.40 25.18 L416.44 25.33 L418.48 25.49 L420.51 25.67 L422.55 25.87 L424.59 26.06 L426.62 26.26 L428.66 26.46 L430.70 26.65 L432.74 26.83 L434.77 27.00 L436.81 27.14 L438.85 27.27 L440.89 27.37 L442.93 27.44 L444.96 27.49 L447.00 27.50" fill="none" stroke="#1a1a1a" stroke-width="1.15"/>
<path d="M284.00 35.90 L286.04 35.90 L288.07 35.88 L290.11 35.86 L292.15 35.82 L294.19 35.78 L296.23 35.73 L298.26 35.66 L300.30 35.59 L302.34 35.52 L304.38 35.43 L306.41 35.34 L308.45 35.24 L310.49 35.14 L312.52 35.03 L314.56 34.91 L316.60 34.79 L318.64 34.67 L320.68 34.55 L322.71 34.43 L324.75 34.30 L326.79 34.17 L328.82 34.05 L330.86 33.93 L332.90 33.81 L334.94 33.69 L336.98 33.57 L339.01 33.46 L341.05 33.36 L343.09 33.26 L345.12 33.17 L347.16 33.08 L349.20 33.01 L351.24 32.94 L353.27 32.87 L355.31 32.82 L357.35 32.78 L359.39 32.74 L361.43 32.72 L363.46 32.70 L365.50 32.70 L367.54 32.70 L369.57 32.72 L371.61 32.74 L373.65 32.78 L375.69 32.82 L377.73 32.87 L379.76 32.94 L381.80 33.01 L383.84 33.08 L385.88 33.17 L387.91 33.26 L389.95 33.36 L391.99 33.46 L394.02 33.57 L396.06 33.69 L398.10 33.81 L400.14 33.93 L402.18 34.05 L404.21 34.17 L406.25 34.30 L408.29 34.43 L410.32 34.55 L412.36 34.67 L414.40 34.79 L416.44 34.91 L418.48 35.03 L420.51 35.14 L422.55 35.24 L424.59 35.34 L426.62 35.43 L428.66 35.52 L430.70 35.59 L432.74 35.66 L434.77 35.73 L436.81 35.78 L438.85 35.82 L440.89 35.86 L442.93 35.88 L444.96 35.90 L447.00 35.90" fill="none" stroke="#1a1a1a" stroke-width="1.15"/>
<path d="M284.00 43.50 L284.63 43.56 L285.41 43.64 L286.34 43.73 L287.37 43.84 L288.50 43.95 L289.69 44.07 L290.93 44.19 L292.19 44.31 L293.45 44.42 L294.68 44.53 L295.88 44.62 L297.00 44.70 L298.08 44.77 L299.14 44.84 L300.20 44.92 L301.25 44.99 L302.30 45.05 L303.36 45.11 L304.42 45.15 L305.50 45.19 L306.59 45.22 L307.70 45.23 L308.84 45.22 L310.00 45.20 L311.18 45.16 L312.37 45.10 L313.56 45.03 L314.77 44.95 L315.99 44.85 L317.23 44.74 L318.50 44.62 L319.79 44.50 L321.11 44.36 L322.47 44.21 L323.86 44.06 L325.30 43.90 L326.82 43.72 L328.43 43.52 L330.12 43.31 L331.86 43.07 L333.64 42.83 L335.42 42.59 L337.19 42.34 L338.91 42.10 L340.58 41.88 L342.17 41.66 L343.65 41.47 L345.00 41.30 L346.23 41.15 L347.35 41.02 L348.40 40.90 L349.37 40.80 L350.28 40.70 L351.14 40.61 L351.96 40.53 L352.77 40.46 L353.56 40.39 L354.35 40.33 L355.16 40.26 L356.00 40.20 L356.84 40.14 L357.67 40.08 L358.48 40.03 L359.28 39.99 L360.06 39.94 L360.84 39.91 L361.62 39.87 L362.39 39.85 L363.16 39.83 L363.93 39.81 L364.71 39.80 L365.50 39.80 L366.29 39.80 L367.07 39.81 L367.84 39.83 L368.61 39.85 L369.38 39.87 L370.16 39.91 L370.94 39.94 L371.72 39.99 L372.52 40.03 L373.33 40.08 L374.16 40.14 L375.00 40.20 L375.84 40.26 L376.65 40.33 L377.44 40.39 L378.23 40.46 L379.04 40.53 L379.86 40.61 L380.72 40.70 L381.63 40.80 L382.60 40.90 L383.65 41.02 L384.77 41.15 L386.00 41.30 L387.35 41.47 L388.83 41.66 L390.42 41.87 L392.09 42.10 L393.81 42.34 L395.58 42.59 L397.36 42.83 L399.14 43.07 L400.88 43.31 L402.57 43.52 L404.18 43.72 L405.70 43.90 L407.14 44.06 L408.53 44.21 L409.89 44.36 L411.21 44.50 L412.50 44.62 L413.77 44.74 L415.01 44.85 L416.23 44.95 L417.44 45.03 L418.63 45.10 L419.82 45.16 L421.00 45.20 L422.16 45.22 L423.30 45.23 L424.41 45.22 L425.50 45.19 L426.58 45.15 L427.64 45.11 L428.70 45.05 L429.75 44.99 L430.80 44.92 L431.86 44.84 L432.92 44.77 L434.00 44.70 L435.12 44.62 L436.32 44.53 L437.55 44.42 L438.81 44.31 L440.07 44.19 L441.31 44.07 L442.50 43.95 L443.63 43.84 L444.66 43.73 L445.59 43.64 L446.37 43.56 L447.00 43.50" fill="none" stroke="#1a1a1a" stroke-width="1.15"/>
<path d="M284.00 90.40 L284.68 90.45 L285.36 90.51 L286.04 90.56 L286.72 90.62 L287.40 90.67 L288.07 90.73 L288.75 90.78 L289.43 90.84 L290.11 90.88 L290.79 90.88 L291.47 90.88 L292.15 90.88 L292.83 90.88 L293.51 90.88 L294.19 90.81 L294.87 90.66 L295.55 90.50 L296.23 90.35 L296.90 90.20 L297.58 90.04 L298.26 89.89 L298.94 89.74 L299.62 89.59 L300.30 89.44 L300.98 89.29 L301.66 89.15 L302.34 89.00 L303.02 88.86 L303.70 88.73 L304.38 88.59 L305.05 88.46 L305.73 88.33 L306.41 88.20 L307.09 88.08 L307.77 87.97 L308.45 87.85 L309.13 87.74 L309.81 87.64 L310.49 87.54 L311.17 87.44 L311.85 87.36 L312.52 87.27 L313.20 87.19 L313.88 87.12 L314.56 87.05 L315.24 86.99 L315.92 86.93 L316.60 86.88 L317.28 86.84 L317.96 86.80 L318.64 86.77 L319.32 86.74 L320.00 86.72 L320.68 86.71 L321.35 86.70 L322.03 86.70 L322.71 86.71 L323.39 86.72 L324.07 86.74 L324.75 86.76 L325.43 86.79 L326.11 86.83 L326.79 86.87 L327.47 86.92 L328.15 86.98 L328.82 87.04 L329.50 87.11 L330.18 87.18 L330.86 87.26 L331.54 87.34 L332.22 87.43 L332.90 87.52 L333.58 87.62 L334.26 87.73 L334.94 87.83 L335.62 87.95 L336.30 88.06 L336.98 88.18 L337.65 88.31 L338.33 88.44 L339.01 88.57 L339.69 88.70 L340.37 88.84 L341.05 88.98 L341.73 89.12 L342.41 89.27 L343.09 89.42 L343.77 89.56 L344.45 89.71 L345.12 89.87 L345.80 90.02 L346.48 90.17 L347.16 90.32 L347.84 90.48 L348.52 90.63 L349.20 90.78 L349.88 90.88 L350.56 90.88 L351.24 90.88 L351.92 90.88 L352.60 90.88 L353.27 90.88 L353.95 90.88 L354.63 90.88 L355.31 90.88 L355.99 90.86 L356.67 90.82 L357.35 90.79 L358.03 90.76 L358.71 90.73 L359.39 90.69 L360.07 90.66 L360.75 90.63 L361.43 90.60 L362.10 90.56 L362.78 90.53 L363.46 90.50 L364.14 90.47 L364.82 90.43 L365.50 90.40 L366.18 90.43 L366.86 90.47 L367.54 90.50 L368.22 90.53 L368.90 90.56 L369.57 90.60 L370.25 90.63 L370.93 90.66 L371.61 90.69 L372.29 90.73 L372.97 90.76 L373.65 90.79 L374.33 90.82 L375.01 90.86 L375.69 90.88 L376.37 90.88 L377.05 90.88 L377.73 90.88 L378.40 90.88 L379.08 90.88 L379.76 90.88 L380.44 90.88 L381.12 90.88 L381.80 90.78 L382.48 90.63 L383.16 90.48 L383.84 90.32 L384.52 90.17 L385.20 90.02 L385.88 89.87 L386.55 89.71 L387.23 89.56 L387.91 89.42 L388.59 89.27 L389.27 89.12 L389.95 88.98 L390.63 88.84 L391.31 88.70 L391.99 88.57 L392.67 88.44 L393.35 88.31 L394.02 88.18 L394.70 88.06 L395.38 87.95 L396.06 87.83 L396.74 87.73 L397.42 87.62 L398.10 87.52 L398.78 87.43 L399.46 87.34 L400.14 87.26 L400.82 87.18 L401.50 87.11 L402.18 87.04 L402.85 86.98 L403.53 86.92 L404.21 86.87 L404.89 86.83 L405.57 86.79 L406.25 86.76 L406.93 86.74 L407.61 86.72 L408.29 86.71 L408.97 86.70 L409.65 86.70 L410.32 86.71 L411.00 86.72 L411.68 86.74 L412.36 86.77 L413.04 86.80 L413.72 86.84 L414.40 86.88 L415.08 86.93 L415.76 86.99 L416.44 87.05 L417.12 87.12 L417.80 87.19 L418.48 87.27 L419.15 87.36 L419.83 87.44 L420.51 87.54 L421.19 87.64 L421.87 87.74 L422.55 87.85 L423.23 87.97 L423.91 88.08 L424.59 88.20 L425.27 88.33 L425.95 88.46 L426.62 88.59 L427.30 88.73 L427.98 88.86 L428.66 89.00 L429.34 89.15 L430.02 89.29 L430.70 89.44 L431.38 89.59 L432.06 89.74 L432.74 89.89 L433.42 90.04 L434.10 90.20 L434.77 90.35 L435.45 90.50 L436.13 90.66 L436.81 90.81 L437.49 90.88 L438.17 90.88 L438.85 90.88 L439.53 90.88 L440.21 90.88 L440.89 90.88 L441.57 90.84 L442.25 90.78 L442.93 90.73 L443.60 90.67 L444.28 90.62 L444.96 90.56 L445.64 90.51 L446.32 90.45 L447.00 90.40" fill="none" stroke="#1a1a1a" stroke-width="1.10"/>
<path d="M284.00 90.40 L284.68 90.43 L285.36 90.46 L286.04 90.48 L286.72 90.51 L287.40 90.54 L288.07 90.57 L288.75 90.60 L289.43 90.62 L290.11 90.65 L290.79 90.65 L291.47 90.65 L292.15 90.65 L292.83 90.65 L293.51 90.65 L294.19 90.65 L294.87 90.65 L295.55 90.65 L296.23 90.65 L296.90 90.65 L297.58 90.65 L298.26 90.65 L298.94 90.65 L299.62 90.65 L300.30 90.65 L300.98 90.56 L301.66 90.45 L302.34 90.35 L303.02 90.24 L303.70 90.14 L304.38 90.04 L305.05 89.94 L305.73 89.84 L306.41 89.74 L307.09 89.64 L307.77 89.55 L308.45 89.46 L309.13 89.37 L309.81 89.28 L310.49 89.20 L311.17 89.12 L311.85 89.05 L312.52 88.98 L313.20 88.91 L313.88 88.85 L314.56 88.79 L315.24 88.74 L315.92 88.69 L316.60 88.65 L317.28 88.61 L317.96 88.58 L318.64 88.55 L319.32 88.53 L320.00 88.51 L320.68 88.50 L321.35 88.50 L322.03 88.50 L322.71 88.51 L323.39 88.52 L324.07 88.54 L324.75 88.56 L325.43 88.59 L326.11 88.63 L326.79 88.67 L327.47 88.72 L328.15 88.77 L328.82 88.82 L329.50 88.88 L330.18 88.95 L330.86 89.02 L331.54 89.09 L332.22 89.17 L332.90 89.25 L333.58 89.33 L334.26 89.42 L334.94 89.51 L335.62 89.60 L336.30 89.70 L336.98 89.79 L337.65 89.89 L338.33 89.99 L339.01 90.10 L339.69 90.20 L340.37 90.30 L341.05 90.41 L341.73 90.51 L342.41 90.62 L343.09 90.65 L343.77 90.65 L344.45 90.65 L345.12 90.65 L345.80 90.65 L346.48 90.65 L347.16 90.65 L347.84 90.65 L348.52 90.65 L349.20 90.65 L349.88 90.65 L350.56 90.65 L351.24 90.65 L351.92 90.65 L352.60 90.65 L353.27 90.65 L353.95 90.65 L354.63 90.65 L355.31 90.65 L355.99 90.63 L356.67 90.62 L357.35 90.60 L358.03 90.58 L358.71 90.57 L359.39 90.55 L360.07 90.53 L360.75 90.52 L361.43 90.50 L362.10 90.48 L362.78 90.47 L363.46 90.45 L364.14 90.43 L364.82 90.42 L365.50 90.40 L366.18 90.42 L366.86 90.43 L367.54 90.45 L368.22 90.47 L368.90 90.48 L369.57 90.50 L370.25 90.52 L370.93 90.53 L371.61 90.55 L372.29 90.57 L372.97 90.58 L373.65 90.60 L374.33 90.62 L375.01 90.63 L375.69 90.65 L376.37 90.65 L377.05 90.65 L377.73 90.65 L378.40 90.65 L379.08 90.65 L379.76 90.65 L380.44 90.65 L381.12 90.65 L381.80 90.65 L382.48 90.65 L383.16 90.65 L383.84 90.65 L384.52 90.65 L385.20 90.65 L385.88 90.65 L386.55 90.65 L387.23 90.65 L387.91 90.65 L388.59 90.62 L389.27 90.51 L389.95 90.41 L390.63 90.30 L391.31 90.20 L391.99 90.10 L392.67 89.99 L393.35 89.89 L394.02 89.79 L394.70 89.70 L395.38 89.60 L396.06 89.51 L396.74 89.42 L397.42 89.33 L398.10 89.25 L398.78 89.17 L399.46 89.09 L400.14 89.02 L400.82 88.95 L401.50 88.88 L402.18 88.82 L402.85 88.77 L403.53 88.72 L404.21 88.67 L404.89 88.63 L405.57 88.59 L406.25 88.56 L406.93 88.54 L407.61 88.52 L408.29 88.51 L408.97 88.50 L409.65 88.50 L410.32 88.50 L411.00 88.51 L411.68 88.53 L412.36 88.55 L413.04 88.58 L413.72 88.61 L414.40 88.65 L415.08 88.69 L415.76 88.74 L416.44 88.79 L417.12 88.85 L417.80 88.91 L418.48 88.98 L419.15 89.05 L419.83 89.12 L420.51 89.20 L421.19 89.28 L421.87 89.37 L422.55 89.46 L423.23 89.55 L423.91 89.64 L424.59 89.74 L425.27 89.84 L425.95 89.94 L426.62 90.04 L427.30 90.14 L427.98 90.24 L428.66 90.35 L429.34 90.45 L430.02 90.56 L430.70 90.65 L431.38 90.65 L432.06 90.65 L432.74 90.65 L433.42 90.65 L434.10 90.65 L434.77 90.65 L435.45 90.65 L436.13 90.65 L436.81 90.65 L437.49 90.65 L438.17 90.65 L438.85 90.65 L439.53 90.65 L440.21 90.65 L440.89 90.65 L441.57 90.62 L442.25 90.60 L442.93 90.57 L443.60 90.54 L444.28 90.51 L444.96 90.48 L445.64 90.46 L446.32 90.43 L447.00 90.40" fill="none" stroke="#1a1a1a" stroke-width="1.10"/>
<path d="M284.00 90.50 L284.68 90.50 L285.36 90.50 L286.04 90.50 L286.72 90.50 L287.40 90.50 L288.07 90.50 L288.75 90.50 L289.43 90.50 L290.11 90.50 L290.79 90.50 L291.47 90.50 L292.15 90.50 L292.83 90.50 L293.51 90.50 L294.19 90.50 L294.87 90.50 L295.55 90.50 L296.23 90.50 L296.90 90.50 L297.58 90.50 L298.26 90.50 L298.94 90.50 L299.62 90.50 L300.30 90.50 L300.98 90.50 L301.66 90.50 L302.34 90.50 L303.02 90.50 L303.70 90.50 L304.38 90.50 L305.05 90.50 L305.73 90.50 L306.41 90.50 L307.09 90.50 L307.77 90.50 L308.45 90.50 L309.13 90.50 L309.81 90.50 L310.49 90.50 L311.17 90.50 L311.85 90.50 L312.52 90.50 L313.20 90.50 L313.88 90.50 L314.56 90.50 L315.24 90.50 L315.92 90.50 L316.60 90.50 L317.28 90.50 L317.96 90.50 L318.64 90.50 L319.32 90.50 L320.00 90.50 L320.68 90.50 L321.35 90.50 L322.03 90.50 L322.71 90.50 L323.39 90.50 L324.07 90.50 L324.75 90.50 L325.43 90.50 L326.11 90.50 L326.79 90.50 L327.47 90.50 L328.15 90.50 L328.82 90.50 L329.50 90.50 L330.18 90.50 L330.86 90.50 L331.54 90.50 L332.22 90.50 L332.90 90.50 L333.58 90.50 L334.26 90.50 L334.94 90.50 L335.62 90.50 L336.30 90.50 L336.98 90.50 L337.65 90.50 L338.33 90.50 L339.01 90.50 L339.69 90.50 L340.37 90.50 L341.05 90.50 L341.73 90.50 L342.41 90.50 L343.09 90.50 L343.77 90.50 L344.45 90.50 L345.12 90.50 L345.80 90.50 L346.48 90.50 L347.16 90.50 L347.84 90.50 L348.52 90.50 L349.20 90.50 L349.88 90.50 L350.56 90.50 L351.24 90.50 L351.92 90.50 L352.60 90.50 L353.27 90.50 L353.95 90.50 L354.63 90.50 L355.31 90.50 L355.99 90.50 L356.67 90.50 L357.35 90.50 L358.03 90.50 L358.71 90.50 L359.39 90.50 L360.07 90.50 L360.75 90.50 L361.43 90.50 L362.10 90.50 L362.78 90.50 L363.46 90.50 L364.14 90.50 L364.82 90.50 L365.50 90.50 L366.18 90.50 L366.86 90.50 L367.54 90.50 L368.22 90.50 L368.90 90.50 L369.57 90.50 L370.25 90.50 L370.93 90.50 L371.61 90.50 L372.29 90.50 L372.97 90.50 L373.65 90.50 L374.33 90.50 L375.01 90.50 L375.69 90.50 L376.37 90.50 L377.05 90.50 L377.73 90.50 L378.40 90.50 L379.08 90.50 L379.76 90.50 L380.44 90.50 L381.12 90.50 L381.80 90.50 L382.48 90.50 L383.16 90.50 L383.84 90.50 L384.52 90.50 L385.20 90.50 L385.88 90.50 L386.55 90.50 L387.23 90.50 L387.91 90.50 L388.59 90.50 L389.27 90.50 L389.95 90.50 L390.63 90.50 L391.31 90.50 L391.99 90.50 L392.67 90.50 L393.35 90.50 L394.02 90.50 L394.70 90.50 L395.38 90.50 L396.06 90.50 L396.74 90.50 L397.42 90.50 L398.10 90.50 L398.78 90.50 L399.46 90.50 L400.14 90.50 L400.82 90.50 L401.50 90.50 L402.18 90.50 L402.85 90.50 L403.53 90.50 L404.21 90.50 L404.89 90.50 L405.57 90.50 L406.25 90.50 L406.93 90.50 L407.61 90.50 L408.29 90.50 L408.97 90.50 L409.65 90.50 L410.32 90.50 L411.00 90.50 L411.68 90.50 L412.36 90.50 L413.04 90.50 L413.72 90.50 L414.40 90.50 L415.08 90.50 L415.76 90.50 L416.44 90.50 L417.12 90.50 L417.80 90.50 L418.48 90.50 L419.15 90.50 L419.83 90.50 L420.51 90.50 L421.19 90.50 L421.87 90.50 L422.55 90.50 L423.23 90.50 L423.91 90.50 L424.59 90.50 L425.27 90.50 L425.95 90.50 L426.62 90.50 L427.30 90.50 L427.98 90.50 L428.66 90.50 L429.34 90.50 L430.02 90.50 L430.70 90.50 L431.38 90.50 L432.06 90.50 L432.74 90.50 L433.42 90.50 L434.10 90.50 L434.77 90.50 L435.45 90.50 L436.13 90.50 L436.81 90.50 L437.49 90.50 L438.17 90.50 L438.85 90.50 L439.53 90.50 L440.21 90.50 L440.89 90.50 L441.57 90.50 L442.25 90.50 L442.93 90.50 L443.60 90.50 L444.28 90.50 L444.96 90.50 L445.64 90.50 L446.32 90.50 L447.00 90.50" fill="none" stroke="#1a1a1a" stroke-width="1.70"/>
<path d="M284.00 90.40 L284.68 90.38 L285.36 90.37 L286.04 90.35 L286.72 90.34 L287.40 90.32 L288.07 90.30 L288.75 90.29 L289.43 90.27 L290.11 90.26 L290.79 90.26 L291.47 90.26 L292.15 90.26 L292.83 90.26 L293.51 90.26 L294.19 90.26 L294.87 90.26 L295.55 90.26 L296.23 90.26 L296.90 90.26 L297.58 90.26 L298.26 90.26 L298.94 90.26 L299.62 90.26 L300.30 90.26 L300.98 90.31 L301.66 90.37 L302.34 90.43 L303.02 90.49 L303.70 90.54 L304.38 90.60 L305.05 90.66 L305.73 90.71 L306.41 90.76 L307.09 90.82 L307.77 90.87 L308.45 90.92 L309.13 90.97 L309.81 91.02 L310.49 91.07 L311.17 91.11 L311.85 91.15 L312.52 91.19 L313.20 91.23 L313.88 91.27 L314.56 91.30 L315.24 91.33 L315.92 91.36 L316.60 91.39 L317.28 91.41 L317.96 91.43 L318.64 91.45 L319.32 91.47 L320.00 91.48 L320.68 91.49 L321.35 91.50 L322.03 91.50 L322.71 91.50 L323.39 91.50 L324.07 91.49 L324.75 91.48 L325.43 91.47 L326.11 91.46 L326.79 91.44 L327.47 91.42 L328.15 91.40 L328.82 91.37 L329.50 91.35 L330.18 91.31 L330.86 91.28 L331.54 91.25 L332.22 91.21 L332.90 91.17 L333.58 91.13 L334.26 91.08 L334.94 91.04 L335.62 90.99 L336.30 90.94 L336.98 90.89 L337.65 90.84 L338.33 90.79 L339.01 90.73 L339.69 90.68 L340.37 90.62 L341.05 90.56 L341.73 90.51 L342.41 90.45 L343.09 90.39 L343.77 90.34 L344.45 90.28 L345.12 90.26 L345.80 90.26 L346.48 90.26 L347.16 90.26 L347.84 90.26 L348.52 90.26 L349.20 90.26 L349.88 90.26 L350.56 90.26 L351.24 90.26 L351.92 90.26 L352.60 90.26 L353.27 90.26 L353.95 90.26 L354.63 90.26 L355.31 90.26 L355.99 90.26 L356.67 90.27 L357.35 90.28 L358.03 90.29 L358.71 90.30 L359.39 90.31 L360.07 90.32 L360.75 90.33 L361.43 90.34 L362.10 90.35 L362.78 90.36 L363.46 90.37 L364.14 90.38 L364.82 90.39 L365.50 90.40 L366.18 90.39 L366.86 90.38 L367.54 90.37 L368.22 90.36 L368.90 90.35 L369.57 90.34 L370.25 90.33 L370.93 90.32 L371.61 90.31 L372.29 90.30 L372.97 90.29 L373.65 90.28 L374.33 90.27 L375.01 90.26 L375.69 90.26 L376.37 90.26 L377.05 90.26 L377.73 90.26 L378.40 90.26 L379.08 90.26 L379.76 90.26 L380.44 90.26 L381.12 90.26 L381.80 90.26 L382.48 90.26 L383.16 90.26 L383.84 90.26 L384.52 90.26 L385.20 90.26 L385.88 90.26 L386.55 90.28 L387.23 90.34 L387.91 90.39 L388.59 90.45 L389.27 90.51 L389.95 90.56 L390.63 90.62 L391.31 90.68 L391.99 90.73 L392.67 90.79 L393.35 90.84 L394.02 90.89 L394.70 90.94 L395.38 90.99 L396.06 91.04 L396.74 91.08 L397.42 91.13 L398.10 91.17 L398.78 91.21 L399.46 91.25 L400.14 91.28 L400.82 91.31 L401.50 91.35 L402.18 91.37 L402.85 91.40 L403.53 91.42 L404.21 91.44 L404.89 91.46 L405.57 91.47 L406.25 91.48 L406.93 91.49 L407.61 91.50 L408.29 91.50 L408.97 91.50 L409.65 91.50 L410.32 91.49 L411.00 91.48 L411.68 91.47 L412.36 91.45 L413.04 91.43 L413.72 91.41 L414.40 91.39 L415.08 91.36 L415.76 91.33 L416.44 91.30 L417.12 91.27 L417.80 91.23 L418.48 91.19 L419.15 91.15 L419.83 91.11 L420.51 91.07 L421.19 91.02 L421.87 90.97 L422.55 90.92 L423.23 90.87 L423.91 90.82 L424.59 90.76 L425.27 90.71 L425.95 90.66 L426.62 90.60 L427.30 90.54 L427.98 90.49 L428.66 90.43 L429.34 90.37 L430.02 90.31 L430.70 90.26 L431.38 90.26 L432.06 90.26 L432.74 90.26 L433.42 90.26 L434.10 90.26 L434.77 90.26 L435.45 90.26 L436.13 90.26 L436.81 90.26 L437.49 90.26 L438.17 90.26 L438.85 90.26 L439.53 90.26 L440.21 90.26 L440.89 90.26 L441.57 90.27 L442.25 90.29 L442.93 90.30 L443.60 90.32 L444.28 90.34 L444.96 90.35 L445.64 90.37 L446.32 90.38 L447.00 90.40" fill="none" stroke="#1a1a1a" stroke-width="1.10"/>
<path d="M284.00 90.40 L284.68 90.36 L285.36 90.33 L286.04 90.29 L286.72 90.25 L287.40 90.22 L288.07 90.18 L288.75 90.14 L289.43 90.11 L290.11 90.08 L290.79 90.08 L291.47 90.08 L292.15 90.08 L292.83 90.08 L293.51 90.08 L294.19 90.08 L294.87 90.08 L295.55 90.08 L296.23 90.11 L296.90 90.22 L297.58 90.33 L298.26 90.44 L298.94 90.55 L299.62 90.66 L300.30 90.77 L300.98 90.88 L301.66 90.99 L302.34 91.10 L303.02 91.21 L303.70 91.31 L304.38 91.41 L305.05 91.51 L305.73 91.61 L306.41 91.71 L307.09 91.80 L307.77 91.89 L308.45 91.98 L309.13 92.06 L309.81 92.15 L310.49 92.22 L311.17 92.30 L311.85 92.37 L312.52 92.43 L313.20 92.50 L313.88 92.56 L314.56 92.61 L315.24 92.66 L315.92 92.70 L316.60 92.75 L317.28 92.78 L317.96 92.81 L318.64 92.84 L319.32 92.86 L320.00 92.88 L320.68 92.89 L321.35 92.90 L322.03 92.90 L322.71 92.90 L323.39 92.89 L324.07 92.88 L324.75 92.86 L325.43 92.84 L326.11 92.81 L326.79 92.78 L327.47 92.74 L328.15 92.70 L328.82 92.65 L329.50 92.60 L330.18 92.55 L330.86 92.49 L331.54 92.43 L332.22 92.36 L332.90 92.29 L333.58 92.22 L334.26 92.14 L334.94 92.06 L335.62 91.97 L336.30 91.88 L336.98 91.79 L337.65 91.70 L338.33 91.60 L339.01 91.50 L339.69 91.40 L340.37 91.30 L341.05 91.20 L341.73 91.09 L342.41 90.98 L343.09 90.87 L343.77 90.76 L344.45 90.65 L345.12 90.54 L345.80 90.43 L346.48 90.32 L347.16 90.21 L347.84 90.10 L348.52 90.08 L349.20 90.08 L349.88 90.08 L350.56 90.08 L351.24 90.08 L351.92 90.08 L352.60 90.08 L353.27 90.08 L353.95 90.08 L354.63 90.08 L355.31 90.08 L355.99 90.09 L356.67 90.11 L357.35 90.14 L358.03 90.16 L358.71 90.18 L359.39 90.20 L360.07 90.22 L360.75 90.25 L361.43 90.27 L362.10 90.29 L362.78 90.31 L363.46 90.33 L364.14 90.36 L364.82 90.38 L365.50 90.40 L366.18 90.38 L366.86 90.36 L367.54 90.33 L368.22 90.31 L368.90 90.29 L369.57 90.27 L370.25 90.25 L370.93 90.22 L371.61 90.20 L372.29 90.18 L372.97 90.16 L373.65 90.14 L374.33 90.11 L375.01 90.09 L375.69 90.08 L376.37 90.08 L377.05 90.08 L377.73 90.08 L378.40 90.08 L379.08 90.08 L379.76 90.08 L380.44 90.08 L381.12 90.08 L381.80 90.08 L382.48 90.08 L383.16 90.10 L383.84 90.21 L384.52 90.32 L385.20 90.43 L385.88 90.54 L386.55 90.65 L387.23 90.76 L387.91 90.87 L388.59 90.98 L389.27 91.09 L389.95 91.20 L390.63 91.30 L391.31 91.40 L391.99 91.50 L392.67 91.60 L393.35 91.70 L394.02 91.79 L394.70 91.88 L395.38 91.97 L396.06 92.06 L396.74 92.14 L397.42 92.22 L398.10 92.29 L398.78 92.36 L399.46 92.43 L400.14 92.49 L400.82 92.55 L401.50 92.60 L402.18 92.65 L402.85 92.70 L403.53 92.74 L404.21 92.78 L404.89 92.81 L405.57 92.84 L406.25 92.86 L406.93 92.88 L407.61 92.89 L408.29 92.90 L408.97 92.90 L409.65 92.90 L410.32 92.89 L411.00 92.88 L411.68 92.86 L412.36 92.84 L413.04 92.81 L413.72 92.78 L414.40 92.75 L415.08 92.70 L415.76 92.66 L416.44 92.61 L417.12 92.56 L417.80 92.50 L418.48 92.43 L419.15 92.37 L419.83 92.30 L420.51 92.22 L421.19 92.15 L421.87 92.06 L422.55 91.98 L423.23 91.89 L423.91 91.80 L424.59 91.71 L425.27 91.61 L425.95 91.51 L426.62 91.41 L427.30 91.31 L427.98 91.21 L428.66 91.10 L429.34 90.99 L430.02 90.88 L430.70 90.77 L431.38 90.66 L432.06 90.55 L432.74 90.44 L433.42 90.33 L434.10 90.22 L434.77 90.11 L435.45 90.08 L436.13 90.08 L436.81 90.08 L437.49 90.08 L438.17 90.08 L438.85 90.08 L439.53 90.08 L440.21 90.08 L440.89 90.08 L441.57 90.11 L442.25 90.14 L442.93 90.18 L443.60 90.22 L444.28 90.25 L444.96 90.29 L445.64 90.33 L446.32 90.36 L447.00 90.40" fill="none" stroke="#1a1a1a" stroke-width="1.10"/>
<path d="M284.00 63.40 L284.43 63.16 L284.96 62.85 L285.57 62.49 L286.26 62.09 L287.00 61.65 L287.81 61.19 L288.65 60.71 L289.52 60.22 L290.41 59.74 L291.32 59.27 L292.21 58.82 L293.10 58.40 L293.99 57.99 L294.92 57.58 L295.88 57.16 L296.86 56.74 L297.86 56.32 L298.88 55.91 L299.91 55.51 L300.94 55.13 L301.97 54.76 L302.99 54.41 L304.00 54.09 L305.00 53.80 L305.98 53.54 L306.96 53.31 L307.92 53.10 L308.89 52.91 L309.85 52.74 L310.82 52.58 L311.79 52.44 L312.77 52.30 L313.75 52.18 L314.75 52.05 L315.77 51.93 L316.80 51.80 L317.85 51.68 L318.92 51.58 L320.01 51.50 L321.10 51.43 L322.21 51.36 L323.33 51.30 L324.44 51.23 L325.56 51.16 L326.68 51.07 L327.80 50.97 L328.90 50.85 L330.00 50.70 L331.09 50.52 L332.18 50.32 L333.26 50.10 L334.34 49.86 L335.42 49.61 L336.50 49.36 L337.58 49.10 L338.66 48.84 L339.74 48.58 L340.82 48.34 L341.91 48.11 L343.00 47.90 L344.11 47.70 L345.23 47.50 L346.38 47.31 L347.53 47.12 L348.68 46.94 L349.83 46.76 L350.97 46.59 L352.08 46.43 L353.17 46.28 L354.22 46.14 L355.24 46.02 L356.20 45.90 L357.11 45.80 L357.98 45.71 L358.80 45.62 L359.59 45.55 L360.35 45.49 L361.09 45.44 L361.82 45.39 L362.54 45.36 L363.27 45.33 L364.00 45.31 L364.74 45.30 L365.50 45.30 L366.26 45.30 L367.00 45.31 L367.73 45.33 L368.46 45.36 L369.18 45.39 L369.91 45.44 L370.65 45.49 L371.41 45.55 L372.20 45.62 L373.02 45.71 L373.89 45.80 L374.80 45.90 L375.76 46.02 L376.78 46.14 L377.83 46.28 L378.92 46.43 L380.03 46.59 L381.17 46.76 L382.32 46.94 L383.47 47.12 L384.62 47.31 L385.77 47.50 L386.89 47.70 L388.00 47.90 L389.09 48.11 L390.18 48.34 L391.26 48.58 L392.34 48.84 L393.42 49.10 L394.50 49.36 L395.58 49.61 L396.66 49.86 L397.74 50.10 L398.82 50.32 L399.91 50.52 L401.00 50.70 L402.10 50.85 L403.20 50.97 L404.32 51.07 L405.44 51.16 L406.56 51.23 L407.67 51.30 L408.79 51.36 L409.90 51.43 L410.99 51.50 L412.08 51.58 L413.15 51.68 L414.20 51.80 L415.23 51.93 L416.25 52.05 L417.25 52.18 L418.23 52.30 L419.21 52.44 L420.18 52.58 L421.15 52.74 L422.11 52.91 L423.08 53.10 L424.04 53.31 L425.02 53.54 L426.00 53.80 L427.00 54.09 L428.01 54.41 L429.03 54.76 L430.06 55.13 L431.09 55.51 L432.12 55.91 L433.14 56.32 L434.14 56.74 L435.12 57.16 L436.08 57.58 L437.01 57.99 L437.90 58.40 L438.79 58.82 L439.68 59.27 L440.59 59.74 L441.48 60.22 L442.35 60.71 L443.19 61.19 L444.00 61.65 L444.74 62.09 L445.43 62.49 L446.04 62.85 L446.57 63.16 L447.00 63.40" fill="none" stroke="#0000ff" stroke-width="2" stroke-dasharray="2.9 3.4"/>
<path d="M284.00 63.50 L284.45 63.80 L285.02 64.19 L285.69 64.65 L286.45 65.16 L287.27 65.72 L288.14 66.31 L289.02 66.91 L289.91 67.50 L290.79 68.09 L291.62 68.64 L292.40 69.15 L293.10 69.60 L293.74 70.00 L294.34 70.38 L294.93 70.74 L295.49 71.07 L296.03 71.40 L296.56 71.71 L297.08 72.01 L297.59 72.30 L298.11 72.60 L298.63 72.89 L299.16 73.19 L299.70 73.50 L300.25 73.81 L300.80 74.13 L301.35 74.44 L301.90 74.76 L302.45 75.07 L303.00 75.38 L303.55 75.69 L304.10 75.99 L304.65 76.28 L305.20 76.56 L305.75 76.84 L306.30 77.10 L306.85 77.35 L307.40 77.60 L307.95 77.83 L308.50 78.06 L309.06 78.27 L309.61 78.49 L310.16 78.70 L310.71 78.90 L311.26 79.10 L311.81 79.30 L312.35 79.50 L312.90 79.70 L313.44 79.90 L313.99 80.09 L314.53 80.29 L315.07 80.47 L315.61 80.66 L316.15 80.84 L316.69 81.02 L317.23 81.20 L317.77 81.38 L318.31 81.56 L318.86 81.73 L319.40 81.90 L319.95 82.07 L320.49 82.24 L321.04 82.41 L321.59 82.57 L322.14 82.73 L322.69 82.89 L323.24 83.05 L323.80 83.21 L324.35 83.36 L324.90 83.51 L325.45 83.66 L326.00 83.80 L326.55 83.94 L327.10 84.07 L327.65 84.20 L328.20 84.33 L328.76 84.45 L329.31 84.57 L329.86 84.69 L330.41 84.81 L330.96 84.93 L331.51 85.05 L332.05 85.17 L332.60 85.30 L333.14 85.43 L333.69 85.56 L334.23 85.69 L334.77 85.83 L335.31 85.96 L335.85 86.09 L336.39 86.23 L336.93 86.36 L337.47 86.50 L338.01 86.63 L338.56 86.77 L339.10 86.90 L339.65 87.03 L340.19 87.17 L340.74 87.31 L341.29 87.45 L341.84 87.59 L342.39 87.73 L342.94 87.87 L343.50 88.00 L344.05 88.14 L344.60 88.26 L345.15 88.38 L345.70 88.50 L346.25 88.61 L346.80 88.72 L347.35 88.82 L347.90 88.92 L348.46 89.02 L349.01 89.11 L349.56 89.20 L350.11 89.29 L350.66 89.37 L351.21 89.45 L351.75 89.53 L352.30 89.60 L352.84 89.67 L353.39 89.73 L353.93 89.80 L354.47 89.86 L355.01 89.91 L355.54 89.96 L356.08 90.01 L356.62 90.06 L357.16 90.10 L357.71 90.13 L358.25 90.17 L358.80 90.20 L359.35 90.23 L359.91 90.25 L360.46 90.26 L361.02 90.28 L361.58 90.29 L362.14 90.29 L362.70 90.30 L363.26 90.30 L363.82 90.30 L364.38 90.30 L364.94 90.30 L365.50 90.30 L366.06 90.30 L366.62 90.30 L367.18 90.30 L367.74 90.30 L368.30 90.30 L368.86 90.29 L369.42 90.29 L369.98 90.28 L370.54 90.26 L371.09 90.25 L371.65 90.23 L372.20 90.20 L372.75 90.17 L373.29 90.13 L373.84 90.10 L374.38 90.06 L374.92 90.01 L375.46 89.96 L375.99 89.91 L376.53 89.86 L377.07 89.80 L377.61 89.73 L378.16 89.67 L378.70 89.60 L379.25 89.53 L379.79 89.45 L380.34 89.37 L380.89 89.29 L381.44 89.20 L381.99 89.11 L382.54 89.02 L383.10 88.92 L383.65 88.82 L384.20 88.72 L384.75 88.61 L385.30 88.50 L385.85 88.38 L386.40 88.26 L386.95 88.14 L387.50 88.00 L388.06 87.87 L388.61 87.73 L389.16 87.59 L389.71 87.45 L390.26 87.31 L390.81 87.17 L391.35 87.03 L391.90 86.90 L392.44 86.77 L392.99 86.63 L393.53 86.50 L394.07 86.36 L394.61 86.23 L395.15 86.09 L395.69 85.96 L396.23 85.83 L396.77 85.69 L397.31 85.56 L397.86 85.43 L398.40 85.30 L398.95 85.17 L399.49 85.05 L400.04 84.93 L400.59 84.81 L401.14 84.69 L401.69 84.57 L402.24 84.45 L402.80 84.33 L403.35 84.20 L403.90 84.07 L404.45 83.94 L405.00 83.80 L405.55 83.66 L406.10 83.51 L406.65 83.36 L407.20 83.21 L407.76 83.05 L408.31 82.89 L408.86 82.73 L409.41 82.57 L409.96 82.41 L410.51 82.24 L411.05 82.07 L411.60 81.90 L412.14 81.73 L412.69 81.56 L413.23 81.38 L413.77 81.20 L414.31 81.02 L414.85 80.84 L415.39 80.66 L415.93 80.47 L416.47 80.29 L417.01 80.09 L417.56 79.90 L418.10 79.70 L418.65 79.50 L419.19 79.30 L419.74 79.10 L420.29 78.90 L420.84 78.70 L421.39 78.49 L421.94 78.27 L422.50 78.06 L423.05 77.83 L423.60 77.60 L424.15 77.35 L424.70 77.10 L425.25 76.84 L425.80 76.56 L426.35 76.28 L426.90 75.99 L427.45 75.69 L428.00 75.38 L428.55 75.07 L429.10 74.76 L429.65 74.44 L430.20 74.13 L430.75 73.81 L431.30 73.50 L431.84 73.19 L432.37 72.89 L432.89 72.60 L433.41 72.30 L433.92 72.01 L434.44 71.71 L434.97 71.40 L435.51 71.07 L436.07 70.74 L436.66 70.38 L437.26 70.00 L437.90 69.60 L438.60 69.15 L439.38 68.64 L440.21 68.09 L441.09 67.50 L441.98 66.91 L442.86 66.31 L443.73 65.72 L444.55 65.16 L445.31 64.65 L445.98 64.19 L446.55 63.80 L447.00 63.50" fill="none" stroke="#ff0000" stroke-width="1.9" stroke-linejoin="round"/>
<rect x="279.95" y="12.45" width="170.95" height="85.05" fill="none" stroke="#464646" stroke-width="1.25"/>
<line x1="284.00" y1="97.50" x2="284.00" y2="100.10" stroke="#464646" stroke-width="1"/>
<line x1="324.75" y1="97.50" x2="324.75" y2="100.10" stroke="#464646" stroke-width="1"/>
<line x1="365.50" y1="97.50" x2="365.50" y2="100.10" stroke="#464646" stroke-width="1"/>
<line x1="406.25" y1="97.50" x2="406.25" y2="100.10" stroke="#464646" stroke-width="1"/>
<line x1="447.00" y1="97.50" x2="447.00" y2="100.10" stroke="#464646" stroke-width="1"/>
<line x1="277.35" y1="15.00" x2="279.95" y2="15.00" stroke="#464646" stroke-width="1"/>
<line x1="277.35" y1="56.25" x2="279.95" y2="56.25" stroke="#464646" stroke-width="1"/>
<line x1="277.35" y1="97.50" x2="279.95" y2="97.50" stroke="#464646" stroke-width="1"/>
<text transform="translate(284.00 113.20) scale(1.000 1)" font-size="14" text-anchor="middle">0</text>
<text transform="translate(324.75 113.20) scale(1.000 1)" font-size="14" text-anchor="middle">π/2</text>
<text transform="translate(365.50 113.20) scale(1.000 1)" font-size="14" text-anchor="middle">π</text>
<text transform="translate(406.25 113.20) scale(1.000 1)" font-size="14" text-anchor="middle">3π/2</text>
<text transform="translate(447.00 113.20) scale(1.000 1)" font-size="14" text-anchor="middle">2π</text>
<text transform="translate(275.35 19.80) scale(0.965 1)" font-size="14.3" text-anchor="end">0.56</text>
<text transform="translate(275.35 61.05) scale(0.965 1)" font-size="14.3" text-anchor="end">0.48</text>
<text transform="translate(275.35 102.30) scale(0.965 1)" font-size="14.3" text-anchor="end">0.40</text>
<text transform="translate(366.80 128.00) scale(1.000 1)" font-size="15" text-anchor="middle" font-style="italic" stroke="#111" stroke-width="0.25">ϕ</text>
<text transform="translate(244.15 54.9) rotate(-90) scale(1 0.9)" font-size="15.65" text-anchor="middle">Eigenvalue</text>
<path d="M510.60 17.90 L511.28 17.93 L511.96 17.97 L512.64 18.00 L513.32 18.04 L514.00 18.07 L514.69 18.10 L515.37 18.14 L516.05 18.17 L516.73 18.20 L517.41 18.20 L518.09 18.20 L518.77 18.20 L519.45 18.20 L520.13 18.20 L520.81 18.20 L521.49 18.20 L522.17 18.20 L522.86 18.20 L523.54 18.20 L524.22 18.20 L524.90 18.08 L525.58 17.97 L526.26 17.86 L526.94 17.74 L527.62 17.63 L528.30 17.52 L528.98 17.41 L529.66 17.30 L530.34 17.19 L531.02 17.08 L531.71 16.98 L532.39 16.88 L533.07 16.78 L533.75 16.68 L534.43 16.58 L535.11 16.49 L535.79 16.41 L536.47 16.32 L537.15 16.24 L537.83 16.17 L538.51 16.09 L539.20 16.03 L539.88 15.96 L540.56 15.90 L541.24 15.85 L541.92 15.80 L542.60 15.76 L543.28 15.72 L543.96 15.69 L544.64 15.66 L545.32 15.64 L546.00 15.62 L546.68 15.61 L547.37 15.60 L548.05 15.60 L548.73 15.61 L549.41 15.62 L550.09 15.63 L550.77 15.65 L551.45 15.68 L552.13 15.71 L552.81 15.75 L553.49 15.79 L554.17 15.84 L554.85 15.90 L555.53 15.95 L556.22 16.02 L556.90 16.08 L557.58 16.16 L558.26 16.23 L558.94 16.31 L559.62 16.39 L560.30 16.48 L560.98 16.57 L561.66 16.67 L562.34 16.76 L563.02 16.86 L563.71 16.97 L564.39 17.07 L565.07 17.18 L565.75 17.28 L566.43 17.39 L567.11 17.50 L567.79 17.62 L568.47 17.73 L569.15 17.84 L569.83 17.96 L570.51 18.07 L571.19 18.18 L571.88 18.20 L572.56 18.20 L573.24 18.20 L573.92 18.20 L574.60 18.20 L575.28 18.20 L575.96 18.20 L576.64 18.20 L577.32 18.20 L578.00 18.20 L578.68 18.20 L579.36 18.20 L580.05 18.20 L580.73 18.20 L581.41 18.20 L582.09 18.20 L582.77 18.18 L583.45 18.16 L584.13 18.14 L584.81 18.12 L585.49 18.10 L586.17 18.08 L586.85 18.06 L587.53 18.04 L588.22 18.02 L588.90 18.00 L589.58 17.98 L590.26 17.96 L590.94 17.94 L591.62 17.92 L592.30 17.90 L592.98 17.92 L593.66 17.94 L594.34 17.96 L595.02 17.98 L595.70 18.00 L596.38 18.02 L597.07 18.04 L597.75 18.06 L598.43 18.08 L599.11 18.10 L599.79 18.12 L600.47 18.14 L601.15 18.16 L601.83 18.18 L602.51 18.20 L603.19 18.20 L603.87 18.20 L604.56 18.20 L605.24 18.15 L605.92 18.05 L606.60 17.96 L607.28 17.86 L607.96 17.76 L608.64 17.67 L609.32 17.57 L610.00 17.48 L610.68 17.38 L611.36 17.29 L612.04 17.20 L612.73 17.11 L613.41 17.02 L614.09 16.93 L614.77 16.84 L615.45 16.76 L616.13 16.67 L616.81 16.59 L617.49 16.51 L618.17 16.44 L618.85 16.37 L619.53 16.30 L620.21 16.23 L620.89 16.16 L621.58 16.10 L622.26 16.04 L622.94 15.99 L623.62 15.94 L624.30 15.89 L624.98 15.84 L625.66 15.80 L626.34 15.76 L627.02 15.73 L627.70 15.70 L628.38 15.67 L629.07 15.65 L629.75 15.63 L630.43 15.62 L631.11 15.61 L631.79 15.60 L632.47 15.60 L633.15 15.60 L633.83 15.61 L634.51 15.62 L635.19 15.63 L635.87 15.65 L636.55 15.67 L637.24 15.70 L637.92 15.73 L638.60 15.76 L639.28 15.80 L639.96 15.84 L640.64 15.88 L641.32 15.93 L642.00 15.98 L642.68 16.04 L643.36 16.10 L644.04 16.16 L644.72 16.22 L645.40 16.29 L646.09 16.36 L646.77 16.43 L647.45 16.51 L648.13 16.59 L648.81 16.67 L649.49 16.75 L650.17 16.83 L650.85 16.92 L651.53 17.01 L652.21 17.10 L652.89 17.19 L653.58 17.28 L654.26 17.37 L654.94 17.47 L655.62 17.56 L656.30 17.66 L656.98 17.76 L657.66 17.85 L658.34 17.95 L659.02 18.04 L659.70 18.14 L660.38 18.20 L661.06 18.20 L661.75 18.20 L662.43 18.20 L663.11 18.20 L663.79 18.20 L664.47 18.20 L665.15 18.20 L665.83 18.20 L666.51 18.20 L667.19 18.20 L667.87 18.20 L668.55 18.17 L669.23 18.14 L669.91 18.10 L670.60 18.07 L671.28 18.04 L671.96 18.00 L672.64 17.97 L673.32 17.93 L674.00 17.90" fill="none" stroke="#1a1a1a" stroke-width="1.10"/>
<path d="M510.60 17.90 L511.28 17.92 L511.96 17.93 L512.64 17.95 L513.32 17.96 L514.00 17.98 L514.69 18.00 L515.37 18.01 L516.05 18.03 L516.73 18.04 L517.41 18.04 L518.09 18.04 L518.77 18.04 L519.45 18.04 L520.13 18.04 L520.81 18.04 L521.49 18.04 L522.17 18.04 L522.86 18.04 L523.54 18.04 L524.22 18.04 L524.90 18.04 L525.58 18.04 L526.26 18.04 L526.94 18.04 L527.62 18.04 L528.30 18.04 L528.98 18.04 L529.66 18.04 L530.34 18.04 L531.02 18.01 L531.71 17.93 L532.39 17.86 L533.07 17.78 L533.75 17.71 L534.43 17.64 L535.11 17.57 L535.79 17.50 L536.47 17.43 L537.15 17.37 L537.83 17.30 L538.51 17.24 L539.20 17.19 L539.88 17.13 L540.56 17.08 L541.24 17.03 L541.92 16.99 L542.60 16.95 L543.28 16.92 L543.96 16.89 L544.64 16.86 L545.32 16.84 L546.00 16.82 L546.68 16.81 L547.37 16.80 L548.05 16.80 L548.73 16.80 L549.41 16.81 L550.09 16.82 L550.77 16.84 L551.45 16.86 L552.13 16.89 L552.81 16.92 L553.49 16.96 L554.17 17.00 L554.85 17.04 L555.53 17.09 L556.22 17.14 L556.90 17.19 L557.58 17.25 L558.26 17.31 L558.94 17.38 L559.62 17.44 L560.30 17.51 L560.98 17.58 L561.66 17.65 L562.34 17.72 L563.02 17.79 L563.71 17.87 L564.39 17.94 L565.07 18.01 L565.75 18.04 L566.43 18.04 L567.11 18.04 L567.79 18.04 L568.47 18.04 L569.15 18.04 L569.83 18.04 L570.51 18.04 L571.19 18.04 L571.88 18.04 L572.56 18.04 L573.24 18.04 L573.92 18.04 L574.60 18.04 L575.28 18.04 L575.96 18.04 L576.64 18.04 L577.32 18.04 L578.00 18.04 L578.68 18.04 L579.36 18.04 L580.05 18.04 L580.73 18.04 L581.41 18.04 L582.09 18.04 L582.77 18.04 L583.45 18.03 L584.13 18.02 L584.81 18.01 L585.49 18.00 L586.17 17.99 L586.85 17.98 L587.53 17.97 L588.22 17.96 L588.90 17.95 L589.58 17.94 L590.26 17.93 L590.94 17.92 L591.62 17.91 L592.30 17.90 L592.98 17.91 L593.66 17.92 L594.34 17.93 L595.02 17.94 L595.70 17.95 L596.38 17.96 L597.07 17.97 L597.75 17.98 L598.43 17.99 L599.11 18.00 L599.79 18.01 L600.47 18.02 L601.15 18.03 L601.83 18.04 L602.51 18.04 L603.19 18.04 L603.87 18.04 L604.56 18.04 L605.24 18.04 L605.92 18.04 L606.60 18.04 L607.28 18.04 L607.96 18.04 L608.64 18.04 L609.32 18.04 L610.00 18.04 L610.68 18.04 L611.36 18.04 L612.04 18.04 L612.73 18.02 L613.41 17.96 L614.09 17.89 L614.77 17.83 L615.45 17.77 L616.13 17.70 L616.81 17.64 L617.49 17.58 L618.17 17.52 L618.85 17.46 L619.53 17.40 L620.21 17.35 L620.89 17.29 L621.58 17.24 L622.26 17.19 L622.94 17.14 L623.62 17.10 L624.30 17.06 L624.98 17.02 L625.66 16.98 L626.34 16.95 L627.02 16.92 L627.70 16.89 L628.38 16.87 L629.07 16.85 L629.75 16.83 L630.43 16.82 L631.11 16.81 L631.79 16.80 L632.47 16.80 L633.15 16.80 L633.83 16.81 L634.51 16.82 L635.19 16.83 L635.87 16.84 L636.55 16.86 L637.24 16.89 L637.92 16.91 L638.60 16.94 L639.28 16.98 L639.96 17.01 L640.64 17.05 L641.32 17.09 L642.00 17.14 L642.68 17.19 L643.36 17.24 L644.04 17.29 L644.72 17.34 L645.40 17.40 L646.09 17.45 L646.77 17.51 L647.45 17.57 L648.13 17.63 L648.81 17.70 L649.49 17.76 L650.17 17.82 L650.85 17.89 L651.53 17.95 L652.21 18.01 L652.89 18.04 L653.58 18.04 L654.26 18.04 L654.94 18.04 L655.62 18.04 L656.30 18.04 L656.98 18.04 L657.66 18.04 L658.34 18.04 L659.02 18.04 L659.70 18.04 L660.38 18.04 L661.06 18.04 L661.75 18.04 L662.43 18.04 L663.11 18.04 L663.79 18.04 L664.47 18.04 L665.15 18.04 L665.83 18.04 L666.51 18.04 L667.19 18.04 L667.87 18.04 L668.55 18.03 L669.23 18.01 L669.91 18.00 L670.60 17.98 L671.28 17.96 L671.96 17.95 L672.64 17.93 L673.32 17.92 L674.00 17.90" fill="none" stroke="#1a1a1a" stroke-width="1.10"/>
<path d="M510.60 17.90 L511.28 17.90 L511.96 17.90 L512.64 17.90 L513.32 17.90 L514.00 17.90 L514.69 17.90 L515.37 17.90 L516.05 17.90 L516.73 17.90 L517.41 17.90 L518.09 17.90 L518.77 17.90 L519.45 17.90 L520.13 17.90 L520.81 17.90 L521.49 17.90 L522.17 17.90 L522.86 17.90 L523.54 17.90 L524.22 17.90 L524.90 17.90 L525.58 17.90 L526.26 17.90 L526.94 17.90 L527.62 17.90 L528.30 17.90 L528.98 17.90 L529.66 17.90 L530.34 17.90 L531.02 17.90 L531.71 17.90 L532.39 17.90 L533.07 17.90 L533.75 17.90 L534.43 17.90 L535.11 17.90 L535.79 17.90 L536.47 17.90 L537.15 17.90 L537.83 17.90 L538.51 17.90 L539.20 17.90 L539.88 17.90 L540.56 17.90 L541.24 17.90 L541.92 17.90 L542.60 17.90 L543.28 17.90 L543.96 17.90 L544.64 17.90 L545.32 17.90 L546.00 17.90 L546.68 17.90 L547.37 17.90 L548.05 17.90 L548.73 17.90 L549.41 17.90 L550.09 17.90 L550.77 17.90 L551.45 17.90 L552.13 17.90 L552.81 17.90 L553.49 17.90 L554.17 17.90 L554.85 17.90 L555.53 17.90 L556.22 17.90 L556.90 17.90 L557.58 17.90 L558.26 17.90 L558.94 17.90 L559.62 17.90 L560.30 17.90 L560.98 17.90 L561.66 17.90 L562.34 17.90 L563.02 17.90 L563.71 17.90 L564.39 17.90 L565.07 17.90 L565.75 17.90 L566.43 17.90 L567.11 17.90 L567.79 17.90 L568.47 17.90 L569.15 17.90 L569.83 17.90 L570.51 17.90 L571.19 17.90 L571.88 17.90 L572.56 17.90 L573.24 17.90 L573.92 17.90 L574.60 17.90 L575.28 17.90 L575.96 17.90 L576.64 17.90 L577.32 17.90 L578.00 17.90 L578.68 17.90 L579.36 17.90 L580.05 17.90 L580.73 17.90 L581.41 17.90 L582.09 17.90 L582.77 17.90 L583.45 17.90 L584.13 17.90 L584.81 17.90 L585.49 17.90 L586.17 17.90 L586.85 17.90 L587.53 17.90 L588.22 17.90 L588.90 17.90 L589.58 17.90 L590.26 17.90 L590.94 17.90 L591.62 17.90 L592.30 17.90 L592.98 17.90 L593.66 17.90 L594.34 17.90 L595.02 17.90 L595.70 17.90 L596.38 17.90 L597.07 17.90 L597.75 17.90 L598.43 17.90 L599.11 17.90 L599.79 17.90 L600.47 17.90 L601.15 17.90 L601.83 17.90 L602.51 17.90 L603.19 17.90 L603.87 17.90 L604.56 17.90 L605.24 17.90 L605.92 17.90 L606.60 17.90 L607.28 17.90 L607.96 17.90 L608.64 17.90 L609.32 17.90 L610.00 17.90 L610.68 17.90 L611.36 17.90 L612.04 17.90 L612.73 17.90 L613.41 17.90 L614.09 17.90 L614.77 17.90 L615.45 17.90 L616.13 17.90 L616.81 17.90 L617.49 17.90 L618.17 17.90 L618.85 17.90 L619.53 17.90 L620.21 17.90 L620.89 17.90 L621.58 17.90 L622.26 17.90 L622.94 17.90 L623.62 17.90 L624.30 17.90 L624.98 17.90 L625.66 17.90 L626.34 17.90 L627.02 17.90 L627.70 17.90 L628.38 17.90 L629.07 17.90 L629.75 17.90 L630.43 17.90 L631.11 17.90 L631.79 17.90 L632.47 17.90 L633.15 17.90 L633.83 17.90 L634.51 17.90 L635.19 17.90 L635.87 17.90 L636.55 17.90 L637.24 17.90 L637.92 17.90 L638.60 17.90 L639.28 17.90 L639.96 17.90 L640.64 17.90 L641.32 17.90 L642.00 17.90 L642.68 17.90 L643.36 17.90 L644.04 17.90 L644.72 17.90 L645.40 17.90 L646.09 17.90 L646.77 17.90 L647.45 17.90 L648.13 17.90 L648.81 17.90 L649.49 17.90 L650.17 17.90 L650.85 17.90 L651.53 17.90 L652.21 17.90 L652.89 17.90 L653.58 17.90 L654.26 17.90 L654.94 17.90 L655.62 17.90 L656.30 17.90 L656.98 17.90 L657.66 17.90 L658.34 17.90 L659.02 17.90 L659.70 17.90 L660.38 17.90 L661.06 17.90 L661.75 17.90 L662.43 17.90 L663.11 17.90 L663.79 17.90 L664.47 17.90 L665.15 17.90 L665.83 17.90 L666.51 17.90 L667.19 17.90 L667.87 17.90 L668.55 17.90 L669.23 17.90 L669.91 17.90 L670.60 17.90 L671.28 17.90 L671.96 17.90 L672.64 17.90 L673.32 17.90 L674.00 17.90" fill="none" stroke="#1a1a1a" stroke-width="1.70"/>
<path d="M510.60 17.90 L511.28 17.88 L511.96 17.86 L512.64 17.84 L513.32 17.82 L514.00 17.80 L514.69 17.78 L515.37 17.76 L516.05 17.73 L516.73 17.72 L517.41 17.72 L518.09 17.72 L518.77 17.72 L519.45 17.72 L520.13 17.72 L520.81 17.72 L521.49 17.72 L522.17 17.72 L522.86 17.72 L523.54 17.72 L524.22 17.72 L524.90 17.72 L525.58 17.72 L526.26 17.72 L526.94 17.72 L527.62 17.74 L528.30 17.82 L528.98 17.90 L529.66 17.98 L530.34 18.06 L531.02 18.14 L531.71 18.22 L532.39 18.30 L533.07 18.37 L533.75 18.45 L534.43 18.52 L535.11 18.59 L535.79 18.66 L536.47 18.73 L537.15 18.79 L537.83 18.85 L538.51 18.91 L539.20 18.97 L539.88 19.02 L540.56 19.06 L541.24 19.11 L541.92 19.15 L542.60 19.18 L543.28 19.21 L543.96 19.24 L544.64 19.26 L545.32 19.28 L546.00 19.29 L546.68 19.30 L547.37 19.30 L548.05 19.30 L548.73 19.29 L549.41 19.28 L550.09 19.27 L550.77 19.25 L551.45 19.22 L552.13 19.19 L552.81 19.16 L553.49 19.12 L554.17 19.08 L554.85 19.04 L555.53 18.99 L556.22 18.93 L556.90 18.88 L557.58 18.82 L558.26 18.76 L558.94 18.69 L559.62 18.62 L560.30 18.55 L560.98 18.48 L561.66 18.40 L562.34 18.33 L563.02 18.25 L563.71 18.17 L564.39 18.09 L565.07 18.01 L565.75 17.93 L566.43 17.85 L567.11 17.77 L567.79 17.72 L568.47 17.72 L569.15 17.72 L569.83 17.72 L570.51 17.72 L571.19 17.72 L571.88 17.72 L572.56 17.72 L573.24 17.72 L573.92 17.72 L574.60 17.72 L575.28 17.72 L575.96 17.72 L576.64 17.72 L577.32 17.72 L578.00 17.72 L578.68 17.72 L579.36 17.72 L580.05 17.72 L580.73 17.72 L581.41 17.72 L582.09 17.72 L582.77 17.73 L583.45 17.74 L584.13 17.75 L584.81 17.76 L585.49 17.78 L586.17 17.79 L586.85 17.80 L587.53 17.81 L588.22 17.83 L588.90 17.84 L589.58 17.85 L590.26 17.86 L590.94 17.88 L591.62 17.89 L592.30 17.90 L592.98 17.89 L593.66 17.88 L594.34 17.86 L595.02 17.85 L595.70 17.84 L596.38 17.83 L597.07 17.81 L597.75 17.80 L598.43 17.79 L599.11 17.78 L599.79 17.76 L600.47 17.75 L601.15 17.74 L601.83 17.73 L602.51 17.72 L603.19 17.72 L603.87 17.72 L604.56 17.72 L605.24 17.72 L605.92 17.72 L606.60 17.72 L607.28 17.72 L607.96 17.72 L608.64 17.72 L609.32 17.72 L610.00 17.72 L610.68 17.76 L611.36 17.83 L612.04 17.90 L612.73 17.98 L613.41 18.05 L614.09 18.12 L614.77 18.19 L615.45 18.26 L616.13 18.33 L616.81 18.39 L617.49 18.46 L618.17 18.52 L618.85 18.59 L619.53 18.65 L620.21 18.71 L620.89 18.76 L621.58 18.82 L622.26 18.87 L622.94 18.92 L623.62 18.97 L624.30 19.01 L624.98 19.06 L625.66 19.09 L626.34 19.13 L627.02 19.16 L627.70 19.19 L628.38 19.22 L629.07 19.24 L629.75 19.26 L630.43 19.27 L631.11 19.29 L631.79 19.29 L632.47 19.30 L633.15 19.30 L633.83 19.30 L634.51 19.29 L635.19 19.28 L635.87 19.27 L636.55 19.25 L637.24 19.23 L637.92 19.21 L638.60 19.18 L639.28 19.15 L639.96 19.11 L640.64 19.08 L641.32 19.04 L642.00 18.99 L642.68 18.95 L643.36 18.90 L644.04 18.85 L644.72 18.80 L645.40 18.74 L646.09 18.68 L646.77 18.62 L647.45 18.56 L648.13 18.50 L648.81 18.43 L649.49 18.36 L650.17 18.30 L650.85 18.23 L651.53 18.16 L652.21 18.09 L652.89 18.02 L653.58 17.94 L654.26 17.87 L654.94 17.80 L655.62 17.73 L656.30 17.72 L656.98 17.72 L657.66 17.72 L658.34 17.72 L659.02 17.72 L659.70 17.72 L660.38 17.72 L661.06 17.72 L661.75 17.72 L662.43 17.72 L663.11 17.72 L663.79 17.72 L664.47 17.72 L665.15 17.72 L665.83 17.72 L666.51 17.72 L667.19 17.72 L667.87 17.72 L668.55 17.73 L669.23 17.76 L669.91 17.78 L670.60 17.80 L671.28 17.82 L671.96 17.84 L672.64 17.86 L673.32 17.88 L674.00 17.90" fill="none" stroke="#1a1a1a" stroke-width="1.10"/>
<path d="M510.60 17.90 L511.28 17.85 L511.96 17.79 L512.64 17.74 L513.32 17.68 L514.00 17.63 L514.69 17.57 L515.37 17.52 L516.05 17.46 L516.73 17.42 L517.41 17.42 L518.09 17.42 L518.77 17.42 L519.45 17.42 L520.13 17.42 L520.81 17.48 L521.49 17.65 L522.17 17.82 L522.86 17.99 L523.54 18.16 L524.22 18.32 L524.90 18.49 L525.58 18.66 L526.26 18.82 L526.94 18.98 L527.62 19.14 L528.30 19.30 L528.98 19.45 L529.66 19.60 L530.34 19.75 L531.02 19.90 L531.71 20.04 L532.39 20.17 L533.07 20.30 L533.75 20.43 L534.43 20.55 L535.11 20.66 L535.79 20.77 L536.47 20.87 L537.15 20.97 L537.83 21.06 L538.51 21.15 L539.20 21.22 L539.88 21.29 L540.56 21.36 L541.24 21.41 L541.92 21.46 L542.60 21.50 L543.28 21.54 L543.96 21.57 L544.64 21.58 L545.32 21.60 L546.00 21.60 L546.68 21.60 L547.37 21.58 L548.05 21.57 L548.73 21.54 L549.41 21.50 L550.09 21.46 L550.77 21.41 L551.45 21.36 L552.13 21.29 L552.81 21.22 L553.49 21.15 L554.17 21.06 L554.85 20.97 L555.53 20.87 L556.22 20.77 L556.90 20.66 L557.58 20.55 L558.26 20.43 L558.94 20.30 L559.62 20.17 L560.30 20.03 L560.98 19.89 L561.66 19.75 L562.34 19.60 L563.02 19.45 L563.71 19.30 L564.39 19.14 L565.07 18.98 L565.75 18.82 L566.43 18.65 L567.11 18.49 L567.79 18.32 L568.47 18.15 L569.15 17.99 L569.83 17.82 L570.51 17.65 L571.19 17.48 L571.88 17.42 L572.56 17.42 L573.24 17.42 L573.92 17.42 L574.60 17.42 L575.28 17.42 L575.96 17.42 L576.64 17.42 L577.32 17.42 L578.00 17.42 L578.68 17.42 L579.36 17.42 L580.05 17.42 L580.73 17.42 L581.41 17.42 L582.09 17.42 L582.77 17.44 L583.45 17.47 L584.13 17.51 L584.81 17.54 L585.49 17.57 L586.17 17.61 L586.85 17.64 L587.53 17.67 L588.22 17.70 L588.90 17.74 L589.58 17.77 L590.26 17.80 L590.94 17.83 L591.62 17.87 L592.30 17.90 L592.98 17.87 L593.66 17.83 L594.34 17.80 L595.02 17.77 L595.70 17.74 L596.38 17.70 L597.07 17.67 L597.75 17.64 L598.43 17.61 L599.11 17.57 L599.79 17.54 L600.47 17.51 L601.15 17.47 L601.83 17.44 L602.51 17.42 L603.19 17.42 L603.87 17.42 L604.56 17.42 L605.24 17.42 L605.92 17.42 L606.60 17.42 L607.28 17.42 L607.96 17.42 L608.64 17.45 L609.32 17.61 L610.00 17.78 L610.68 17.94 L611.36 18.11 L612.04 18.27 L612.73 18.44 L613.41 18.60 L614.09 18.76 L614.77 18.92 L615.45 19.08 L616.13 19.23 L616.81 19.38 L617.49 19.53 L618.17 19.68 L618.85 19.82 L619.53 19.96 L620.21 20.10 L620.89 20.23 L621.58 20.35 L622.26 20.47 L622.94 20.59 L623.62 20.70 L624.30 20.81 L624.98 20.90 L625.66 21.00 L626.34 21.08 L627.02 21.17 L627.70 21.24 L628.38 21.31 L629.07 21.37 L629.75 21.42 L630.43 21.47 L631.11 21.51 L631.79 21.54 L632.47 21.57 L633.15 21.59 L633.83 21.60 L634.51 21.60 L635.19 21.60 L635.87 21.59 L636.55 21.57 L637.24 21.54 L637.92 21.51 L638.60 21.47 L639.28 21.42 L639.96 21.37 L640.64 21.31 L641.32 21.24 L642.00 21.16 L642.68 21.08 L643.36 20.99 L644.04 20.90 L644.72 20.80 L645.40 20.70 L646.09 20.59 L646.77 20.47 L647.45 20.35 L648.13 20.22 L648.81 20.09 L649.49 19.96 L650.17 19.82 L650.85 19.68 L651.53 19.53 L652.21 19.38 L652.89 19.23 L653.58 19.07 L654.26 18.91 L654.94 18.76 L655.62 18.59 L656.30 18.43 L656.98 18.27 L657.66 18.10 L658.34 17.94 L659.02 17.77 L659.70 17.61 L660.38 17.45 L661.06 17.42 L661.75 17.42 L662.43 17.42 L663.11 17.42 L663.79 17.42 L664.47 17.42 L665.15 17.42 L665.83 17.42 L666.51 17.42 L667.19 17.42 L667.87 17.42 L668.55 17.46 L669.23 17.52 L669.91 17.57 L670.60 17.63 L671.28 17.68 L671.96 17.74 L672.64 17.79 L673.32 17.85 L674.00 17.90" fill="none" stroke="#1a1a1a" stroke-width="1.10"/>
<path d="M510.60 67.50 L511.20 67.44 L511.94 67.36 L512.80 67.27 L513.77 67.17 L514.83 67.05 L515.96 66.94 L517.13 66.82 L518.33 66.70 L519.53 66.59 L520.73 66.48 L521.89 66.38 L523.00 66.30 L524.08 66.22 L525.17 66.15 L526.27 66.08 L527.38 66.00 L528.50 65.94 L529.62 65.87 L530.75 65.82 L531.89 65.77 L533.03 65.74 L534.18 65.71 L535.34 65.70 L536.50 65.70 L537.66 65.71 L538.81 65.73 L539.95 65.75 L541.09 65.79 L542.24 65.83 L543.41 65.89 L544.59 65.95 L545.80 66.03 L547.04 66.13 L548.31 66.23 L549.63 66.36 L551.00 66.50 L552.45 66.67 L553.99 66.86 L555.60 67.09 L557.26 67.33 L558.95 67.59 L560.66 67.85 L562.35 68.12 L564.02 68.38 L565.64 68.64 L567.19 68.88 L568.65 69.10 L570.00 69.30 L571.25 69.48 L572.42 69.65 L573.53 69.81 L574.58 69.96 L575.58 70.10 L576.54 70.23 L577.47 70.36 L578.39 70.48 L579.28 70.59 L580.18 70.70 L581.08 70.80 L582.00 70.90 L582.92 70.99 L583.82 71.08 L584.69 71.17 L585.56 71.25 L586.41 71.33 L587.26 71.39 L588.09 71.45 L588.93 71.50 L589.76 71.54 L590.60 71.57 L591.45 71.59 L592.30 71.60 L593.15 71.59 L594.00 71.57 L594.84 71.54 L595.67 71.50 L596.51 71.45 L597.34 71.39 L598.19 71.33 L599.04 71.25 L599.91 71.17 L600.78 71.08 L601.68 70.99 L602.60 70.90 L603.52 70.80 L604.42 70.70 L605.32 70.59 L606.21 70.48 L607.13 70.36 L608.06 70.23 L609.02 70.10 L610.02 69.96 L611.07 69.81 L612.18 69.65 L613.35 69.48 L614.60 69.30 L615.95 69.10 L617.41 68.88 L618.96 68.64 L620.58 68.38 L622.25 68.12 L623.94 67.85 L625.65 67.59 L627.34 67.33 L629.00 67.09 L630.61 66.86 L632.15 66.67 L633.60 66.50 L634.97 66.36 L636.29 66.23 L637.56 66.13 L638.80 66.03 L640.01 65.95 L641.19 65.89 L642.36 65.83 L643.51 65.79 L644.65 65.75 L645.79 65.73 L646.94 65.71 L648.10 65.70 L649.26 65.70 L650.42 65.71 L651.57 65.74 L652.71 65.77 L653.85 65.82 L654.98 65.88 L656.10 65.94 L657.22 66.00 L658.33 66.08 L659.43 66.15 L660.52 66.22 L661.60 66.30 L662.71 66.38 L663.87 66.48 L665.07 66.59 L666.27 66.70 L667.47 66.82 L668.64 66.94 L669.77 67.05 L670.83 67.17 L671.80 67.27 L672.66 67.36 L673.40 67.44 L674.00 67.50" fill="none" stroke="#1a1a1a" stroke-width="1.15"/>
<path d="M510.60 75.80 L512.64 75.80 L514.69 75.81 L516.73 75.82 L518.77 75.83 L520.81 75.85 L522.86 75.88 L524.90 75.91 L526.94 75.94 L528.98 75.99 L531.02 76.04 L533.07 76.10 L535.11 76.16 L537.15 76.24 L539.20 76.32 L541.24 76.41 L543.28 76.51 L545.32 76.62 L547.37 76.74 L549.41 76.87 L551.45 77.00 L553.49 77.14 L555.53 77.29 L557.58 77.44 L559.62 77.59 L561.66 77.75 L563.71 77.91 L565.75 78.06 L567.79 78.22 L569.83 78.37 L571.88 78.51 L573.92 78.65 L575.96 78.78 L578.00 78.89 L580.05 79.00 L582.09 79.09 L584.13 79.16 L586.17 79.22 L588.22 79.26 L590.26 79.29 L592.30 79.30 L594.34 79.29 L596.38 79.26 L598.43 79.22 L600.47 79.16 L602.51 79.09 L604.56 79.00 L606.60 78.89 L608.64 78.78 L610.68 78.65 L612.73 78.51 L614.77 78.37 L616.81 78.22 L618.85 78.06 L620.89 77.91 L622.94 77.75 L624.98 77.59 L627.02 77.44 L629.07 77.29 L631.11 77.14 L633.15 77.00 L635.19 76.87 L637.24 76.74 L639.28 76.62 L641.32 76.51 L643.36 76.41 L645.40 76.32 L647.45 76.24 L649.49 76.16 L651.53 76.10 L653.58 76.04 L655.62 75.99 L657.66 75.94 L659.70 75.91 L661.75 75.88 L663.79 75.85 L665.83 75.83 L667.87 75.82 L669.91 75.81 L671.96 75.80 L674.00 75.80" fill="none" stroke="#1a1a1a" stroke-width="1.15"/>
<path d="M510.60 84.30 L512.64 84.32 L514.69 84.37 L516.73 84.46 L518.77 84.58 L520.81 84.73 L522.86 84.90 L524.90 85.10 L526.94 85.31 L528.98 85.54 L531.02 85.78 L533.07 86.01 L535.11 86.25 L537.15 86.48 L539.20 86.69 L541.24 86.89 L543.28 87.07 L545.32 87.22 L547.37 87.34 L549.41 87.44 L551.45 87.50 L553.49 87.53 L555.53 87.53 L557.58 87.50 L559.62 87.44 L561.66 87.35 L563.71 87.24 L565.75 87.10 L567.79 86.95 L569.83 86.79 L571.88 86.62 L573.92 86.45 L575.96 86.28 L578.00 86.12 L580.05 85.97 L582.09 85.84 L584.13 85.72 L586.17 85.63 L588.22 85.56 L590.26 85.51 L592.30 85.50 L594.34 85.51 L596.38 85.56 L598.43 85.63 L600.47 85.72 L602.51 85.84 L604.56 85.97 L606.60 86.12 L608.64 86.28 L610.68 86.45 L612.73 86.62 L614.77 86.79 L616.81 86.95 L618.85 87.10 L620.89 87.24 L622.94 87.35 L624.98 87.44 L627.02 87.50 L629.07 87.53 L631.11 87.53 L633.15 87.50 L635.19 87.44 L637.24 87.34 L639.28 87.22 L641.32 87.07 L643.36 86.89 L645.40 86.69 L647.45 86.48 L649.49 86.25 L651.53 86.01 L653.58 85.78 L655.62 85.54 L657.66 85.31 L659.70 85.10 L661.75 84.90 L663.79 84.73 L665.83 84.58 L667.87 84.46 L669.91 84.37 L671.96 84.32 L674.00 84.30" fill="none" stroke="#1a1a1a" stroke-width="1.15"/>
<path d="M510.60 90.90 L512.64 90.92 L514.69 90.99 L516.73 91.09 L518.77 91.23 L520.81 91.41 L522.86 91.62 L524.90 91.85 L526.94 92.10 L528.98 92.37 L531.02 92.64 L533.07 92.91 L535.11 93.18 L537.15 93.43 L539.20 93.67 L541.24 93.88 L543.28 94.06 L545.32 94.20 L547.37 94.31 L549.41 94.37 L551.45 94.40 L553.49 94.38 L555.53 94.32 L557.58 94.22 L559.62 94.09 L561.66 93.91 L563.71 93.71 L565.75 93.48 L567.79 93.24 L569.83 92.98 L571.88 92.71 L573.92 92.44 L575.96 92.18 L578.00 91.93 L580.05 91.71 L582.09 91.50 L584.13 91.33 L586.17 91.19 L588.22 91.08 L590.26 91.02 L592.30 91.00 L594.34 91.02 L596.38 91.08 L598.43 91.19 L600.47 91.33 L602.51 91.50 L604.56 91.71 L606.60 91.93 L608.64 92.18 L610.68 92.44 L612.73 92.71 L614.77 92.98 L616.81 93.24 L618.85 93.48 L620.89 93.71 L622.94 93.91 L624.98 94.09 L627.02 94.22 L629.07 94.32 L631.11 94.38 L633.15 94.40 L635.19 94.37 L637.24 94.31 L639.28 94.20 L641.32 94.06 L643.36 93.88 L645.40 93.67 L647.45 93.43 L649.49 93.18 L651.53 92.91 L653.58 92.64 L655.62 92.37 L657.66 92.10 L659.70 91.85 L661.75 91.62 L663.79 91.41 L665.83 91.23 L667.87 91.09 L669.91 90.99 L671.96 90.92 L674.00 90.90" fill="none" stroke="#1a1a1a" stroke-width="1.15"/>
<path d="M510.60 46.70 L511.10 46.37 L511.72 45.94 L512.44 45.45 L513.24 44.90 L514.13 44.29 L515.06 43.66 L516.04 43.00 L517.04 42.33 L518.06 41.66 L519.07 41.01 L520.05 40.38 L521.00 39.80 L521.91 39.25 L522.81 38.70 L523.70 38.16 L524.59 37.62 L525.48 37.08 L526.40 36.55 L527.34 36.02 L528.33 35.48 L529.35 34.94 L530.44 34.40 L531.58 33.85 L532.80 33.30 L534.10 32.74 L535.46 32.16 L536.89 31.58 L538.38 30.99 L539.91 30.40 L541.47 29.81 L543.07 29.22 L544.69 28.64 L546.32 28.06 L547.95 27.50 L549.58 26.94 L551.20 26.40 L552.82 25.86 L554.45 25.32 L556.11 24.78 L557.77 24.24 L559.45 23.71 L561.14 23.19 L562.84 22.68 L564.55 22.19 L566.26 21.73 L567.97 21.29 L569.69 20.88 L571.40 20.50 L573.12 20.15 L574.84 19.80 L576.58 19.47 L578.31 19.16 L580.06 18.87 L581.81 18.61 L583.56 18.38 L585.31 18.18 L587.06 18.02 L588.81 17.90 L590.56 17.83 L592.30 17.80 L594.04 17.83 L595.79 17.90 L597.54 18.02 L599.29 18.18 L601.04 18.38 L602.79 18.61 L604.54 18.87 L606.29 19.16 L608.02 19.47 L609.76 19.80 L611.48 20.15 L613.20 20.50 L614.91 20.88 L616.63 21.29 L618.34 21.73 L620.05 22.19 L621.76 22.68 L623.46 23.19 L625.15 23.71 L626.83 24.24 L628.49 24.78 L630.15 25.32 L631.78 25.86 L633.40 26.40 L635.02 26.94 L636.65 27.50 L638.28 28.06 L639.91 28.64 L641.53 29.22 L643.12 29.81 L644.69 30.40 L646.22 30.99 L647.71 31.58 L649.14 32.16 L650.50 32.74 L651.80 33.30 L653.02 33.85 L654.16 34.40 L655.25 34.94 L656.27 35.48 L657.26 36.02 L658.20 36.55 L659.12 37.08 L660.01 37.62 L660.90 38.16 L661.79 38.70 L662.69 39.25 L663.60 39.80 L664.55 40.38 L665.53 41.01 L666.54 41.66 L667.56 42.33 L668.56 43.00 L669.54 43.66 L670.47 44.29 L671.36 44.90 L672.16 45.45 L672.88 45.94 L673.50 46.37 L674.00 46.70" fill="none" stroke="#0000ff" stroke-width="2" stroke-dasharray="2.9 3.4"/>
<path d="M510.60 46.50 L511.02 46.76 L511.55 47.10 L512.17 47.50 L512.87 47.95 L513.64 48.43 L514.44 48.94 L515.26 49.47 L516.09 49.99 L516.91 50.49 L517.69 50.97 L518.43 51.41 L519.10 51.80 L519.72 52.15 L520.31 52.48 L520.88 52.80 L521.44 53.10 L521.98 53.38 L522.52 53.66 L523.05 53.92 L523.57 54.17 L524.09 54.41 L524.62 54.65 L525.16 54.88 L525.70 55.10 L526.25 55.32 L526.80 55.52 L527.35 55.71 L527.90 55.90 L528.45 56.08 L529.00 56.24 L529.55 56.40 L530.10 56.56 L530.65 56.70 L531.20 56.84 L531.75 56.97 L532.30 57.10 L532.85 57.22 L533.40 57.33 L533.95 57.43 L534.50 57.52 L535.06 57.61 L535.61 57.69 L536.16 57.76 L536.71 57.83 L537.26 57.90 L537.81 57.97 L538.35 58.03 L538.90 58.10 L539.44 58.16 L539.99 58.22 L540.53 58.28 L541.07 58.33 L541.61 58.38 L542.15 58.42 L542.69 58.47 L543.23 58.51 L543.77 58.56 L544.31 58.60 L544.86 58.65 L545.40 58.70 L545.95 58.75 L546.49 58.80 L547.04 58.84 L547.59 58.89 L548.14 58.93 L548.69 58.98 L549.24 59.03 L549.80 59.08 L550.35 59.13 L550.90 59.18 L551.45 59.24 L552.00 59.30 L552.55 59.36 L553.10 59.43 L553.65 59.49 L554.20 59.56 L554.76 59.62 L555.31 59.69 L555.86 59.77 L556.41 59.84 L556.96 59.93 L557.51 60.01 L558.05 60.10 L558.60 60.20 L559.14 60.30 L559.69 60.42 L560.23 60.54 L560.77 60.66 L561.31 60.79 L561.85 60.92 L562.39 61.05 L562.93 61.19 L563.47 61.32 L564.01 61.45 L564.56 61.58 L565.10 61.70 L565.65 61.82 L566.19 61.94 L566.74 62.06 L567.29 62.18 L567.84 62.30 L568.39 62.41 L568.94 62.53 L569.50 62.64 L570.05 62.76 L570.60 62.87 L571.15 62.99 L571.70 63.10 L572.25 63.21 L572.80 63.33 L573.35 63.44 L573.90 63.56 L574.46 63.67 L575.01 63.79 L575.56 63.90 L576.11 64.01 L576.66 64.11 L577.21 64.21 L577.75 64.31 L578.30 64.40 L578.84 64.49 L579.38 64.57 L579.91 64.64 L580.44 64.72 L580.96 64.79 L581.49 64.86 L582.03 64.92 L582.56 64.98 L583.11 65.04 L583.66 65.10 L584.22 65.15 L584.80 65.20 L585.39 65.25 L585.99 65.30 L586.60 65.35 L587.23 65.39 L587.85 65.44 L588.49 65.48 L589.12 65.51 L589.76 65.54 L590.40 65.57 L591.04 65.58 L591.67 65.60 L592.30 65.60 L592.93 65.60 L593.56 65.58 L594.20 65.57 L594.84 65.54 L595.48 65.51 L596.11 65.47 L596.75 65.44 L597.37 65.39 L598.00 65.35 L598.61 65.30 L599.21 65.25 L599.80 65.20 L600.38 65.15 L600.94 65.10 L601.49 65.04 L602.04 64.98 L602.57 64.92 L603.11 64.86 L603.64 64.79 L604.16 64.72 L604.69 64.64 L605.22 64.57 L605.76 64.49 L606.30 64.40 L606.85 64.31 L607.39 64.21 L607.94 64.11 L608.49 64.01 L609.04 63.90 L609.59 63.79 L610.14 63.67 L610.70 63.56 L611.25 63.44 L611.80 63.33 L612.35 63.21 L612.90 63.10 L613.45 62.99 L614.00 62.87 L614.55 62.76 L615.10 62.64 L615.66 62.53 L616.21 62.41 L616.76 62.30 L617.31 62.18 L617.86 62.06 L618.41 61.94 L618.95 61.82 L619.50 61.70 L620.04 61.58 L620.59 61.45 L621.13 61.32 L621.67 61.19 L622.21 61.05 L622.75 60.92 L623.29 60.79 L623.83 60.66 L624.37 60.54 L624.91 60.42 L625.46 60.30 L626.00 60.20 L626.55 60.10 L627.09 60.01 L627.64 59.93 L628.19 59.84 L628.74 59.77 L629.29 59.69 L629.84 59.62 L630.40 59.56 L630.95 59.49 L631.50 59.43 L632.05 59.36 L632.60 59.30 L633.15 59.24 L633.70 59.18 L634.25 59.13 L634.80 59.08 L635.36 59.03 L635.91 58.98 L636.46 58.93 L637.01 58.89 L637.56 58.84 L638.11 58.80 L638.65 58.75 L639.20 58.70 L639.74 58.65 L640.29 58.60 L640.83 58.56 L641.37 58.51 L641.91 58.47 L642.45 58.43 L642.99 58.38 L643.53 58.33 L644.07 58.28 L644.61 58.22 L645.16 58.16 L645.70 58.10 L646.25 58.03 L646.79 57.97 L647.34 57.90 L647.89 57.83 L648.44 57.76 L648.99 57.69 L649.54 57.61 L650.10 57.52 L650.65 57.43 L651.20 57.33 L651.75 57.22 L652.30 57.10 L652.85 56.97 L653.40 56.84 L653.95 56.70 L654.50 56.56 L655.05 56.40 L655.60 56.24 L656.15 56.08 L656.70 55.90 L657.25 55.71 L657.80 55.52 L658.35 55.32 L658.90 55.10 L659.44 54.88 L659.98 54.65 L660.51 54.41 L661.03 54.17 L661.55 53.92 L662.08 53.66 L662.62 53.38 L663.16 53.10 L663.72 52.80 L664.29 52.48 L664.88 52.15 L665.50 51.80 L666.17 51.41 L666.91 50.97 L667.69 50.49 L668.51 49.99 L669.34 49.47 L670.16 48.94 L670.96 48.43 L671.73 47.95 L672.43 47.50 L673.05 47.10 L673.58 46.76 L674.00 46.50" fill="none" stroke="#ff0000" stroke-width="1.9" stroke-linejoin="round"/>
<rect x="506.50" y="12.45" width="171.10" height="84.85" fill="none" stroke="#464646" stroke-width="1.25"/>
<line x1="510.60" y1="97.30" x2="510.60" y2="99.90" stroke="#464646" stroke-width="1"/>
<line x1="551.45" y1="97.30" x2="551.45" y2="99.90" stroke="#464646" stroke-width="1"/>
<line x1="592.30" y1="97.30" x2="592.30" y2="99.90" stroke="#464646" stroke-width="1"/>
<line x1="633.15" y1="97.30" x2="633.15" y2="99.90" stroke="#464646" stroke-width="1"/>
<line x1="674.00" y1="97.30" x2="674.00" y2="99.90" stroke="#464646" stroke-width="1"/>
<line x1="503.90" y1="15.60" x2="506.50" y2="15.60" stroke="#464646" stroke-width="1"/>
<line x1="503.90" y1="53.70" x2="506.50" y2="53.70" stroke="#464646" stroke-width="1"/>
<line x1="503.90" y1="91.80" x2="506.50" y2="91.80" stroke="#464646" stroke-width="1"/>
<text transform="translate(510.60 113.20) scale(1.000 1)" font-size="14" text-anchor="middle">0</text>
<text transform="translate(551.45 113.20) scale(1.000 1)" font-size="14" text-anchor="middle">π/2</text>
<text transform="translate(592.30 113.20) scale(1.000 1)" font-size="14" text-anchor="middle">π</text>
<text transform="translate(633.15 113.20) scale(1.000 1)" font-size="14" text-anchor="middle">3π/2</text>
<text transform="translate(674.00 113.20) scale(1.000 1)" font-size="14" text-anchor="middle">2π</text>
<text transform="translate(501.90 20.40) scale(0.965 1)" font-size="14.3" text-anchor="end">0.53</text>
<text transform="translate(501.90 58.50) scale(0.965 1)" font-size="14.3" text-anchor="end">0.46</text>
<text transform="translate(501.90 96.60) scale(0.965 1)" font-size="14.3" text-anchor="end">0.39</text>
<text transform="translate(593.60 128.00) scale(1.000 1)" font-size="15" text-anchor="middle" font-style="italic" stroke="#111" stroke-width="0.25">ϕ</text>
<text transform="translate(471.70 54.9) rotate(-90) scale(1 0.9)" font-size="15.65" text-anchor="middle">Eigenvalue</text>
<text x="-0.30" y="11.60" font-size="16.5">a</text>
<text x="226.60" y="11.80" font-size="16.5">b</text>
<text x="453.00" y="11.60" font-size="16.5">c</text>
<text x="27.50" y="149.30" font-size="16.5">d</text>
<text x="255.60" y="149.00" font-size="16.5">e</text>
<text x="483.30" y="149.00" font-size="16.5">f</text>
<rect x="49.70" y="164.20" width="173.30" height="50.90" fill="#0b0000"/>
<rect x="49.70" y="164.20" width="173.30" height="6.09" fill="url(#g1)"/>
<rect x="49.70" y="169.29" width="173.30" height="6.09" fill="url(#g2)"/>
<rect x="49.70" y="174.38" width="173.30" height="6.09" fill="url(#g3)"/>
<rect x="49.70" y="179.47" width="173.30" height="6.09" fill="url(#g4)"/>
<rect x="49.70" y="184.56" width="173.30" height="6.09" fill="url(#g5)"/>
<rect x="49.70" y="189.65" width="173.30" height="6.09" fill="url(#g6)"/>
<rect x="49.70" y="194.74" width="173.30" height="6.09" fill="url(#g7)"/>
<rect x="49.70" y="199.83" width="173.30" height="6.09" fill="url(#g8)"/>
<rect x="49.70" y="204.92" width="173.30" height="6.09" fill="url(#g9)"/>
<rect x="49.70" y="210.01" width="173.30" height="5.09" fill="url(#g10)"/>
<rect x="49.70" y="221.90" width="173.30" height="50.80" fill="#0b0000"/>
<rect x="49.70" y="221.90" width="173.30" height="6.08" fill="url(#g11)"/>
<rect x="49.70" y="226.98" width="173.30" height="6.08" fill="url(#g12)"/>
<rect x="49.70" y="232.06" width="173.30" height="6.08" fill="url(#g13)"/>
<rect x="49.70" y="237.14" width="173.30" height="6.08" fill="url(#g14)"/>
<rect x="49.70" y="242.22" width="173.30" height="6.08" fill="url(#g15)"/>
<rect x="49.70" y="247.30" width="173.30" height="6.08" fill="url(#g16)"/>
<rect x="49.70" y="252.38" width="173.30" height="6.08" fill="url(#g17)"/>
<rect x="49.70" y="257.46" width="173.30" height="6.08" fill="url(#g18)"/>
<rect x="49.70" y="262.54" width="173.30" height="6.08" fill="url(#g19)"/>
<rect x="49.70" y="267.62" width="173.30" height="5.08" fill="url(#g20)"/>
<line x1="48.70" y1="273.0" x2="223.30" y2="273.0" stroke="#222" stroke-width="1"/>
<line x1="49.20" y1="273" x2="49.20" y2="275.6" stroke="#222" stroke-width="1"/>
<line x1="136.10" y1="273" x2="136.10" y2="275.6" stroke="#222" stroke-width="1"/>
<line x1="223.00" y1="273" x2="223.00" y2="275.6" stroke="#222" stroke-width="1"/>
<text transform="translate(48.30 290.50) scale(0.930 1)" font-size="16.2" text-anchor="middle">0</text>
<text transform="translate(135.20 290.50) scale(0.930 1)" font-size="16.2" text-anchor="middle">21</text>
<text transform="translate(222.10 290.50) scale(0.930 1)" font-size="16.2" text-anchor="middle">42</text>
<text transform="translate(56.30 306.40) scale(0.935 1)" font-size="15" text-anchor="start">Propagation direction <tspan font-style="italic">z</tspan> (cm)</text>
<text transform="translate(51.30 158.60) scale(0.950 1)" font-size="14" text-anchor="start">Symmetric pumping</text>
<text transform="translate(44.00 172.60) scale(1.000 1)" font-size="13.2" text-anchor="end">1</text>
<text transform="translate(48.60 217.10) scale(1.000 1)" font-size="13.2" text-anchor="end">10</text>
<text transform="translate(44.00 229.80) scale(1.000 1)" font-size="13.2" text-anchor="end">1</text>
<text transform="translate(48.60 273.50) scale(1.000 1)" font-size="13.2" text-anchor="end">10</text>
<rect x="277.30" y="164.20" width="172.80" height="50.50" fill="#0b0000"/>
<rect x="277.30" y="164.20" width="172.80" height="6.05" fill="url(#g21)"/>
<rect x="277.30" y="169.25" width="172.80" height="6.05" fill="url(#g22)"/>
<rect x="277.30" y="174.30" width="172.80" height="6.05" fill="url(#g23)"/>
<rect x="277.30" y="179.35" width="172.80" height="6.05" fill="url(#g24)"/>
<rect x="277.30" y="184.40" width="172.80" height="6.05" fill="url(#g25)"/>
<rect x="277.30" y="189.45" width="172.80" height="6.05" fill="url(#g26)"/>
<rect x="277.30" y="194.50" width="172.80" height="6.05" fill="url(#g27)"/>
<rect x="277.30" y="199.55" width="172.80" height="6.05" fill="url(#g28)"/>
<rect x="277.30" y="204.60" width="172.80" height="6.05" fill="url(#g29)"/>
<rect x="277.30" y="209.65" width="172.80" height="5.05" fill="url(#g30)"/>
<rect x="277.30" y="221.90" width="172.80" height="50.80" fill="#0b0000"/>
<rect x="277.30" y="221.90" width="172.80" height="6.08" fill="url(#g31)"/>
<rect x="277.30" y="226.98" width="172.80" height="6.08" fill="url(#g32)"/>
<rect x="277.30" y="232.06" width="172.80" height="6.08" fill="url(#g33)"/>
<rect x="277.30" y="237.14" width="172.80" height="6.08" fill="url(#g34)"/>
<rect x="277.30" y="242.22" width="172.80" height="6.08" fill="url(#g35)"/>
<rect x="277.30" y="247.30" width="172.80" height="6.08" fill="url(#g36)"/>
<rect x="277.30" y="252.38" width="172.80" height="6.08" fill="url(#g37)"/>
<rect x="277.30" y="257.46" width="172.80" height="6.08" fill="url(#g38)"/>
<rect x="277.30" y="262.54" width="172.80" height="6.08" fill="url(#g39)"/>
<rect x="277.30" y="267.62" width="172.80" height="5.08" fill="url(#g40)"/>
<line x1="275.30" y1="273.0" x2="450.40" y2="273.0" stroke="#222" stroke-width="1"/>
<line x1="275.80" y1="273" x2="275.80" y2="275.6" stroke="#222" stroke-width="1"/>
<line x1="362.95" y1="273" x2="362.95" y2="275.6" stroke="#222" stroke-width="1"/>
<line x1="450.10" y1="273" x2="450.10" y2="275.6" stroke="#222" stroke-width="1"/>
<text transform="translate(274.90 290.50) scale(0.930 1)" font-size="16.2" text-anchor="middle">0</text>
<text transform="translate(362.05 290.50) scale(0.930 1)" font-size="16.2" text-anchor="middle">21</text>
<text transform="translate(449.20 290.50) scale(0.930 1)" font-size="16.2" text-anchor="middle">42</text>
<text transform="translate(283.90 306.40) scale(0.935 1)" font-size="15" text-anchor="start">Propagation direction <tspan font-style="italic">z</tspan> (cm)</text>
<text transform="translate(277.80 158.60) scale(0.950 1)" font-size="14" text-anchor="start">Asymmetric pumping</text>
<text transform="translate(396.80 158.90) scale(0.950 1)" font-size="15.5" text-anchor="start">(</text>
<text transform="translate(402.10 158.20) scale(0.950 1)" font-size="14" text-anchor="start" font-style="italic">κ</text>
<text transform="translate(408.50 160.70) scale(1.000 1)" font-size="9.6" text-anchor="start" font-weight="bold">NNN</text>
<text transform="translate(430.70 158.90) scale(0.950 1)" font-size="15.5" text-anchor="start">)</text>
<text transform="translate(270.40 174.10) scale(1.000 1)" font-size="13.2" text-anchor="end">1</text>
<text transform="translate(274.50 218.70) scale(1.000 1)" font-size="13.2" text-anchor="end">10</text>
<text transform="translate(270.40 230.90) scale(1.000 1)" font-size="13.2" text-anchor="end">1</text>
<text transform="translate(274.50 274.90) scale(1.000 1)" font-size="13.2" text-anchor="end">10</text>
<rect x="505.40" y="164.20" width="173.20" height="50.50" fill="#0b0000"/>
<rect x="505.40" y="164.20" width="173.20" height="6.05" fill="url(#g41)"/>
<rect x="505.40" y="169.25" width="173.20" height="6.05" fill="url(#g42)"/>
<rect x="505.40" y="174.30" width="173.20" height="6.05" fill="url(#g43)"/>
<rect x="505.40" y="179.35" width="173.20" height="6.05" fill="url(#g44)"/>
<rect x="505.40" y="184.40" width="173.20" height="6.05" fill="url(#g45)"/>
<rect x="505.40" y="189.45" width="173.20" height="6.05" fill="url(#g46)"/>
<rect x="505.40" y="194.50" width="173.20" height="6.05" fill="url(#g47)"/>
<rect x="505.40" y="199.55" width="173.20" height="6.05" fill="url(#g48)"/>
<rect x="505.40" y="204.60" width="173.20" height="6.05" fill="url(#g49)"/>
<rect x="505.40" y="209.65" width="173.20" height="5.05" fill="url(#g50)"/>
<rect x="505.40" y="221.90" width="173.20" height="50.80" fill="#0b0000"/>
<rect x="505.40" y="221.90" width="173.20" height="6.08" fill="url(#g51)"/>
<rect x="505.40" y="226.98" width="173.20" height="6.08" fill="url(#g52)"/>
<rect x="505.40" y="232.06" width="173.20" height="6.08" fill="url(#g53)"/>
<rect x="505.40" y="237.14" width="173.20" height="6.08" fill="url(#g54)"/>
<rect x="505.40" y="242.22" width="173.20" height="6.08" fill="url(#g55)"/>
<rect x="505.40" y="247.30" width="173.20" height="6.08" fill="url(#g56)"/>
<rect x="505.40" y="252.38" width="173.20" height="6.08" fill="url(#g57)"/>
<rect x="505.40" y="257.46" width="173.20" height="6.08" fill="url(#g58)"/>
<rect x="505.40" y="262.54" width="173.20" height="6.08" fill="url(#g59)"/>
<rect x="505.40" y="267.62" width="173.20" height="5.08" fill="url(#g60)"/>
<line x1="504.20" y1="273.0" x2="678.90" y2="273.0" stroke="#222" stroke-width="1"/>
<line x1="504.70" y1="273" x2="504.70" y2="275.6" stroke="#222" stroke-width="1"/>
<line x1="591.65" y1="273" x2="591.65" y2="275.6" stroke="#222" stroke-width="1"/>
<line x1="678.60" y1="273" x2="678.60" y2="275.6" stroke="#222" stroke-width="1"/>
<text transform="translate(503.80 290.50) scale(0.930 1)" font-size="16.2" text-anchor="middle">0</text>
<text transform="translate(590.75 290.50) scale(0.930 1)" font-size="16.2" text-anchor="middle">21</text>
<text transform="translate(677.70 290.50) scale(0.930 1)" font-size="16.2" text-anchor="middle">42</text>
<text transform="translate(512.00 306.40) scale(0.935 1)" font-size="15" text-anchor="start">Propagation direction <tspan font-style="italic">z</tspan> (cm)</text>
<text transform="translate(504.70 158.60) scale(0.950 1)" font-size="14" text-anchor="start">Asymmetric pumping</text>
<text transform="translate(623.70 158.90) scale(0.950 1)" font-size="15.5" text-anchor="start">(</text>
<text transform="translate(629.00 158.20) scale(0.950 1)" font-size="14" text-anchor="start" font-style="italic">κ</text>
<text transform="translate(635.40 160.70) scale(1.000 1)" font-size="9.6" text-anchor="start" font-weight="bold">NNN</text>
<text transform="translate(657.60 158.90) scale(0.950 1)" font-size="15.5" text-anchor="start">)</text>
<path d="M629.90 151.0 q1.2 -2.0 2.4 -0.9 q1.2 1.1 2.4 -1.0" fill="none" stroke="#111" stroke-width="1.0"/>
<text transform="translate(498.40 173.20) scale(1.000 1)" font-size="13.2" text-anchor="end">1</text>
<text transform="translate(502.90 217.70) scale(1.000 1)" font-size="13.2" text-anchor="end">10</text>
<text transform="translate(498.40 230.30) scale(1.000 1)" font-size="13.2" text-anchor="end">1</text>
<text transform="translate(502.90 274.00) scale(1.000 1)" font-size="13.2" text-anchor="end">10</text>
<text x="8.2" y="176.0" font-size="11.8" fill="#ff1f1f">input</text>
</svg>
</body>
</html>
